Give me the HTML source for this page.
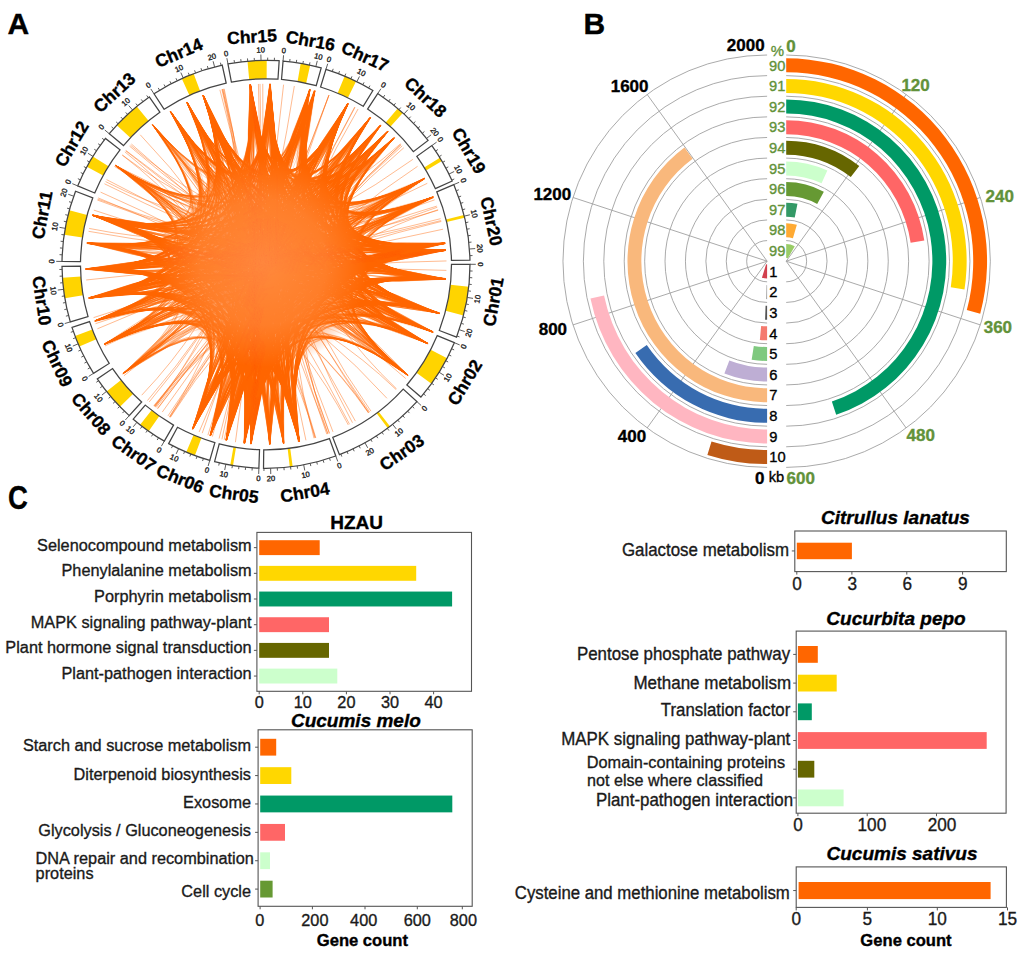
<!DOCTYPE html>
<html><head><meta charset="utf-8"><title>Figure</title>
<style>
html,body{margin:0;padding:0;background:#fff;}
body{width:1024px;height:966px;overflow:hidden;}
svg{display:block;font-family:"Liberation Sans", sans-serif;}
</style></head><body>
<svg width="1024" height="966" viewBox="0 0 1024 966">
<rect width="1024" height="966" fill="#fff"/>
<text x="7.6" y="33.9" font-size="30" font-weight="bold" stroke="#000" stroke-width="0.35">A</text>
<text x="583.6" y="33.9" font-size="30" font-weight="bold" stroke="#000" stroke-width="0.35">B</text>
<text transform="translate(7.9 508.6) scale(0.84 1)" x="0" y="0" font-size="32.8" font-weight="bold" stroke="#000" stroke-width="0.35">C</text>
<g id="circos">
<defs><radialGradient id="core"><stop offset="0" stop-color="#FF6E14" stop-opacity="1"/><stop offset="0.55" stop-color="#FF6E14" stop-opacity="0.95"/><stop offset="1" stop-color="#FF6E14" stop-opacity="0"/></radialGradient></defs>
<circle cx="269" cy="266.3" r="100" fill="url(#core)"/>
<path d="M221.92 89.26Q266 264.3 210.21 435.96M223.53 88.87Q266 264.3 244.36 443.5M224.16 88.72Q266 264.3 210.19 435.96M222.7 89.07Q266 264.3 210.56 436.07M283.59 84.66Q266 264.3 226.66 440.46M294.34 86.04Q266 264.3 210.07 435.91M328.98 95.14Q266 264.3 192.56 429.19M328.86 95.1Q266 264.3 226.45 440.41M329.03 95.16Q266 264.3 192.52 429.16M355.02 107.28Q266 264.3 250.67 444.15M354.69 107.09Q266 264.3 250.76 444.16M358.06 109.04Q266 264.3 250.92 444.17M400.42 143.83Q266 264.3 85.57 269.24M403.82 147.75Q266 264.3 192.67 429.23M401.15 144.66Q266 264.3 226.02 440.32M402.19 145.84Q266 264.3 193.07 429.41M400.95 144.43Q266 264.3 226.17 440.35M412.86 159.36Q266 264.3 88.67 297.98M438.2 210.2Q266 264.3 85.56 268.87M438.05 209.73Q266 264.3 192.57 429.19M436.85 206.08Q266 264.3 86.77 242.89M437.25 207.27Q266 264.3 104.18 344.26M441.33 221.43Q266 264.3 104.2 344.3M441.12 220.54Q266 264.3 88.72 298.24M440.64 218.68Q266 264.3 85.56 268.92M396.58 388.92Q266 264.3 250.63 84.46M396.01 389.51Q266 264.3 85.56 268.84M386.95 398.29Q266 264.3 92.34 215.09M368.58 412.82Q266 264.3 202.89 95.19M368.43 412.92Q266 264.3 86.8 242.68M370.96 411.15Q266 264.3 250.45 84.47M368.93 412.57Q266 264.3 86.75 243.11M348.31 424.94Q266 264.3 92.28 215.3M327.92 433.85Q266 264.3 347.99 103.5M329.33 433.33Q266 264.3 269.69 83.84M327.87 433.87Q266 264.3 187.16 101.93M329.46 433.28Q266 264.3 269.67 83.84M326.83 434.24Q266 264.3 250.19 84.49M314.02 438.29Q266 264.3 314.78 90.52M315.78 437.8Q266 264.3 203.04 95.14M315.02 438.02Q266 264.3 186.8 102.1M315.35 437.92Q266 264.3 115.15 165.18M168.01 415.88Q266 264.3 380.9 125.1M169.56 416.88Q266 264.3 250.3 84.48M170.35 417.38Q266 264.3 433.47 196.96M169.51 416.84Q266 264.3 387.9 131.18M155.08 406.7Q266 264.3 445.24 243.01M157.4 408.47Q266 264.3 388.17 131.43M149.22 401.93Q266 264.3 309.83 89.2M155.34 406.9Q266 264.3 250.2 84.49M156.12 407.5Q266 264.3 445.27 243.3M157.69 408.69Q266 264.3 380.78 125M153.78 405.68Q266 264.3 445.95 250.25M154.19 406Q266 264.3 424.77 178.43M141.72 395.2Q266 264.3 270.13 83.85M89.1 228.42Q266 264.3 424.84 178.56M88.54 231.31Q266 264.3 445.26 243.15M98.15 197.92Q266 264.3 408.12 375.58M104.46 183.77Q266 264.3 439.69 313.4M106.59 179.63Q266 264.3 433.32 332M105.57 181.58Q266 264.3 433.36 196.7M122.33 155.03Q266 264.3 445.21 242.73M125.9 150.49Q266 264.3 445.91 278.84M124.83 151.82Q266 264.3 299.43 441.68M122.26 155.12Q266 264.3 283.52 443.95M130.44 145.12Q266 264.3 445.29 243.46M129.56 146.13Q266 264.3 433.23 332.23M131.42 144.02Q266 264.3 408.19 375.49M140.26 134.8Q266 264.3 299.17 441.73M100.56 192.11Q266 264.3 408.29 375.36M224.16 439.88Q266 264.3 250.24 84.49M434.62 199.9Q266 264.3 92.23 215.46M93.82 210.12Q266 264.3 433.13 332.48M333 431.9Q266 264.3 250.03 84.51M446.4 270.38Q266 264.3 85.56 269.05M97.7 199.07Q266 264.3 445.96 250.37M355.39 421.11Q266 264.3 186.9 102.05M95.54 323.65Q266 264.3 445.97 250.53M170.1 417.22Q266 264.3 388.24 131.49M260 83.9Q266 264.3 225.88 440.28M258.42 83.96Q266 264.3 244.65 443.53M93.56 317.63Q266 264.3 424.67 178.26M86.18 279.99Q266 264.3 433.77 197.71M443.05 229.19Q266 264.3 94.7 321.2M125.69 150.75Q266 264.3 428.07 343.76M262.77 83.83Q266 264.3 226.17 440.35M199.14 431.96Q266 264.3 387.62 130.92M97.42 328.81Q266 264.3 380.81 125.02M235.42 442.19Q266 264.3 187.21 101.9M105 345.9Q266 264.3 445.96 250.36M405.77 378.52Q266 264.3 170.45 111.17M221.91 439.33Q266 264.3 203.12 95.11M154.7 406.4Q266 264.3 310.23 89.3M424.71 178.32Q266 264.3 88.61 297.67M417.59 166.31Q266 264.3 192.57 429.19M446.47 260.95Q266 264.3 88.62 297.71M97.33 200.02Q266 264.3 445.94 278.51M114.36 166.4Q266 264.3 445.94 250.14M147.51 400.47Q266 264.3 314.22 90.36M369.66 412.07Q266 264.3 186.42 102.29M219.9 89.79Q266 264.3 299.46 441.67M305.94 440.33Q266 264.3 270.16 83.85M349.57 424.29Q266 264.3 152.38 124.05M202.19 433.14Q266 264.3 269.96 83.84M86.7 243.54Q266 264.3 445.9 279.02M154.44 406.19Q266 264.3 388.32 131.57M162.3 412.04Q266 264.3 380.38 124.66M207.88 435.19Q266 264.3 250.04 84.51M123.99 375.72Q266 264.3 387.77 131.06M352.47 422.74Q266 264.3 249.86 84.52M222.4 89.14Q266 264.3 298.29 441.89M427.31 183.31Q266 264.3 88.75 298.39M219.08 438.6Q266 264.3 270.17 83.85M212.36 436.65Q266 264.3 203.17 95.09" fill="none" stroke="#FF6A0D" stroke-opacity="0.7" stroke-width="0.65"/>
<path d="M173.38 115.95Q266.47 259.16 386.96 132.38M171.8 114Q278.93 262.72 210.91 432.49M171.86 113.34Q285.11 257.81 283.2 440.62M171.38 113.21Q282.12 260.7 244.63 442.28M171.43 113.38Q255.24 257.48 89.2 243.2M171.52 113.49Q265.56 254.13 348.01 103.95M171.74 113.02Q257.14 259.53 88.12 268.82M171.62 112.9Q286.14 256.44 298.87 438.14M173.02 115.62Q261.17 246.75 269.82 85.61M173.04 115.39Q286.12 256.45 298.97 439.8M170.89 112.3Q266.47 259.19 384.07 135.69M172.1 113.69Q253.55 278.09 427.82 343.58M176.05 120.08Q257.13 259.53 87.04 268.85M172.33 114.55Q265.54 254.06 347.11 104.6M172.45 114.27Q256.72 276.67 438.91 312.92M170.95 112.1Q282.65 260.28 250.85 442.58M170.78 111.75Q261.91 272.41 445.78 250.07M188.76 105.89Q257.2 258.05 88.98 243.35M187.07 102.59Q286.05 259.44 269.88 443.68M187.95 103.6Q255.36 275.67 431.24 331.33M187.25 103.07Q255.37 275.7 430.41 330.81M186.82 102.36Q254.11 276.19 427.07 343.04M187.23 102.96Q280.94 263.24 210.66 435.31M188.86 106.04Q284.61 260.81 251.06 443.91M188.95 106.5Q282.47 262.37 227.22 437.15M187.63 103.81Q284.57 260.83 250.81 443.44M187.75 103.25Q259.09 260.1 87.1 269.04M203.96 97.9Q260.75 260.75 91 268.55M204.22 98.41Q257.24 256.22 95.84 216.05M204.5 97.81Q263.17 268.72 441.5 250.43M204.06 97.78Q263.2 262.72 90.96 297.64M203.77 96.67Q280.83 264.77 193.57 426.76M204.8 100.22Q263.62 268.19 438.92 243.77M203.33 96.26Q263.61 268.21 443.69 243.42M205.73 102.14Q266.81 250.44 346.5 106.93M203.89 97.06Q285.79 261.96 244.63 440.59M206.3 104.03Q267.72 255.5 384.27 135.13M203.8 96.4Q265.38 264 96.47 320.29M203.87 96.34Q286.36 261.53 251.15 441.03M203.29 96Q260.97 270.94 444.33 278.95M203.72 96.6Q258.93 258.73 87.83 243.03M203.2 95.61Q263.2 262.72 90.32 297.81M204.63 99.1Q266.2 263.86 430.24 198.53M203.71 97.06Q257.95 273.04 439.58 313.22M203.36 96.43Q257.93 273.06 433.96 311.81M204.15 98.34Q280.81 264.76 193.94 426.06M203.3 95.96Q260.79 260.79 87.08 269.14M203.24 95.94Q263.63 268.19 445.02 243.04M203.01 95.55Q263.18 262.71 88.89 297.94M203.69 97.02Q255.21 250.77 116.42 166.09M203.52 96.19Q266.94 261.8 422.39 179.73M250.84 91.45Q265.13 263.52 88.67 269M250.59 86.18Q290.15 264.7 244.53 443.26M250.28 86.29Q268.93 259.53 432.28 197.56M250.79 89.26Q263.26 261.47 87.28 242.88M250.68 87.58Q269.56 246.09 347.97 104.02M250.21 84.75Q265.14 263.53 87.15 269.17M250.39 87.68Q260.65 268.73 436.78 312.77M250.5 88.53Q269.67 257.47 419.12 181.44M250.56 87.55Q261.58 258.96 93.79 215.35M250.74 92.61Q269.53 246.11 347.11 105.34M250.35 85.08Q288.55 265.81 227.32 436.68M250.23 85.3Q240.5 267.79 298.62 439.53M250.44 85.33Q269.54 246.03 346.3 105.85M250.54 85.91Q266.37 263.85 444.98 243.31M251.23 93.02Q288.58 265.82 227.2 437.58M250.61 86.07Q253.7 270.98 407.61 374.74M250.33 84.87Q269.54 246.07 345.02 109M250.21 85.49Q260.64 268.73 437.68 313.11M250.68 84.83Q266.38 263.83 443.69 243.49M250.63 87.01Q292.13 262.9 269.62 440.08M250.57 86.93Q239.18 266.78 283.24 440.93M250.58 86.68Q257.56 270.09 423.37 341.27M270.15 85.29Q264.81 262.92 87.4 243.06M269.75 85.98Q271.63 247.29 369.38 118.84M270.34 84.07Q266.68 264.98 89.88 268.92M269.79 86.9Q240.61 265.28 283.29 439.48M270.13 85.39Q266.66 264.96 85.82 268.9M270.09 85.88Q267.31 262.92 444.12 250.62M269.97 83.95Q265.15 265.07 441.27 278.67M270.47 86.95Q266.69 264.99 88.36 268.84M270.26 86.66Q271.85 248.58 379.49 126.27M270.24 87.2Q291.68 266.15 244.51 442.79M269.94 84.73Q292.18 265.69 250.98 442.29M269.72 88.75Q255.08 269.48 402.39 370.96M270.22 87.54Q258.99 268.56 423.32 341.35M270.17 85.71Q267.81 262.31 440.45 243.73M270.01 91.01Q267.82 262.3 442.33 243.4M270.31 83.89Q258.96 268.57 425.35 342.73M270 85.89Q258.95 268.58 427.19 343.55M270.18 84.52Q270.99 244.54 347.97 103.58M269.55 84.52Q241.91 266.29 298.96 441.01M269.93 83.9Q267.31 262.92 445.65 250.31M270.08 84.47Q266.66 264.96 86.25 269.02M270.04 87.43Q271.9 249.62 386.32 132.98M269.7 86.58Q271.89 250.63 393.77 138.49M269.73 86.54Q277.28 270.03 125.07 372M269.62 87.95Q264.77 262.89 92.98 243.7M269.93 86.66Q288.53 268.12 211.08 433.41M269.95 85.52Q273.66 269.19 107.11 342.41M270.12 85.73Q271.91 249.62 386.58 132.76M270.14 84.83Q267.8 262.33 445.18 243.35M270.15 84.04Q288.55 268.13 210.93 434.23M270.11 84.74Q292.2 265.7 250.92 443.02M270.09 84.11Q258.99 268.56 426.94 342.92M270.22 86.57Q286.72 268.96 193.8 426.69M270.36 86.94Q265.21 265.01 445.87 278.75M269.87 84.76Q265.15 265.07 440.88 278.62M270.14 87.68Q260.22 268.09 431.49 331.67M269.85 85.44Q267.79 262.33 441.23 243.64M269.97 85.95Q260.79 249.07 152.98 124.83M269.78 87.89Q265.17 265.05 445.52 278.68M269.78 85.74Q264.78 262.9 90.53 243.44M270.09 86.88Q290.11 267.24 227.29 437.6M307.7 99.15Q289.32 272.35 194.57 425.26M309.59 90.9Q275.23 246.01 377.67 128.39M308.87 93.94Q241.57 260.25 251.18 443.82M309.12 91.65Q271.18 259.74 441.9 243.53M309.38 91.96Q268.55 262.48 439.46 278.67M310 89.52Q275.3 247.04 387.3 132.01M309.44 91.76Q289.34 272.34 194.78 425.28M309.31 92.09Q289.28 272.35 193.81 426.17M309.59 89.76Q269.23 268.33 86.62 268.92M310.08 89.81Q276.29 272.62 104.64 343.88M308.49 95.08Q241.54 260.22 250.89 443.26M309.75 89.62Q245.35 263.69 298.69 438.14M309.52 92.27Q240.01 258.08 226.23 440.25M313.33 95.96Q271.64 259.48 444.59 243.49M314.27 92.47Q245.82 263.4 298.84 439.59M314.24 92.79Q266 264.3 94.38 215.99M314.22 91.89Q274.95 253.11 423.72 179.27M314.47 92.62Q274.25 255.12 431.31 197.97M313.12 96.55Q241.55 259.41 244.22 443.19M314.38 92.06Q264.08 265.24 430.55 331.11M314.69 91.24Q263.96 258.84 120.88 169.23M314.28 91.11Q245.8 263.43 298.6 437.46M313.3 95.6Q264.03 250.65 171.33 113.47M314.49 91.94Q264.61 248.67 187.3 102.16M313.73 92.72Q240.41 257.87 227.09 437.72M314.69 90.66Q241.56 259.42 244.63 441.05M314.5 91.64Q269.54 268.84 89 269.24M313.98 93.36Q289.55 272.8 193.38 427.34M346.41 106.58Q277.7 253.6 431.77 197.62M346.04 107.08Q245.48 258.49 251.43 442.98M346.18 107.27Q267.52 263.74 431.54 331.85M346.37 106.56Q274.65 258.51 444.22 250.11M346.67 106.01Q272.47 260.69 443.96 278.93M345.24 108.77Q249.25 261.87 298.83 441.03M348.14 103.85Q266.3 264.2 427.86 343.81M346.04 106.99Q265.16 256.42 152.71 125.14M347.94 103.84Q274.66 258.52 444.39 250.25M345.94 106.66Q267.54 263.72 432.78 331.59M345.91 107.85Q278.45 251.56 424.03 178.95M345.92 107.98Q273.46 274.25 93.18 297.37M346.96 105.24Q274.62 258.54 443.93 250.43M347.48 104.5Q266.81 250.4 204.81 99.17M347.61 104.74Q245.5 258.45 251.2 442.31M347.17 105.61Q267.57 263.71 431.19 331.26M347.57 103.77Q272.44 260.71 442.22 278.87M346.4 107.15Q266.11 252.18 187.58 103.57M347.77 103.89Q269.55 246.08 250.48 86.54M347.84 103.91Q246.87 259.93 270.08 444.4M346 107.41Q277.69 253.62 428.8 199M347.22 104.3Q269.53 246.05 250.49 87.1M347.72 104Q278.44 251.54 419.87 180.84M370.21 117.24Q246.6 255.65 226.68 438.41M368.16 120.56Q268.15 270.42 93.16 215.03M368.71 120.15Q271.69 275.01 89.71 268.82M369.02 118.74Q278.74 279.21 109.25 341.81M369.68 117.64Q268.98 263.54 426.4 342.72M369.63 118.69Q268.18 270.49 93 215.67M370.22 117.93Q266.13 264.97 118.14 166.77M367.17 122.48Q278.73 279.27 105.08 343.69M369.74 118.39Q280.43 252.92 430.97 197.86M368.33 119.98Q249.54 259.25 269.81 440.61M370.51 117.52Q275.19 260.04 445.17 279.26M368.95 119.12Q281.13 250.91 421.09 180.59M368.45 120.41Q271.69 275.01 86.38 268.92M369.68 118.68Q269.84 272.97 89.43 243.3M370.12 117.67Q269.01 263.54 427.62 343.42M369.42 118.69Q274.12 276.94 90.08 297.9M369.95 117.93Q246.63 255.68 226.67 440.01M369.77 118.33Q278.74 279.25 106.48 343.19M379.7 126.5Q253.39 261.06 299.15 439.67M380.77 125.52Q271.67 262.86 433.28 331.93M379.08 127.21Q268.35 271.82 95.85 216.29M380.13 125.88Q271.82 248.64 269.89 84.54M377.87 128.99Q279.2 257.13 443 243.76M377.88 128.95Q246.31 252.09 193.1 427.77M380.43 125.53Q267.64 254.51 203.07 95.55M380.2 125.6Q279.18 257.11 443.42 243.42M379.27 126.41Q279.16 257.11 443.3 243.46M379.19 126.84Q281.77 252.75 430.81 197.94M380.55 125.01Q246.27 252.11 193.63 426.99M379.01 126.98Q269.99 274.26 91.77 243.23M378.05 128.43Q274.29 278.3 89.8 297.8M378.47 127.68Q271.87 276.33 90.9 268.82M378.55 127.59Q247.97 255.47 226.78 438.2M377.87 128.32Q276.5 259.87 444.38 279.32M383.84 136Q271.98 277.4 87.75 269.34M387.23 132.14Q249.01 255.42 227.09 438.01M387.01 132.54Q270.07 275.31 92.46 243.37M387.85 131.34Q250.54 257.53 251 442.2M387.64 131.96Q274.54 261.88 439.67 313.4M386.15 133.09Q274.37 279.3 91.89 297.58M386.67 132.38Q267.73 255.46 204.19 97.67M386.62 132.81Q254.37 260.98 299.03 440.28M387.04 131.81Q250.53 257.55 251.36 441.17M386.74 132.69Q248.12 253.87 210.85 434.06M386.31 132.66Q277.53 259.77 444.34 278.85M386.36 132.91Q268.42 272.81 92.34 215.24M387.78 131.31Q275.32 247.02 309.54 92.12M391.3 141.24Q282.62 283.45 123.13 373.65M394.3 137.74Q271.9 250.61 269.83 85.44M390.76 141.34Q281.17 257.01 444.19 243.2M393.34 139.05Q267.74 256.49 203.96 97.56M394.05 137.79Q270.49 252.1 250.94 90.31M391.79 140.34Q251.08 256.98 244.49 443.25M393.69 138.61Q273.62 262.78 428.5 330.04M392.09 139.75Q266.49 260.1 171.68 113.11M394.59 137.7Q271.92 250.61 270.02 88.23M393.55 138.39Q280.69 257.58 444.76 250.15M390.94 140.56Q271.99 278.3 88.65 269.23M390.31 141.58Q276.55 281.53 95.25 320.8M392.49 139.86Q278.54 259.75 445.54 278.99M393.69 138.37Q268.43 273.77 95.38 215.99M388.92 143.15Q270.48 252.13 250.29 84.62M393.98 138.18Q272.34 263.27 425.63 342.51M393.41 139.07Q271.95 278.34 88.58 268.72M390.25 141.92Q251.52 257.51 250.91 442.92M392.35 139.34Q271.95 278.28 87.35 268.83M421.41 180.87Q278.41 251.62 346.97 105.22M424.61 178.41Q256.83 258.3 250.87 442.94M423.67 178.97Q253.58 252.78 194.58 424M421.53 180.34Q255.29 256.18 226.45 439.42M424.17 179.18Q259.36 260.76 283.57 443.18M422.3 179.99Q269.68 257.47 250.57 86.86M424.73 178.52Q281.16 250.89 367.47 121.71M424.2 178.6Q283.81 260.57 440.13 278.95M418.66 181.78Q278.4 251.57 346.41 105.84M420.47 180.84Q265.7 265.44 174.51 117.41M422.04 180.15Q273.59 285.63 90.54 297.85M424.32 178.5Q260.67 261.77 299.35 440.5M422.77 179.5Q275.78 286.89 97.74 320.32M424.46 178.17Q260.62 261.74 299 440.31M421.84 180.55Q260.69 261.76 298.85 440.59M424.57 178.43Q253.58 252.8 193.48 426.91M424.04 178.67Q267.64 279.1 95.84 216.23M432.76 197.3Q266.2 263.84 203.91 97.25M430.05 198.24Q266.2 263.85 203.27 96.26M432.81 197.2Q270.45 285.71 87.15 269.26M432.19 197.61Q270.39 257.97 270.18 84.63M432.13 197.5Q270.4 257.95 270.29 84.42M431.52 197.43Q277.71 253.57 344.57 110.13M430.9 198.14Q266.89 281.16 93.33 215.34M431.49 198.06Q274.23 255.14 314.19 92.81M430.04 198.89Q256.51 255.41 210.52 435.44M431.73 197.78Q255.39 240.54 105.13 343.57M430.51 198.57Q268.92 259.55 250.24 85.24M433.22 197.21Q275.01 288.93 96.69 320.37M430.77 198.39Q266.88 281.17 93.26 215.25M432.57 197.49Q282.88 263.4 439.22 313.19M429.44 198.47Q279.68 264.8 426.71 343.23M441.71 243.81Q267.78 262.34 270.01 85.58M436.32 244.35Q264.31 285.52 94.57 215.92M439.95 243.95Q263.25 261.64 251.5 437.19M438.94 244Q271.2 259.73 309.58 91.22M441.36 243.49Q260.79 257.95 210.98 433.41M445.04 243.25Q262.8 261.09 244.81 439.78M443.51 243.68Q264.29 285.52 93.57 215.42M439.7 243.55Q262.95 269.88 187.35 102.6M442.29 243.66Q275.11 257.96 346.34 106.67M442.42 243.62Q263.25 261.64 251.18 440.88M445.11 243.51Q285.34 266.93 429.03 330.45M443.24 243.73Q267.82 290.07 90.16 268.85M442.97 243.63Q261.68 259.49 226.73 437.44M442.59 243.74Q262.03 238.55 92.59 297.68M444.57 243.49Q262.27 280.06 118.95 167.73M439.15 244.05Q262.79 261.07 244.65 438.18M443.58 243.18Q267.86 290.02 88.64 268.84M445.16 243.25Q285.32 266.91 432.75 331.96M442.14 243.35Q263.63 268.19 203.97 98.03M445.1 243.04Q263.23 261.62 250.97 443.84M444.01 243.43Q264.6 263.08 269.42 440.79M443.97 243.65Q260.01 256.14 193.26 427.46M443.69 243.21Q264.62 263.1 269.98 442.14M444.34 243.46Q262.36 271.89 171.55 113.6M442.48 243.68Q260.81 257.96 210.13 435.8M442.39 243.58Q275.13 257.95 347.82 104.2M441.66 250.8Q278.7 257.7 379.9 126.1M445.09 250.29Q284.62 267.87 424.62 342.25M440.5 250.42Q277.38 257.84 368.46 120.14M440.95 250.41Q262.59 238.97 95.79 296.79M442.43 250.46Q284.64 267.86 426.76 343.07M445.01 250.33Q263.85 262.14 251.51 441.75M442.55 250.6Q267.37 290.64 85.96 269.11M445.65 250.3Q263.13 268.79 203.33 96.24M445 250.11Q262.24 259.96 226.57 439.06M444.57 250.25Q265.53 288.6 86.84 243.21M439.96 250.38Q279.76 257.59 387.05 132.54M441.73 250.72Q277.37 257.87 367.4 121.99M443.01 250.35Q266.28 264.54 283.28 440.13M445.64 250.03Q285.86 267.37 431.12 331.49M444.62 250.35Q261.39 258.45 210.65 434.86M442.69 250.33Q261.52 274.74 154.9 127.3M440.25 250.98Q263.83 286.13 92.3 215.39M445.66 250.27Q260.31 243.61 107.85 342.49M441.58 250.53Q265.88 264.45 250.69 91.38M445.41 250.27Q262.46 270.48 187.63 103.08M444.22 250.27Q263.15 268.77 204.59 99.35M445.56 250.12Q267.35 290.59 86.81 268.59M441.82 250.52Q267.34 262.88 270.14 90.19M444.46 250.12Q260.55 256.59 193.23 427.59M443.76 250.47Q267.31 262.92 269.91 86.12M442.86 250.36Q267.33 262.89 270.04 86.32M443.98 279.31Q265.56 263.76 244.42 442.59M441.87 278.77Q259.72 274.62 174.23 117.93M445.11 279.19Q267.37 265.75 269.83 444.3M445.64 279.23Q265.98 264.28 250.88 442.89M442.15 279.05Q266.72 238.77 93.09 269M440.69 278.61Q269.01 262.21 314.71 90.51M440.76 278.78Q260.98 270.92 204.54 98.44M443.2 278.94Q282.93 270.93 405.69 373.57M444.83 278.82Q261 270.9 204.17 97.5M443.81 278.86Q269.03 262.19 314.24 93.23M439.79 278.92Q260.94 270.96 203.4 96.14M444.63 278.73Q265.18 265.04 270.05 85.03M444.59 279.27Q259.71 274.61 171.59 113.12M445.71 278.87Q272.48 260.68 347.84 103.56M444.62 279.15Q275.17 260.04 369.55 118.46M445.11 279.11Q269.77 267.71 298.58 439.68M441.15 278.77Q268.51 262.5 308.97 91.6M444.92 279.01Q263.71 266.6 250.69 89.65M441.04 278.59Q265.17 265.05 270.12 85.81M445.27 278.87Q278.54 259.75 394.24 138.03M440.91 278.47Q265.18 265.04 270.08 87.98M439.72 278.34Q264.77 241.11 89.66 297.6M441.26 278.72Q264.76 241.17 90.6 297.95M442.71 279.01Q268.56 262.47 309.32 92.88M444.76 278.84Q269.04 262.19 314.01 93.94M439.03 313.02Q266.52 265.18 226.97 437.83M439.23 313.05Q266.88 244.15 92.56 297.15M437.32 312.67Q260.69 268.69 250.37 84.51M434.91 312.05Q270.89 239.9 88.18 242.88M436.78 312.59Q269.41 262.81 347.18 104.7M435.99 312.3Q266.86 244.2 91.93 297.66M439.69 313.42Q280.82 262.66 424.56 178.62M438.24 312.79Q270.55 269.74 283.47 441.89M434.78 312.27Q266.89 244.22 89.59 297.98M435.74 312.37Q272.12 262.14 370.19 117.38M435.28 312.14Q266.54 265.21 227.7 435.53M439.61 313.43Q267.64 266.76 244.59 440.25M439.63 313.61Q262.08 267.2 269.8 84.6M435.54 312.41Q264.85 261.84 192.84 428.75M435.84 312.05Q264.81 261.76 193.32 426.83M437.37 312.3Q267.61 266.72 244.27 442.8M433.16 311.6Q275.44 261.87 391.61 139.96M438.62 312.93Q260.68 268.72 250.4 88.82M437.18 312.97Q265.62 246.38 99.87 319.29M437.52 312.73Q273.54 261.95 379.01 127.51M438.98 312.82Q264.81 261.77 192.64 428.79M433.54 311.8Q265.63 246.32 98.15 319.36M437.31 313.22Q273.38 238.3 92.84 215.51M438.85 313.08Q271.87 270.73 298.37 438.31M439.28 313.14Q269.45 262.79 345.85 107.87M438.8 312.76Q257.96 273.04 204.89 100.69M431.99 331.35Q285.36 266.91 442.58 243.69M425.94 329.44Q271.58 262.89 377.71 128.48M431.51 331.21Q258.82 269.61 250.66 88.14M432.7 332.06Q285.88 267.38 443.67 250.33M429.48 330.84Q285.31 266.93 444.79 243.44M431.08 331.69Q266.55 248.28 95.45 320.71M432.96 332.32Q264.08 265.24 314.45 92.87M431.17 331.36Q267.44 267.06 226.42 439.05M432.49 331.68Q268.57 268.66 244.63 442.31M431.85 331.99Q267.48 263.75 346.56 105.6M425.43 342.11Q266.23 264.93 192.73 428.85M427.7 343.41Q253.17 280.44 156.13 129.15M424.19 341.53Q257.56 270.1 250.29 84.96M424.09 341.83Q266.25 264.98 194.61 424.99M427.07 343.01Q265.13 255.56 125.7 371.73M428.08 343.52Q266.24 264.96 193.04 428.51M425.9 342.55Q254.8 274.45 203.49 96.61M426.73 343.06Q269.04 269.91 244.62 440.59M428.04 343.61Q269.05 269.91 245.07 437.58M425.67 342.53Q279.71 264.8 429.92 198.4M425.49 342.37Q269.01 263.54 368.18 120.42M427.78 343.34Q253.57 278.1 170.59 111.65M425.2 342.04Q253.48 286.28 115.72 165.45M405.55 373.49Q280.15 268.25 443.3 243.06M405.65 373.43Q269.92 273.76 244.19 442.65M404.5 372.36Q268.5 264.16 393.56 138.75M404.51 372.36Q270.37 274.3 250.96 442.15M405.95 373.29Q267.89 253.35 98.97 319.75M404.66 372.54Q275.86 265.7 431.61 197.86M405.87 373.8Q268.82 272.22 227.57 434.92M405.49 373.09Q266.52 264.24 380.21 125.86M407.29 374.49Q280.79 268.75 444.18 250.37M407.3 374.18Q273.84 264.95 423.98 178.8M403.62 371.95Q280.21 268.3 443.16 243.74M402.23 371.12Q262.39 265.1 347.76 103.89M406.02 374.13Q273.15 246.97 87.48 243.19M405.56 373.47Q258.96 266.6 314.93 90.61M298.53 437.03Q267.65 265.56 445.92 250.3M299.17 440.41Q240.54 267.8 250.37 84.69M298.72 439.15Q289.78 257.71 203.92 97.02M298.59 439.75Q249.26 261.87 347.17 105.36M299.13 441.59Q289.76 257.71 203.43 96.24M299.26 441.26Q265.97 264.34 93.13 297.28M298.13 434.5Q272.83 272.64 425.47 328.77M299.22 440.72Q241.99 266.25 270.23 87.36M298.81 441.76Q267.6 265.53 445.4 250.39M299.08 441.22Q264.69 266.52 98.13 319.87M298.35 439.18Q273.26 273.86 427.23 343.16M298.21 435.6Q273.31 273.91 425.73 342.56M298.91 440.44Q263.66 268.98 105.9 343.35M299 441.5Q249.25 261.88 347.09 104.98M298.76 440.77Q264.68 266.54 97.5 320.03M298.86 439.92Q271.88 270.74 439.08 313.05M298.66 438.75Q267.58 265.51 445.88 249.68M299.33 440.93Q240.55 267.8 250.47 85.65M298.84 438.7Q273.31 273.89 426.94 343M299.42 441.1Q272.45 258.39 94.27 216M298.69 438.37Q269.79 267.71 445.85 279.01M298.92 440.67Q260.62 261.74 423.26 178.96M298.85 440.77Q240.5 267.79 250.3 85.75M298.37 437.69Q240.5 267.8 250.5 88.69M298.98 440.35Q263.92 281.95 193.99 425.54M283.19 439.32Q247.94 260.89 347.3 104.79M283.5 441.05Q247.94 260.9 347.84 103.45M283.55 439.12Q261.37 261.5 431.28 197.61M283.52 441.36Q261.36 261.49 427.98 199.05M283.47 443.07Q239.18 266.78 250.69 89.34M283.72 443.19Q268.47 266.74 445.69 279.23M283.65 442Q264.98 265.67 90.08 297.85M283.18 442.81Q264.95 265.7 91.66 297.31M283.47 440.86Q262.68 270.28 106.31 343.04M282.59 435.57Q287.04 258.38 189.45 106.82M283.65 442.52Q247.98 260.89 346.64 106.66M283.42 440.61Q262.66 270.31 105.49 343.75M270.03 442.85Q239.55 264.29 270.12 84.7M269.63 443.58Q249.53 259.23 369.4 118.59M269.45 444.67Q287.76 260.17 203.19 95.6M269.87 442.08Q243.4 261.43 314.58 91.9M270.01 440.92Q275.94 258.78 119.77 168.43M269.55 442.68Q252.83 258.96 392.27 139.33M269.58 444.1Q265.91 264.4 86.84 269.13M269.86 443.44Q239.52 264.3 269.9 85.66M269.68 441.32Q263.99 266.78 90.7 297.64M269.81 441.49Q281.82 258.5 153.69 125.69M269.57 442.2Q249.56 259.23 369.56 118.91M269.99 443.35Q262.73 268.93 95.51 320.63M269.78 444.55Q286.09 259.46 188.88 105.3M269.93 443.15Q261.96 284.39 192.7 428.77M269.77 442.9Q239.52 264.29 269.98 84.47M269.63 443.84Q270.44 260.87 93.66 215.87M251.15 443.93Q250.54 257.55 387.25 131.74M250.84 443.92Q245.43 258.45 346.61 105.53M251.2 441.2Q245.47 258.45 347.83 103.86M250.69 442.93Q264.44 265.77 90.37 268.95M251.23 439.19Q263.24 261.63 442.3 243.58M250.9 441.93Q286.32 261.53 203.67 96.47M251.42 441.09Q290.64 264.2 249.75 84.82M251.26 441.15Q286.35 261.51 204.81 99.36M250.97 443.72Q265.99 264.28 445.31 279.13M251.18 443.47Q263.27 261.66 440.01 243.95M251.05 442.01Q268.1 267.34 433.52 311.93M250.63 444.01Q264.45 265.76 87.41 268.95M251.46 443.61Q268.12 267.34 438.49 312.94M251.63 435.45Q284.58 260.82 187.11 102.68M251.16 442.54Q264.47 265.74 86.44 269.09M251.63 437.36Q269.49 270.44 426.83 342.79M250.86 443.11Q266.49 263.9 89.59 243.49M251.17 440.47Q292.18 265.68 269.9 84.08M250.99 443.39Q263.25 261.64 441.64 243.74M250.9 440.71Q256.83 258.29 422.07 179.99M250.93 443.31Q284.57 260.82 187.22 103.2M250.88 444.03Q264.47 265.75 87.42 268.99M250.72 441.13Q292.17 265.74 270.09 89.19M244.32 442.33Q249.11 257.04 380.67 125.47M244.13 443.11Q268.54 268.61 430.38 330.73M244.76 439.77Q249.12 257.05 380.01 126.23M244.51 440.24Q263.91 266.2 86.77 268.94M244.91 439.24Q290.14 264.7 250.61 86.69M244 443.15Q273.9 260.64 117.25 166.64M244.69 440.75Q245.04 257.9 347.29 105.21M244.48 441.25Q262.77 261.06 443.41 243.22M244.73 443.14Q268.51 262.63 94.79 215.82M244.88 437.56Q245.02 257.89 347.87 103.81M244.63 439.99Q290.11 264.71 250.36 85.05M244.88 439.78Q251.08 256.98 393.48 138.68M244.79 440.35Q241.55 259.44 314.29 91.72M244.33 442.58Q290.12 264.71 250.43 84.96M244.47 443.36Q284.08 261.26 187.64 103.22M244.82 441.21Q262.82 261.11 441.22 243.78M244.6 439.99Q267.65 266.79 437.52 313.13M244.35 443.24Q241.56 259.42 313.75 94.33M244.92 440.61Q291.65 266.1 269.72 86.35M226.83 438.22Q264.38 265.44 89.23 243.32M226.65 438.65Q266.89 263.77 96.29 216.23M226.82 436.15Q243.87 256.28 345.08 108.91M226.94 438.77Q260.42 269.7 90.45 297.73M227.06 437.13Q284.23 263.09 203.77 96.2M226.94 437.48Q264.38 265.44 91.21 243.49M227.92 433.42Q262.34 267.31 88.8 269.05M228.74 429.99Q272.33 261.74 115.1 165.44M226.8 438.78Q290.07 267.24 269.92 85.82M226.78 439.52Q262.35 267.3 89.07 269.1M227.66 434.87Q259.14 271.87 98.17 319.75M226.66 438.59Q262.25 259.97 445.73 250.24M226.55 440.01Q243.87 256.35 347.36 103.76M226.78 438.28Q264.42 262.15 445.87 279.09M226.39 440.14Q264.4 262.13 445 278.79M226.62 439.56Q262.26 259.98 445.08 250.23M227.52 435.64Q267.46 267.09 428.99 330.43M227.05 437.84Q262.23 259.96 444.33 249.89M227.03 437.29Q243.9 256.32 345.5 108.26M226.29 440.03Q290.06 267.26 270.03 86.9M227.01 436.28Q266.53 265.19 439.27 313.52M226.83 438.38Q262.27 259.99 443.35 250.53M226.41 439.14Q260.38 269.73 90.47 297.71M226.64 439.19Q259.14 271.87 94.83 320.81M226.82 436.96Q266.87 263.79 95.08 215.92M227.89 434.22Q262.36 267.29 85.97 269.02M226.34 440Q249.91 255.38 393.5 138.13M226.84 436.17Q255.26 256.14 418.15 182M210.63 435.6Q265.37 264.63 94.15 215.71M210.59 435.45Q282.7 263.95 203.62 96.03M210.73 435.11Q243.03 254.8 347.77 103.78M210.36 435.39Q264.76 283.76 299.65 441.62M211.62 432.56Q265.68 263.7 437.77 313.1M210.61 434.88Q291.4 272.01 313.81 94.97M210.72 434.69Q254.39 254.64 424.5 178.31M211.1 433.83Q256.47 255.4 432.72 197.34M210.65 435.17Q260.83 268.16 87.4 268.83M210.55 434.55Q254.42 254.64 421.78 180.24M212.5 429.99Q291.42 271.97 313.42 95.57M210.51 434.14Q265.34 264.65 92.56 215.09M211.71 431.94Q247.08 253.95 379.38 126.22M210.12 435.9Q263.52 260.57 442.87 278.53M194.06 426.84Q259 269 88.17 269.16M193.36 427.38Q265.76 263.7 427.44 329.75M194.1 426.56Q266.25 264.98 424.36 341.71M192.43 428.91Q244.94 252.26 369.55 118.85M192.63 428.82Q264.81 261.77 436.89 312.25M192.78 428.86Q259.98 256.13 443.75 243.23M193.47 427.51Q257.05 271.39 92.73 297.11M193.11 428.77Q260.03 256.19 440.23 244.1M193.25 427.12Q262.71 258.74 440.58 278.51M192.37 429.08Q286.66 268.94 269.81 85.23M193.52 427.32Q264.85 261.84 435.24 312.26M193.83 426.13Q255.65 253.55 429.61 198.72M193.98 426.01Q255.64 253.55 432.39 197.43M193.07 428.59Q260.61 256.66 444.95 250.74M196.09 421.04Q285.14 267.5 250.22 85.62M193.48 427.1Q263.93 281.97 298.8 439.16M193.5 427.09Q261.96 284.4 269.94 443.76M193.08 427.79Q258.96 269 90.33 268.95M194.51 424.9Q260 256.15 444.37 243.49M123.93 372.68Q280.13 273.88 314.18 92.09M123.88 372.92Q255.71 278.83 211.01 433.23M124.04 372.89Q259.4 276.37 251.35 442.3M124.3 372.33Q277.3 270.06 270.22 85.65M123.42 372.98Q247.6 272.52 90.7 297.86M124.56 372.79Q275.82 268.63 250.47 84.52M108.61 342.13Q264.59 248.84 438.89 313.43M106.51 342.87Q262.68 270.28 283.58 442.27M104.19 344.1Q267.84 265.03 203.95 96.71M104.7 343.95Q258.1 274.34 226.58 439.12M105.77 343.66Q279.02 282.55 394.36 137.48M108.9 341.67Q262.66 270.3 283.4 442.99M105.03 343.85Q258.09 274.35 226.49 439.38M104.2 344.24Q259.67 273.23 244.57 440.37M104.81 344.03Q278.07 276.5 346.33 106.21M106.61 342.93Q265.98 251.94 426.5 342.87M107.07 342.65Q256.59 275.19 212.39 430.05M107.99 342.48Q278.08 276.54 345.98 107.73M109.15 341.65Q264.59 248.82 437.31 312.89M104.38 344.04Q262.46 245.76 444.76 278.88M104.31 344.49Q260.28 243.62 445.76 249.97M105.39 344.01Q278.09 276.5 344.08 110.46M106.47 343.17Q264.58 248.83 435.36 312.24M105.68 343.27Q267.76 265 202.99 96.15M96 320.51Q264.69 266.52 298.27 436.88M96.67 320.58Q262.71 268.96 269.91 444.68M95.37 320.93Q269.72 266.74 250.32 85.86M96.17 321.13Q276.58 280.6 387.39 131.79M102.55 318.31Q271.21 268.14 269.65 86.27M96.7 320.31Q260.69 270.78 244.74 438.06M95.91 320.65Q255.72 273.59 193.28 426.9M95.66 320.61Q262.75 268.91 270.13 440.31M96.6 320.3Q271.24 268.18 270.01 88.93M96.22 320.71Q264.7 266.5 299.48 441.13M94.8 320.97Q271.26 268.2 270.35 84.04M91.2 297.7Q262.52 268.17 251.24 440.25M89.34 297.76Q272.84 287.6 432.79 196.94M93.28 297.19Q266.89 244.21 436.75 312.84M94.11 297.01Q273.58 285.59 424.56 178.42M90.36 297.55Q274.36 280.23 392.93 138.84M92.27 297.24Q251.33 261.38 115.14 165.28M90.36 297.84Q265.96 264.36 298.75 439.53M90.88 297.72Q257.01 271.42 194.54 424.35M89.32 297.91Q269.06 266.89 269.85 85.01M88.86 297.98Q264.95 265.71 283.2 442.59M94.02 296.92Q271.66 270.3 309.43 91.9M89.5 297.99Q266.86 244.17 436.62 312.22M90.96 297.78Q267.56 265.48 250.53 86.17M89.64 297.88Q245.86 263.44 95.7 216.44M92.35 297.52Q267.54 265.47 250.51 88.75M89.67 297.88Q271.68 270.33 309.7 91.65M92.37 297.39Q266.88 244.2 433.43 311.66M91.1 297.7Q245.89 263.43 95.17 216.05M89.39 297.89Q262.03 238.5 442.57 243.5M89.49 297.76Q245.9 263.4 95.75 215.9M89.48 297.88Q263.2 262.72 204.31 98.36M90.81 297.78Q258.84 270.61 210.54 434.45M93.65 297.21Q245.89 263.43 93.75 215.7M95.51 296.82Q257.02 271.41 192.96 428.18M91.97 297.47Q257.04 271.4 193.54 427.46M89.92 297.91Q245.88 263.43 96.51 216.52M89.1 298.04Q271.94 270.78 314.76 91.25M85.68 269.01Q262.36 267.3 226.61 439.67M88.71 269.22Q258.95 269.02 193.22 427.8M86.87 268.64Q267.93 261.91 298.94 440.56M88.13 269.29Q270.2 244.95 427.52 343.51M93.71 268.58Q267.81 290.06 444.28 243.62M85.66 269.04Q257.14 259.54 170.69 111.57M85.95 269.2Q265.95 264.36 270.08 441.43M89.07 268.77Q262.36 267.29 226.82 438.44M91.79 268.85Q262.33 267.31 226.33 439.43M86.4 269.15Q267.39 290.63 442.35 250.43M86.79 268.98Q271.96 278.34 392.7 139.68M86.04 269.12Q271.11 248.79 403.23 371.46M86.9 269.14Q265.13 263.52 250.38 87.13M89.61 268.73Q262.35 267.29 226.82 437.77M86.02 268.89Q266.65 264.95 270.05 85.78M90.05 268.78Q266.65 264.95 270.09 84.9M86.01 269.13Q266.67 264.97 269.98 88.03M85.73 269.13Q259.1 260.11 188.57 104.81M88.02 268.87Q271.96 278.31 392.27 139.67M86.04 268.97Q262.35 267.3 227.15 436.98M87.65 269.08Q265.93 264.38 269.79 442.13M86.97 269.04Q260.77 260.77 203.04 95.8M88.08 268.64Q267.81 290.04 442.23 243.7M87.89 269.03Q266.68 238.71 442.91 278.43M89.79 269.23Q271.9 276.38 378.86 127.38M87.94 269.08Q271.04 272.28 345.14 108.94M86.65 268.94Q262.35 267.3 226.68 438.91M86.41 269.08Q270.45 285.68 431.15 197.69M86.45 268.98Q263.93 266.18 244.69 441.13M86.73 269.07Q267.91 261.93 299.06 440.28M89.8 269.01Q271.05 272.31 347.42 105.15M89.13 268.86Q266.91 263.27 283.3 440.52M86.04 268.86Q266.71 238.71 442.13 278.51M89.38 268.71Q267.36 290.61 442.22 250.47M86.83 269.01Q269.52 268.83 314.29 92.89M87.45 269Q271.95 277.37 386.43 133.12M88.74 242.97Q258.93 258.72 203.73 96.29M87.39 242.94Q264.8 262.92 270.21 84.02M91.32 243.38Q252.9 257.09 153 125.44M86.94 242.72Q261.03 267.12 192.83 428.49M87.26 242.7Q273.18 246.87 406.86 373.98M88.78 242.91Q269.82 272.95 370.57 117.5M90.04 243.37Q258.92 258.73 203.79 97.19M87.53 243.52Q272.23 243.1 427.79 343.66M88.04 243Q264.4 265.43 227.3 436.03M87.61 242.9Q264.79 262.9 270.09 85.74M87.6 243.18Q264.37 265.45 226.71 438.23M88.5 242.9Q255.28 257.47 170.84 111.41M93.78 215.74Q269.02 262.2 251.17 444.16M92.63 215.37Q268.45 262.67 244.38 441.73M93.52 215.34Q258.64 290.33 439.54 313.22M95.28 215.73Q269.05 262.19 251.19 441.45M95.13 215.95Q265.97 264.24 314.23 91.46M93.17 215.21Q268.42 273.75 393.98 138.02M96.21 216.13Q261.59 258.97 250.52 86.44M93.01 215.47Q268.35 271.82 377.11 129.5M96.23 216.38Q266.91 263.76 227.09 438.31M93.92 215.7Q268.17 270.44 369.2 118.77M94.38 215.82Q257.23 256.22 204.57 100.14M95.07 216Q266.91 281.13 427.09 199.22M96.95 216.51Q245.88 263.42 91.73 297.43M96.36 216.26Q274.78 241.38 427.24 343.29M94.42 215.74Q269.02 262.21 251.35 439.63M94.86 215.98Q274.28 240.13 432.01 331.59M95.4 216.04Q267.64 279.1 421.48 180.07M94.58 215.72Q251.24 254.59 152.77 125.11M98.99 217.15Q263.53 265.46 194.49 425.44M94.49 215.53Q250.55 265.71 104.51 344.22M92.35 215.17Q268.42 272.81 387.92 131.3M94.99 215.85Q267.5 267.73 347.45 104.61M93.4 215.34Q245.89 263.4 90.74 297.48M93.11 215.23Q263.84 286.06 443.97 250.25M95.35 215.99Q263.52 265.46 193.2 427.69M93.58 215.29Q272.48 258.39 299.16 441.07M93.82 215.78Q266.87 263.78 226.68 438.55M95.1 215.8Q265.98 264.26 314.53 91.81M94.75 215.88Q267.49 267.71 346.43 106.15M93.26 215.31Q245.92 263.43 89.33 298.17M96.66 216.41Q266.9 281.15 432.25 197.39M96.68 216.14Q270.51 260.81 269.93 444.63M93.38 215.49Q265.97 264.25 313.14 95.84M116.68 166.16Q255.97 263.68 104.95 343.69M118.14 167.27Q253.46 250.08 189.26 107.52M115.85 165.66Q255.26 250.79 204.12 96.74M121.09 168.83Q259.55 253.49 250.36 85.78M118.85 167.59Q259.63 282.78 441.63 278.8M116.19 165.81Q259.64 282.77 444.06 278.91M119.04 167.7Q266.31 266.35 377.69 128.99M116.2 165.81Q253.46 286.28 426.92 343.03M118.53 167.65Q256.58 284.92 437.01 312.91M155.19 127.46Q259.35 276.9 444.77 278.96M153.35 125.88Q254.8 259.17 88.86 269.27M153.56 125.84Q261.98 274.2 443.76 243.49M154.38 126.75Q283.78 256.07 298.24 436.34M153.28 125.39Q265.83 259.1 369.68 117.92M154.97 127.82Q280.31 259.88 250.86 443.57M153.65 126.22Q283.75 256.07 298.13 435.99" fill="none" stroke="#FF6600" stroke-opacity="0.42" stroke-width="0.55"/>
<path d="M172.53 114.84Q264.04 250.63 314.01 93.47M171.44 113.19Q264.05 250.66 314.32 93.22M171.14 112.35Q286.1 256.48 298.88 440.87M171.47 113.29Q264.04 250.64 314.18 92.95M171.69 114.2Q282.07 260.71 244.38 442.37M171.85 114.49Q259.64 245.38 250.41 85.91M171.2 112.17Q286.13 256.46 299.1 440.94M171.36 112.95Q257.13 259.54 86.61 269.12M170.88 112.53Q261.18 246.79 270.04 85.07M170.66 112.28Q261.89 272.46 445.13 250.29M170.97 112.26Q280.5 261.85 226.54 437.55M170.65 111.75Q266.4 258.18 379.6 126.73M187.04 103Q287 258.34 283.03 437.98M187.49 103.4Q259.07 260.1 86.88 269.18M187.29 102.87Q269.69 265.17 123.49 373.14M188.69 105.23Q262.46 270.48 441.29 250.54M188.59 105.71Q259.02 260.06 86.88 268.68M187.92 104.86Q262.44 270.54 442.76 250.49M186.85 102.3Q262.91 269.96 442.44 243.72M187.79 104.13Q288.02 257.02 298.3 437.28M187.52 103.09Q282.49 262.38 226.95 438.07M187.34 103.22Q261.47 262.04 89.64 298.05M187.54 103.78Q288.01 257.01 299.05 441.19M188.04 104.88Q259.01 260.06 88.57 268.65M187.62 103.24Q261.74 244.82 269.91 88.51M187.56 103.01Q288.04 257.03 298.51 438.61M188.8 106.49Q287.01 258.33 283.53 441.74M188.33 104.17Q266.78 254.8 367.71 120.64M187.98 104.11Q261.51 262.06 91.03 298.06M205.91 102.39Q287.8 260.15 269.73 442.2M203.02 96.43Q260.75 260.76 87.66 269.02M203.94 97.04Q282.67 263.96 211.51 431.75M204.51 99.53Q257.23 256.21 94.71 215.68M203.57 96.07Q257.26 256.22 94.17 215.48M204.17 98.41Q266.19 263.86 430.72 198.19M203.99 98.09Q265.29 247 313.77 95.12M203.41 95.29Q258.95 258.74 89.13 243.19M204.12 97.92Q286.34 261.5 251.26 442.14M205.98 103.63Q284.2 263.05 227.37 436.98M203.52 96.2Q280.82 264.77 193.75 426.26M204.79 100.8Q260.95 270.97 445.3 279.11M204.59 98.4Q256.07 273.93 432.69 331.76M203.47 96.38Q263.15 268.77 443.62 250.28M203.36 95.48Q256.07 273.94 432.97 331.85M205.84 103.02Q280.82 264.75 193.1 428.3M250.28 87.84Q268.92 259.53 432.34 197.47M250.69 88.58Q266.35 263.87 443.62 243.6M250.66 87.51Q270.4 250.16 378.1 128.52M250.91 90.06Q261.6 258.98 93.19 215.3M250.49 84.84Q261.6 258.97 96.86 216.2M250.6 88.43Q288.53 265.82 226.47 439.59M250.57 86.99Q275.81 268.62 124.6 372.76M250.69 84.95Q260.69 268.68 435.68 312.41M249.97 88.2Q257.51 270.15 420.94 340.03M251.26 90.45Q261.62 258.99 94.07 215.45M250.8 88.02Q285.19 267.52 193.6 426.93M250.73 88.6Q288.55 265.82 227.58 434.91M250.53 86.61Q270.4 250.15 379.3 126.89M250.46 86.04Q240.52 267.79 298.77 439.21M250.4 86.1Q265.87 264.45 445.83 250.43M250.62 89.49Q270.47 252.17 394.61 137.91M250.36 85.01Q265.13 263.53 85.88 269.05M251 89.7Q290.16 264.71 244.83 440.9M250.52 86.85Q290.12 264.71 244.94 437.73M250.23 88.52Q290.08 264.68 244.43 441.78M250.46 85.21Q269.56 246.1 348.1 103.86M250.75 85.22Q290.14 264.74 244.83 438.36M250.5 85.61Q269.55 246.05 347.64 103.69M250.18 86.05Q267.52 265.45 90.96 297.57M250.58 86.05Q290.7 264.25 251.27 442.38M250.28 85.08Q263.71 266.6 444.12 278.94M250.13 87.39Q239.16 266.83 283.51 442.05M250.63 86.38Q266.39 263.82 442.32 243.35M270.1 85.45Q291.7 266.11 245.21 439.92M270.1 85.05Q292.23 265.67 251.55 441.08M269.81 86.32Q271.88 249.64 387.36 131.83M270.37 86.16Q242 266.24 298.72 438.2M270.18 85.33Q260.21 268.1 432.28 332.09M269.65 89.87Q292.17 265.67 250.9 443.44M270.38 86.7Q291.71 266.14 244.77 442.71M270.07 86Q286.7 268.95 194.64 424.53M270.33 85.7Q271.02 244.57 347.6 105.27M269.7 86.49Q291.62 266.12 244.38 441.87M270.05 87.16Q263.12 260.4 96.24 216.14M269.98 86.12Q263.13 260.42 96.53 216.43M269.84 87.47Q263.11 260.39 92.61 215.12M270.27 89.04Q242.02 266.26 298.81 437.37M270.07 89.5Q267.34 262.88 442.81 250.32M270.11 85.3Q269.06 266.89 91.17 297.37M270.16 86.9Q269.09 266.92 90.78 297.77M269.96 85.38Q291.68 266.1 244.78 443.34M269.89 89.19Q266.67 264.97 88.43 269.15M270.11 85.8Q271.23 268.17 95.77 320.4M269.75 84.95Q241.93 266.28 299.15 441.45M269.79 86.37Q263.12 260.41 92.94 215.51M270.16 88.61Q265.17 265.05 444.86 278.98M270.17 84.17Q260.25 268.08 432.41 331.69M270.09 88.1Q266.66 264.96 87.5 268.84M269.98 86.38Q265.16 265.06 444.14 278.81M269.86 87.43Q260.25 268.09 431.09 330.95M269.91 84.51Q264.8 262.92 94.9 244.09M270.13 85.12Q261.74 244.86 187.03 102.69M269.49 89.38Q292.16 265.66 251.17 440.62M270.03 83.85Q270.97 244.54 347.15 104.89M269.96 85.34Q271.89 249.61 385.94 133.11M270.18 85.29Q267.8 262.32 442.85 243.63M309.58 90.17Q265.52 264.58 439.61 313.1M309.37 90.55Q241.54 260.26 251.15 443.95M310.2 89.36Q265.04 246.51 203.87 96.81M309.89 89.44Q274.51 253.35 423.47 179.21M308.45 94.01Q245.33 263.69 298.39 437.08M309.56 91.18Q265.71 263.79 92.62 214.98M309.77 89.79Q275.29 247.02 386.53 132.54M309.53 90.28Q275.21 246.04 378.27 128M309.3 92.52Q242.93 261.68 269.67 438.52M309.76 90.51Q258.52 266.87 406.73 374.17M309.88 90.12Q275.31 247 386.65 132.25M309.79 91.47Q265.5 264.59 436.84 313.05M309.05 93.09Q245.35 263.66 299.03 441.05M309.61 91.69Q291.14 271.55 210.92 433.97M307.38 98.23Q267.37 266.28 89.47 243.27M309.82 89.55Q273.76 255.41 433.35 197.22M309.15 93.8Q244.03 262.64 283.43 443.53M309.71 90.79Q271.65 270.3 89.08 297.75M308.5 94.82Q245.34 263.67 299.07 441.19M309.39 91.94Q270.73 260.31 442.07 250.55M314.87 91.62Q241.59 259.39 244.71 439.63M314.17 92.65Q269 262.21 444.8 279.03M314.2 91.96Q271.16 260.06 440.44 250.69M313.84 95.03Q265.3 246.99 205.5 101.7M313.24 95.37Q271.64 259.47 444.2 243.23M314.7 92.12Q269.52 268.84 87.16 268.87M314.28 90.49Q244.43 262.43 283.41 441.91M314.9 90.62Q262.84 265.71 422.15 340.82M314.18 93.32Q264.06 250.6 171.14 111.79M314.71 91.61Q275.79 247.73 393.73 138.36M313.95 94.52Q271.97 270.8 90.69 298.03M314.23 92.69Q269.5 268.81 88.31 268.8M313.24 97.06Q258.99 266.59 406.9 374.32M347.28 104.63Q269.52 246.09 250.13 86.04M347.54 103.74Q262.37 265.11 407.08 374.8M347.1 105.39Q245.48 258.45 251.17 442.22M347.82 103.9Q243.91 256.32 227.11 437.13M348.03 104.21Q272.51 260.68 442.93 278.87M346.77 105.57Q266.1 252.14 188.65 105.68M346.47 106.07Q274.61 258.55 444.64 250.49M346.09 107.06Q278.07 276.52 104.62 344.08M346.29 106.95Q271.01 272.26 89.98 268.61M346.65 105.76Q243.03 254.82 211.25 433.95M347.94 104.08Q243.06 254.78 211 433.85M346.7 105.23Q242.17 252.95 193.95 425.88M346.73 105.57Q265.55 254.08 171.65 113.52M345.38 107.94Q267.49 263.74 433.14 332.3M347.62 105.02Q271 244.58 270.15 84.76M347.43 104.4Q278.07 276.51 104.82 343.97M347.78 103.55Q272.44 260.71 443.56 279.04M346.81 106.28Q243.07 254.8 210.66 435.59M347.48 104.01Q269.4 262.81 437.7 312.94M346.34 106.64Q243.01 254.76 210.26 435.09M347.45 104.67Q266.83 250.38 204.02 96.21M346.87 105.75Q242.21 252.94 195.14 423.17M346.25 106.23Q269.14 270.18 87.22 242.78M347.41 104.53Q269.54 246.08 250.4 86.93M346.64 106.92Q266.13 252.16 187.2 102.03M347.23 105.18Q266.12 252.15 187.12 102.22M345.52 107.3Q272.42 260.71 436.72 278.32M348.09 103.71Q265.48 262.35 116.24 166.56M347.52 103.59Q275.08 257.97 439.26 243.92M346.58 106.83Q271.03 272.29 86.01 268.83M346.93 104.87Q271.03 272.26 87.2 269.13M347.28 105.12Q274.66 258.51 441.92 250.36M346.56 105.62Q269.53 246.06 250.59 89.09M345.4 108.05Q262.41 265.1 403.62 371.73M346.29 106.27Q270.98 244.52 270.12 84.97M346.15 107.37Q272.49 260.68 443.99 278.83M345.14 109.04Q277.7 253.58 433.18 196.89M347.53 104.16Q267.49 267.72 94.19 215.68M346.58 105.87Q266.1 252.14 188.66 105.77M367.24 121.77Q277.33 257.89 443.75 250.72M370.28 117.86Q271.65 247.29 269.96 86.25M370.51 117.16Q244.92 252.26 192.47 428.78M369.68 118.75Q252.02 261.22 299.18 441.23M366.57 122.58Q271.65 247.25 270.09 86.66M369.99 117.49Q266.12 264.96 119.2 167.82M370.39 117.15Q270.19 248.8 250.06 84.65M368.62 119.89Q250.66 260.22 283.18 439.05M370.22 118.27Q245.78 254.09 210.14 435.63M368.8 119.38Q245.73 254.11 210.73 434.13M379.03 127.46Q279.22 257.1 442.29 243.47M379.08 127.02Q273.47 261.97 438.43 313.38M380.63 125.11Q247.97 255.47 226.78 437.86M379.5 126.66Q270.37 263.36 426.83 343.09M377.15 129.3Q279.18 257.11 441.9 243.63M380.17 125.81Q250.91 259.05 269.66 443.26M377.29 129.5Q279.2 257.11 435.95 244.39M380.72 125.37Q278.9 280.61 106.84 342.75M378.69 128.07Q270.01 274.33 86.88 242.91M380.54 125.98Q270.01 274.33 89.14 243.07M379.83 126.27Q276.45 279.57 103.08 318.15M377.67 128.52Q247.96 255.48 226.97 437.49M378.38 127.76Q271.83 248.6 270.08 87.05M379.81 126.35Q253.36 261.04 299 440.68M380.65 125.24Q274.27 278.28 91.02 297.33M379.3 126.9Q273.51 261.96 433.5 311.72M377.53 129.43Q246.33 252.13 193.1 428.61M380.3 126.08Q252.06 260.05 283.69 442.2M380.29 125.9Q281.79 252.76 433.48 197.1M379.22 126.38Q270.38 250.13 250.49 88.47M385.58 133.86Q271.38 263.28 426.16 342.61M387.89 131.23Q277.52 259.8 445.51 279.37M386.13 133.53Q272.65 262.8 432.42 331.78M387.01 132.03Q254.34 260.97 299.11 440.95M386.95 131.96Q270.44 251.16 250.02 85.82M386.4 132.75Q267.02 257.23 187.74 104.09M387.4 131.85Q250.55 257.53 251.21 440.79M386.98 132.06Q248.09 253.86 211.96 430.43M385.62 133.41Q267.73 255.44 204.24 97.29M386.32 132.78Q247.29 252.06 193.33 428.25M385.92 133.44Q277.55 259.78 443.43 278.92M385.15 134.15Q250.55 257.55 251.11 444.01M385.48 133.58Q274.37 279.28 89.54 298.06M386.62 133.25Q254.42 260.99 298.72 437.34M383.71 136Q272.63 262.81 432.55 331.9M392.27 140.15Q249.99 255.41 227.57 435.98M393.49 138.97Q274.4 280.31 88.93 298.23M393.57 138.55Q249.96 255.39 226.52 439.62M391.74 140.17Q274.39 280.26 91.94 297.57M391.28 140.04Q251.01 256.97 244.54 441.38M390.12 141.48Q249.02 253.81 211.81 429.8M392.62 139.58Q251.51 257.5 250.98 441.07M388.73 143.1Q281.13 257.04 442.15 243.87M393.69 138.37Q266.49 260.12 170.49 111.35M392.43 139.49Q275.46 261.87 437.88 312.94M393.06 139.24Q275.78 247.76 314.79 90.76M392.6 139.52Q266.5 260.11 172.16 113.72M392.92 138.74Q278.51 259.74 445.24 278.76M393.62 138.13Q266.1 262.46 152.62 125.11M393.75 138.28Q266.4 268.31 116.45 166.08M392.41 140.18Q268.44 273.84 93.18 215.65M393.28 138.9Q252.9 258.98 269.77 440.89M393.09 139.2Q278.54 259.75 445.63 279.03M391.16 140.73Q248.24 251.99 193.38 426.69M420.48 180.67Q265.6 273.65 116.59 166.25M424.23 178.58Q269.65 257.49 250.18 88.71M423.45 179.21Q278.42 251.57 347.68 103.76M424.3 178.71Q277.68 264.06 426.98 343.11M422.48 179.46Q280.79 262.66 439.46 313.41M421.55 180.25Q278.45 251.56 347.38 105.03M423.19 179.61Q267.63 279.14 92.84 215.33M424.5 178.1Q274.98 253.03 313.77 93.95M422.81 179.19Q252.46 243.41 124.93 372.17M424.24 178.35Q280.79 262.64 438.79 312.97M422.8 179.28Q278.46 251.53 347.9 104.07M423.88 179.19Q281.15 250.92 370.52 117.23M419.99 180.86Q273.61 285.6 90.48 298.01M421.58 180.02Q278.43 251.55 347.16 104.99M423.26 179.21Q266.94 261.8 204.32 98.5M423.95 178.77Q278.91 263.59 430.81 331.22M424.75 178.6Q269.66 257.5 250.1 85.35M422.97 179.33Q255.27 256.17 226.23 440.13M431.08 197.84Q277.7 253.59 347.31 104.74M427.56 199.44Q277.69 253.61 346.93 105.54M430.74 198.32Q272.84 287.67 92.96 297.33M431.42 197.9Q264.95 267.53 171.74 113.81M430.35 197.91Q264.97 267.46 171.11 112.13M431.79 197.77Q258.89 259.04 251.23 438.14M431.2 197.75Q261.34 261.48 283.58 443.81M432.45 197.5Q268.93 259.53 250.72 91.6M432.84 197.25Q255.64 253.56 193.16 428.05M432.58 197.11Q260.24 260.5 269.72 443.88M428.36 198.61Q274.23 255.09 313.07 95.7M431 197.97Q282.83 263.42 438.06 313.25M432.76 197.68Q258.47 258.5 244.43 440.73M432.76 197.1Q270.39 257.95 270.02 88.96M431.79 197.65Q258.46 258.52 244.73 441.57M430.42 198.19Q285.88 261.3 445 279.14M443.66 243.85Q267.78 262.35 270.24 84.87M442.87 243.58Q263.61 268.2 203.5 96.23M441.43 244.06Q275.05 258 346.84 104.93M442.05 243.71Q267.79 262.33 270.03 86.09M440.34 244Q262.81 261.1 244.32 443.16M444.49 243.14Q285.3 266.9 432.68 332.02M444.5 243.23Q267.86 290.05 87.27 269.05M442.31 243.64Q267.01 265.05 298.54 440.73M443.07 243.68Q262.36 271.86 171.99 113.55M442.47 243.81Q259.75 243.15 105.93 343.36M441.51 243.33Q271.68 259.44 314.67 91.16M439.42 243.8Q265.99 287.99 89.72 243.28M440.45 244.01Q260.78 240.68 96.41 320.28M442.35 243.26Q261.65 259.48 226.35 440.11M443.37 243.14Q265.67 264.04 283.45 443.82M443.91 243.44Q260.8 257.94 210.75 433.32M443.14 243.46Q263.63 268.17 205.23 100.22M444.1 243.43Q266.36 263.86 250.48 85.74M442.74 243.76Q264.3 285.53 92.85 215.38M442.45 243.79Q264.64 263.11 269.85 444.55M445.13 243.14Q266.37 263.84 250.51 85.93M444.53 243.12Q267.82 262.3 270.16 85.09M443.24 243.56Q284.09 267.39 423.55 341.26M440.94 243.7Q267.79 262.33 269.88 84.72M439.78 244.13Q265.96 288.02 88.64 243.1M441.14 250.59Q266.3 264.55 283.37 439.58M444.45 250.3Q263.15 268.76 203.76 96.76M443.31 250.4Q263.35 261.53 244.24 441.48M442.22 250.31Q261.37 258.44 210.77 434.68M438.86 250.67Q263.36 261.55 244.59 440.42M439.5 250.58Q261.38 258.45 211.12 433.83M445.91 250.33Q263.15 268.76 204.05 97.01M443.95 250.04Q262.57 238.97 89.46 298.05M444.98 250.27Q267.61 265.53 298.68 439.76M444.33 250.59Q267.37 290.66 87.82 269.11M439.02 250.73Q260.56 256.6 193.33 427.35M443.69 250.26Q263.83 262.13 251.33 443.74M444.28 250.55Q261.34 241.18 99.56 319.59M444.06 250.37Q261.38 258.44 210.56 434.86M442.72 250.2Q267.43 290.64 87.88 269.47M442.93 250.13Q266.28 264.54 283.31 438.17M445.49 250Q262.24 259.97 226.6 439.59M442.85 250.32Q265.19 263.57 269.87 438.71M444.53 249.99Q261.36 258.43 210.75 434.97M442.98 250.35Q263.15 268.76 203.17 95.39M442.3 250.14Q263.19 268.7 204.32 97.4M443.22 250.25Q262.58 238.99 88.73 298.3M444.02 250.32Q277.36 257.86 369.31 118.92M443.14 250.11Q274.68 258.5 346.48 106.81M443.92 250.43Q274.65 258.53 347.44 104.75M444.71 250.12Q267.39 290.61 87.29 269.02M444.39 250.32Q267.64 265.56 299.21 440.4M443.93 250.06Q266.26 264.52 283.31 441.22M443.71 278.77Q282.92 270.91 403.66 371.94M444.18 279.33Q272.45 260.72 346.79 106.03M445.34 279.13Q265.13 265.08 269.83 85.96M444 278.83Q276.55 259.84 378.99 127.13M443.58 279.03Q261.65 288.23 95.74 215.9M443.2 279Q262.48 245.78 106.23 343.19M440.06 278.53Q265.17 265.05 270.17 86.33M443.13 279.1Q261.65 288.25 93.5 215.43M441.84 278.67Q268.47 266.73 283.76 442.21M444.83 278.86Q262.72 258.77 194.33 425.24M445.41 278.97Q266.71 238.73 86.85 268.94M444.53 279.44Q283.8 260.58 424.01 178.69M445.51 279.09Q275.16 260.03 368.63 119.52M444.72 278.93Q272.46 260.69 347.59 103.91M442.19 278.79Q268.53 262.48 309.74 89.39M443.42 278.77Q285.9 261.28 431.05 197.91M443.35 278.98Q263.5 243.32 100.91 318.91M443.74 278.82Q264.39 262.11 226.15 439.62M445.09 278.94Q261.69 288.25 94.99 216.08M442.91 278.89Q259.72 274.63 171.11 113.07M444.52 278.92Q263.49 243.31 97.18 320.14M442.67 278.84Q269.78 267.71 299.09 441.56M444.45 278.86Q278.52 259.75 391.87 140.1M442.78 278.85Q263.5 243.31 99.37 319.37M444.76 279.2Q262.48 245.79 104.82 343.95M445.36 278.96Q264.76 241.16 90.37 297.91M442.46 278.85Q283.87 260.56 422.35 180.03M441.12 278.51Q260.3 272.66 187.09 102.56M444.61 278.94Q260.96 270.97 203.07 96.36M437.83 312.67Q270.87 239.88 87.5 242.85M432.3 311.18Q267.63 266.75 244.31 442.6M439.06 312.69Q282.94 263.39 433.52 197.42M437.94 312.87Q282.85 263.39 426.15 199.84M437.23 313.06Q267.66 266.79 244.39 442.21M438.28 313.11Q271.91 270.77 298.85 439.3M438.65 313.1Q273.5 261.95 377.14 129.37M439.02 312.81Q258.67 290.33 92.34 215.14M437.06 312.88Q264.59 248.84 104.45 344.18M439.34 313.47Q260.65 268.72 250.47 88.16M437.45 313.15Q271.92 270.79 299.03 440.35M438.6 313.12Q257.92 273.07 203.26 96.45M438.15 313.14Q267.67 266.81 244.73 442.24M437.37 313Q268.13 267.37 251.3 444.01M439.25 313.34Q270.88 239.91 88.94 243.12M437.58 312.79Q258.63 290.34 98.21 216.75M437.43 312.36Q269.5 262.77 347.95 104.32M436.37 312.62Q268.09 267.32 251.17 439.55M439.26 313.46Q269.46 268.78 269.56 440.58M439.72 313.18Q267.63 266.75 244.52 442.05M438.87 313.21Q270.57 269.76 283.46 441.45M438.8 313.01Q265.59 246.36 94.75 321.17M434.73 312.2Q262.1 267.18 270.02 85.17M436.55 312.47Q266.5 265.14 226.12 439.34M437.63 313.2Q282.8 263.41 430.64 197.87M437.24 312.29Q260.72 268.68 250.48 86.69M437.27 312.44Q265.53 264.57 309.33 91.4M437.85 312.83Q271.88 270.74 298.84 440.38M436.08 312.16Q280.84 262.65 423.71 179.08M435.97 312.58Q266.88 244.23 91.46 297.71M437.2 312.68Q264.58 248.8 105.28 343.57M432.28 310.91Q257.96 273.05 203.21 96.25M438.36 312.98Q266.86 244.2 90.06 298M435.23 312.04Q271.88 270.74 298.94 441.01M429.57 330.66Q258.77 269.65 250.11 85.75M430.56 330.77Q256.06 273.98 203.55 97.14M432.21 331.72Q267.79 246.09 89.92 297.96M433.01 332.14Q260.21 268.11 269.88 84.49M431.45 331.67Q254.68 285.81 116.3 165.79M429.99 331.13Q263.6 265.51 309.52 91.41M430.53 331.13Q263.59 265.52 308.87 92.5M432.66 331.94Q264.04 265.26 314.17 91.14M430.21 330.58Q267.59 263.71 347.4 105.02M430.82 331.36Q280.93 264.32 430.36 198.05M430.76 331.22Q267.53 263.73 345.47 108.3M425.93 329.06Q258.8 269.62 250.3 84.84M429.1 330.79Q285.29 266.92 440.67 243.75M430.79 331.22Q271.63 262.88 380.31 125.86M432.37 332.05Q273.55 262.8 393.06 138.84M432.03 331.89Q274.31 240.15 96.23 216.19M432.4 331.92Q267.44 267.06 226.41 438.82M431.78 331.84Q258.77 269.63 250.68 87.59M432.19 331.37Q255.38 275.69 188.28 105.04M427.34 343.09Q270.22 244.9 85.79 269.04M427.96 343.72Q269.03 269.9 244.57 439.57M427.71 343.38Q267 249.5 97.43 320.23M425.19 342.03Q267.02 249.44 95.73 320.26M426.31 342.8Q267.01 249.49 97.1 320.13M427.75 343.24Q259.01 268.55 270.23 84.73M426.99 343.05Q267.04 266.76 210.73 433.78M423.53 341.66Q269.52 270.51 251.56 440.84M421.97 340.75Q258.97 268.57 270 89.36M427.74 343.5Q274.78 241.38 100.7 217.42M428.16 343.51Q270.2 244.92 88.38 269.16M425.54 341.99Q259 268.57 269.74 91.63M427.31 343.46Q272.33 263.27 393.8 138.37M427.96 343.59Q262.85 265.71 314.1 93.86M426.29 343.25Q254.76 274.45 205.52 101.47M426.31 342.44Q265.97 251.92 104.19 344.18M425.31 342.52Q266.29 264.2 347.06 105.6M423.98 341.78Q284.62 267.85 444.6 250.21M427.23 343.64Q272.29 263.28 391.43 140.39M401.86 370.71Q267.96 270.7 210.99 434.33M403.68 372.56Q273.74 264.96 421.33 180.23M406.36 373.97Q267.94 270.66 210.96 433.56M408.06 375.09Q282.92 270.88 445.01 278.54M406.99 374.36Q268.82 272.19 226.88 438.07M406.87 374.55Q274.18 277.77 298.72 439.59M407.1 374.48Q267.89 253.37 96.72 320.37M407.23 375.11Q269.95 273.83 244.66 441.43M406.75 374.34Q272.85 276.77 283.35 441.3M406.2 374.07Q249.66 278.98 171 111.92M405.87 373.61Q273.19 246.9 87.71 242.72M401.53 370.22Q255.1 269.47 269.94 88.35M406.06 373.79Q267.13 268.83 192.78 428.7M406.47 373.73Q268.51 264.15 393.92 138.34M298.9 440.22Q269.78 267.71 444.39 278.94M299.13 440.61Q240.52 267.81 250.43 87.96M298.73 439.22Q265.97 264.35 92.51 297.34M298.67 438.66Q249.23 261.9 347.58 103.4M298.7 438.85Q272.83 272.66 433.14 332.34M298.58 440.08Q263.9 282 193.59 426.92M299.2 441.32Q260.67 261.76 423.89 179.01M298.87 440.12Q263.67 268.95 104.49 343.81M298.57 438.93Q267.02 265.05 439.38 243.73M298.25 437.31Q269.76 267.69 445.63 278.9M298.67 439.79Q245.34 263.66 309.75 90.27M298.77 438.78Q255.32 260.96 391.98 139.96M298.26 436.69Q263.93 281.99 193.65 427.1M298.37 438.59Q289.77 257.74 203.9 96.83M298.68 438.04Q263.68 268.95 109.37 341.53M298.57 438.94Q269.79 267.72 444.27 279.12M298.82 438.68Q251.98 261.24 368.16 120.04M298.61 437.54Q260.67 261.76 420.18 180.89M298.33 435.98Q255.32 260.96 394.38 137.46M299.05 440.4Q272.82 272.65 429.97 330.81M299.31 441.57Q265.95 264.38 92.56 297.75M298.53 437.7Q272.5 258.38 97.93 216.34M299.18 440.41Q269.96 260.06 90.69 243.55M298.76 439.94Q267.59 265.52 445.45 250M298.82 440.44Q263.91 281.97 193.05 427.77M282.98 440.27Q282.72 257.43 152.88 125.5M283.81 442.96Q271.44 259.73 95.21 216.32M283.06 440.81Q252 260.02 378.75 127.6M283.13 439.73Q270.53 269.71 438.7 312.75M283.02 441.37Q271.42 259.78 97.78 216.83M283.18 440.16Q266.9 263.28 87.76 269.04M283.88 443.89Q247.96 260.9 347 105.55M283.58 442.95Q268.95 261.41 88.8 243.33M283.21 442.13Q270.54 269.73 439.31 313.29M283.95 443.26Q266.92 263.26 87.24 269.19M283.65 442.88Q288.77 259.03 203.72 96.91M283.66 442.61Q271.5 271.66 429.61 330.75M282.92 437.03Q244.03 262.66 309.4 92M283.31 442.44Q239.15 266.8 250.67 91.76M269.91 442.38Q268 262.48 87.54 242.89M269.61 443.93Q239.53 264.24 270.39 84.78M269.6 444.53Q267.96 262.53 87.31 243.12M269.81 442.86Q267.36 265.75 440.37 278.77M269.84 444.69Q250.92 259.07 377.47 129.03M269.74 443.74Q267.99 262.5 90.9 243.29M269.88 443.87Q292.12 262.87 250.43 87.85M269.5 441.62Q265.17 263.55 443.03 250.46M269.88 441.03Q267.36 265.75 441.66 278.71M269.82 443.68Q249.53 259.25 368.33 119.87M269.92 440.77Q263.99 266.78 89.68 298.04M269.62 443.56Q270.48 260.84 95.04 215.77M269.88 443.43Q242.92 261.71 308.93 92.88M251.35 440.05Q242.01 259.97 314.13 93.01M251.2 441.05Q264.48 265.73 87.5 268.82M251.39 442.77Q268.11 267.34 436.37 312.42M251.24 442.82Q266.56 263.84 90.63 243.07M250.8 442.51Q249.49 257.58 377.22 128.92M250.86 439.86Q262.49 268.2 92.31 297.5M251.44 440.62Q266.54 263.86 88.45 243.11M250.86 439.79Q270.35 274.28 407.88 375.03M251.14 444.01Q245.47 258.47 347.71 103.84M251.25 441.19Q261.24 270.35 97.6 320.42M250.92 443.59Q274.47 260.18 121.26 169.3M251.71 436.35Q249.55 257.61 378.95 127.28M251.2 438.91Q269.04 262.2 92.59 214.89M251.1 443.02Q269.04 262.2 93.54 215.36M251.18 442.09Q263.79 262.09 441.35 250.22M251.59 437.29Q262.51 268.19 90.4 298.2M251.16 439.66Q270.37 274.3 406.71 374.11M250.89 443.63Q263.81 262.1 440.4 250.57M251.27 443.09Q262.54 268.14 89.48 297.99M251.23 440.33Q266.5 263.89 87.5 243.24M251.01 440.69Q282.64 260.28 170.95 112.38M250.98 443.87Q245.46 258.45 346.2 106.88M250.65 443.13Q261.23 270.33 96.92 320.1M251.43 441.45Q256.87 258.34 422.48 179.71M250.85 442.39Q248.16 257.77 369.32 118.8M250.9 442.29Q264.45 265.77 87.76 269.12M250.99 441.51Q290.64 264.26 250.4 87.14M250.93 443.7Q245.41 258.47 347.42 103.33M250.76 442.59Q261.23 270.35 94.99 320.93M251.31 437.67Q292.2 265.72 270.22 87.45M251.15 441.29Q249.55 257.6 380.66 125.32M251.04 442.99Q256.85 258.31 419.58 181.24M244.86 440.36Q285.8 261.95 203.61 96.51M244.51 441.71Q265.55 263.75 442.22 278.99M244.43 443.23Q245.04 257.91 347.94 103.83M245.17 437.96Q291.67 266.12 269.97 88.04M244.7 441.75Q282.15 260.7 173.28 115.71M244.86 442.74Q259.72 273.19 104.89 343.84M244.65 439.44Q291.63 266.14 270.01 84.12M244.32 442.88Q263.94 266.17 86.48 268.74M244.43 442.6Q267.65 266.77 434.19 311.9M244.44 442.55Q250.07 256.99 385.83 133.07M244.75 441.18Q282.1 260.69 171.19 113.19M244.58 441.46Q263.91 266.2 85.69 269.19M244.56 442.37Q282.11 260.7 170.77 112.29M244.26 442.21Q285.76 261.97 203.9 97.49M244.05 443.12Q285.77 261.98 203.82 96.78M244.5 442.9Q265.54 263.74 445.59 279.06M244.76 441.64Q247.76 257.25 368.28 120.47M245.01 438.46Q241.1 259.7 309.8 89.71M244.29 442.66Q245 257.9 345.39 108.28M227.36 436.47Q257.32 256.93 430.03 198.2M226.46 439.52Q257.33 256.92 433.02 197.21M226.52 438.22Q261.68 259.49 443.05 243.68M226.45 439.58Q261.69 259.51 440.06 244M226.5 439.81Q266.89 263.77 93.37 215.53M227.15 436.91Q261.67 259.5 441.9 243.44M226.47 438.37Q280.51 261.85 171.63 113.29M226.11 440.09Q262.31 267.33 87.78 269.07M226.75 439.02Q266.91 263.76 94.91 215.76M226.26 439.74Q264.42 262.15 442.86 279.03M226.73 437.84Q266.87 263.79 95.33 216.12M226.6 439.37Q260.42 269.69 89.19 297.75M226.19 440.12Q280.54 261.84 170.65 111.36M226.52 439.71Q288.55 265.82 250.54 86.51M227.61 433.94Q284.2 263.09 203.61 96.16M226.48 439.33Q261.66 259.48 443.3 243.19M227.84 435.34Q257.34 256.95 429.74 198.4M227.51 435.14Q261.67 259.5 444.51 243.19M227.66 435.66Q290.08 267.22 269.77 86.79M226.94 437.73Q246.61 255.66 370.27 117.24M226.81 438.44Q266.54 265.21 438.33 313.24M227 438.19Q258.11 274.34 108.05 342.43M226.45 440.33Q267.46 267.1 431.89 331.78M226.83 437.29Q259.11 271.89 100.13 319.19M211.67 431.85Q260.82 268.17 90.9 268.79M210.13 434.62Q254.36 254.59 423.05 179.13M210.89 433.82Q255.71 278.81 123.17 373.31M211.57 432.4Q255.73 278.83 124.19 372.84M211.02 433.84Q288.54 268.13 270.08 84.74M210.42 435.64Q264.75 283.81 298.27 436.17M211.67 431.34Q288.51 268.11 269.77 84.93M210.95 433.26Q291.37 271.99 314.29 92.36M210.16 435.46Q265.31 264.67 96.81 216.63M212.21 430.52Q278.99 262.69 170.46 111.94M210.6 435.07Q288.54 268.12 269.95 88.51M210.77 434.23Q261.41 258.46 444.19 250.74M210.62 434.45Q264.74 283.8 299.17 441.44M193.84 426.51Q247.31 252.04 385.49 134.12M192.8 428.47Q247.31 252.02 388.07 131.46M192.59 428.43Q279.06 264.08 187.7 103.74M193.22 428.11Q285.17 267.5 250.37 86.45M193.94 425.95Q254.72 276.02 104.71 343.85M193.55 426.39Q255.73 273.58 98.25 319.77M195.24 423.53Q263.54 265.45 92.99 215.31M193.94 426.2Q259.99 256.13 444.71 243.21M192.58 428.48Q244.94 252.25 369.23 119.32M192.46 427.91Q289.48 272.8 313.41 94.52M192.94 427.96Q279.06 264.07 187.35 103.43M192.45 428.74Q289.54 272.83 314.43 92.61M192.91 429.21Q264.87 261.89 436.72 313.05M194.46 425.53Q280.85 264.76 203.74 96.86M192.91 428.42Q277.15 263.52 170.92 112.49M194.61 424.87Q247.3 252.04 387.95 131.25M192.64 428.37Q244.93 252.26 369.47 118.74M194.63 424.71Q246.29 252.11 378.94 127.26M194.46 425.12Q268.95 263.43 116.63 166.58M124.81 372.05Q282.58 282.45 386.16 133.28M123.8 373.09Q259.6 264.53 118.65 167.47M123.07 373.37Q266.03 259.44 406.56 374.36M126.03 371.34Q259.44 247.2 442.04 250.3M123.4 373.29Q258.83 276.83 244.31 443.01M123.61 373.01Q254.53 244.14 430.96 197.95M109 341.84Q263.64 269 298.18 438.04M104.36 344.36Q250.55 265.72 95.99 216.09M106.49 343.28Q259.64 273.27 244.26 440.72M108.88 341.88Q278.73 279.23 370.31 117.43M106.27 343.37Q267.85 265.03 205.34 101.12M106.68 343.51Q259.65 273.28 244.53 440.23M107.59 342.5Q261.67 271.42 269.53 440.56M105.81 343.57Q273.7 269.19 269.86 84.83M107.37 342.6Q258.09 274.34 226.39 439.73M104.45 344.02Q265.51 250.71 432.92 332.21M95 321.49Q275.81 286.89 420.67 180.52M96.26 320.54Q261.29 241.12 445.17 249.75M97.28 320.09Q265.62 246.37 439.43 313.54M96.09 320.61Q265.37 264 205.14 100.99M96.89 320.02Q264.7 266.49 299.04 440.75M97.83 319.8Q269.72 266.75 250.94 89.06M98.64 319.8Q255.74 273.59 194.85 423.84M98.91 319.03Q266.57 248.23 430.5 331.41M95.63 320.58Q264.69 266.52 298.91 440.91M96.73 320.25Q275.61 275.49 347.64 104.25M97.12 320.48Q259.11 271.91 228.95 428.51M94.7 320.84Q261.33 241.12 443.38 250.23M99.72 319.21Q262.74 268.92 269.84 437.13M94.28 297.15Q267.55 265.47 250.53 87.56M92.11 297.41Q262.03 238.5 443.91 243.32M91.3 297.88Q267.58 265.49 250.88 90.24M89.25 298.27Q274.39 279.31 387.12 132.11M88.8 298.02Q265.97 264.35 299.08 441.11M90.13 297.72Q257.04 271.4 193.73 426.75M89.71 297.88Q272.85 287.64 426.28 199.83M89.55 298.02Q251.34 261.39 116.84 166.54M89.01 297.72Q247.65 272.49 122.79 373.79M90.09 298.37Q262.49 268.21 250.97 442.22M92.81 297.64Q263.99 266.79 270.11 442.27M91.9 297.38Q264 266.77 269.71 436.78M91.32 297.65Q259.52 261.48 170.65 112.14M93.28 297.36Q262.52 268.17 251.03 443.27M88.78 298.1Q261.97 268.61 244.73 439.45M88.85 297.89Q262.54 268.14 251.3 439.91M94.08 296.78Q266.89 244.16 438.81 313.08M89.05 297.81Q262.03 238.48 444.55 243.12M90.69 297.8Q265.97 264.35 298.43 436.64M90.15 297.73Q262.01 268.58 245.04 439.75M89.81 297.74Q262.53 268.15 251.02 441.98M89.85 297.65Q261.44 262.01 187.8 104.22M92.17 297.11Q274.34 279.28 385.83 133.52M90.38 297.86Q262.59 238.98 444.71 250.17M95.43 296.83Q267.57 265.49 250.62 85.44M92.58 297.28Q263.99 266.78 269.77 442.25M93.48 297.25Q260.41 269.71 226.78 439.3M89.36 298.04Q271.65 270.27 308.64 92.88M88.82 297.99Q257.05 271.4 194.1 426.14M90.93 297.71Q264.76 241.15 445.83 279M90.53 297.81Q267.56 265.48 250.42 84.81M91.14 297.82Q262.56 238.97 444.27 249.87M92.45 297.32Q257.04 271.4 193.45 427.54M88.93 297.72Q262.06 238.49 443.21 243.54M90.23 297.71Q274.37 280.25 393.45 138.41M90.1 297.99Q267.81 246.13 433.01 332.49M89.24 297.99Q267.55 265.47 250.42 85.71M96.82 296.69Q267.79 246.1 427.35 329.82M88.17 269.05Q260.81 268.18 211.14 433.66M86.01 269.33Q265.16 263.55 250.79 89.21M91.2 268.66Q262.35 267.29 226.64 438.63M86.93 268.94Q271.94 277.36 386.11 133.41M85.97 269Q266.92 263.26 283.39 440.37M90.06 268.85Q264.5 265.72 251.42 442.06M88.11 268.98Q258.97 269 192.59 429.16M87.99 268.9Q267.92 261.93 298.42 437.39M90.86 269Q265.15 263.54 250.55 85.57M92.32 268.89Q262.31 267.32 226.15 439.81M86.47 269.08Q265.93 264.37 269.88 444.35M86.73 268.94Q267.9 261.96 298.92 441.6M86.91 269.04Q271.17 283.65 420.35 180.78M86.18 269.18Q264.48 265.74 251.24 443.82M86.59 269.3Q270.21 244.96 427.71 343.76M87.57 268.89Q271.94 277.33 387.57 131.36M86.2 269.14Q266.67 264.97 270.02 86.5M88.95 268.97Q269.53 268.83 314.44 92.39M90.07 268.81Q271.02 272.25 347.46 104.08M89.13 268.89Q266.66 264.96 270.09 86.2M89.97 268.79Q266.72 238.72 444.5 278.9M90.48 269.12Q271.19 283.65 423.26 179.01M87.01 269.19Q270.22 244.95 426.47 343.1M89.51 268.71Q264.47 265.74 251.06 439.67M86.38 269.18Q270.2 244.91 424.13 341.49M85.83 269.05Q262.31 267.33 227.36 434.26M88.95 269.15Q267.91 261.93 299.2 440.14M87.64 269.33Q270.2 244.95 427.72 343.57M87.29 269.2Q270.47 285.67 427.95 198.73M86.28 268.96Q265.12 263.52 250.47 86.74M89.42 269.38Q268.78 241.8 436.78 312.44M89.28 243.16Q255.25 257.48 172.48 114.74M88.13 242.97Q269.15 270.19 344.63 109.61M87.51 242.81Q247.05 257.38 115.42 165.55M89.03 243.48Q266 288.02 444.42 243.26M88.01 243.16Q261.03 267.13 193.08 428.47M92.3 243.41Q268.57 283.59 430.99 197.53M87.82 243.03Q267.64 266.74 314.44 90.98M87.74 242.76Q261.02 267.12 192.49 428.75M94.09 243.48Q245.58 266.34 98.74 319.59M93.81 243.5Q269.14 270.17 346.49 105.73M90.36 243.53Q273.15 246.97 403.62 372.24M87.97 243.02Q272.28 243.06 427.41 343.44M88.71 243.24Q263.34 290.75 444.32 279M88.79 242.82Q264.43 265.41 226.91 438.02M88.45 242.96Q267.38 266.31 309.47 92.07M87.32 242.95Q267.99 262.49 269.92 443.66M90.02 243.37Q247.07 257.4 116.01 165.82M98.37 216.73Q274.79 241.39 425.2 342.36M94.83 216.05Q263.55 265.45 195.21 424.38M95.4 216.41Q268.43 262.68 244.4 442.39M92.4 215.55Q265.72 263.82 308.8 92.98M93.53 215.26Q258.62 290.33 437.16 312.71M92.89 215.13Q263.82 286.07 445.04 250.43M96.72 216.56Q261.67 288.26 445.72 279.2M95.07 215.95Q268.43 273.75 393.36 138.41M95.44 215.88Q257.24 256.21 203.47 96.4M94.67 215.74Q257.26 256.23 203.99 97.29M93.26 215.56Q261.68 288.25 440.54 278.64M96.96 216.5Q268.42 272.82 387.15 132.2M94.19 215.67Q250.55 265.73 105.26 344.02M93.01 215.45Q265.74 263.84 310.06 90.04M96.42 216.37Q265.34 264.65 210.98 433.28M92.68 215.31Q272.46 258.39 299.25 441M94.44 214.94Q268.39 273.72 392.94 139.44M92.73 215.41Q263.85 286.09 445.5 250.26M92.48 215.24Q269 262.22 251.02 440.67M92.92 215.17Q258.64 290.33 439.25 313.14M96.07 216.19Q263.85 286.07 445.18 250.16M98.16 216.89Q268.44 273.8 393.9 138.38M96.41 216.7Q263.48 265.48 192.95 428.12M96.29 216.49Q265.72 263.82 309.18 92.13M94.39 215.72Q261.57 258.95 250.19 87.29M96.3 216.28Q261.68 288.24 442.45 278.73M92.99 215.31Q272.47 258.38 297.83 433.15M92.55 215.34Q261.69 288.24 445.57 278.91M94.89 215.64Q248.07 264.67 99.07 319.39M93.03 215.57Q266.91 281.17 432.92 197.24M94.87 215.82Q245.9 263.41 88.7 298.03M94.07 215.88Q267.66 279.1 424.18 178.44M93.69 215.74Q267.51 267.76 347.97 103.72M117.85 166.98Q266.38 267.38 386.55 133.15M117.27 166.53Q253.49 250.08 189.28 106.86M117.99 167.28Q268.93 263.44 193.17 427.22M117.93 166.85Q248.93 259.41 87.32 268.59M116.46 165.76Q251.38 261.38 89.2 298M115.29 165.32Q261.1 254.96 270.16 84.9M116.69 166.41Q266.31 266.33 379.27 126.45M153.21 125.21Q259.27 247.65 250.7 88.75M152.36 124.6Q251.25 254.6 94.65 215.85M153.76 126.6Q278.16 261.44 226.51 439.18M153.55 125.76Q249.29 281.32 404.99 372.94" fill="none" stroke="#FF6600" stroke-opacity="0.42" stroke-width="0.55"/>
<path d="M172.32 114.47Q265.55 254.07 347.48 104.04M173.49 116.01Q282.14 260.71 244.72 440.41M172.75 115.23Q257.12 259.53 88.28 268.98M172.03 113.85Q261.19 246.76 270 87.58M170.82 111.58Q282.72 260.25 251.41 442.78M171.5 113.89Q266.46 259.22 384.6 135.01M170.35 111.8Q253.53 278.14 421.71 340.72M172.38 114.96Q254.8 277.65 432.36 331.76M173.09 115.6Q259.67 245.34 250.56 85.69M170.64 112.02Q259.49 261.45 88.65 297.75M170.59 111.52Q282.11 260.72 244.46 441.28M187.54 103.58Q254.11 276.18 426.03 342.54M187.04 102Q262.44 270.5 445 250.48M187.44 103.58Q266.11 252.18 348.06 103.59M187.23 103.12Q260.29 272.67 445.32 278.84M186.77 102.32Q284.03 261.25 244.44 443.14M187.47 103.41Q261.73 244.83 269.9 86.07M187.93 103.83Q269.73 265.18 123.11 373.68M188.31 105.17Q264.31 248.23 309.57 90.06M187.13 102.16Q267.03 257.22 387.78 131.49M187.7 103.71Q279.1 264.07 192.81 428.81M188.03 104.34Q257.2 274.8 439.13 313.77M187.36 102.91Q267.05 258.16 393.27 138.39M187.29 102.99Q264.59 248.69 313.8 94.01M188.63 105.36Q282.48 262.38 226.91 437.78M187.88 103.96Q266.77 254.84 367.4 121.18M187.78 103.22Q250.27 277.04 406.46 373.75M187.71 103.49Q265.51 265.57 428.91 198.91M187.03 102.4Q284.06 261.25 244.92 439.6M204.19 97.66Q260.8 260.78 86.33 268.93M203.22 95.85Q267.73 256.46 389.44 142.36M203.21 95.45Q257.26 256.24 95.09 216.07M204.12 98.19Q267.84 265.03 107.35 342.85M203.46 95.96Q285.79 261.96 244.63 441.52M203.25 95.72Q284.17 263.09 226.08 440.25M203.89 96.6Q267.47 253.07 368.7 119.06M204.06 97.23Q260.81 260.79 90.09 268.94M204.18 98.02Q263.6 268.22 445.07 243.61M204.83 99.32Q265.39 264.01 95.34 320.84M204.53 98.39Q280.87 264.77 194.84 424.58M203.23 95.31Q287.79 260.15 269.63 442.86M203.79 96.85Q289.78 257.71 299.17 441.19M204.51 99.24Q265.03 246.54 309.73 91.59M203.78 96.67Q289.78 257.71 298.99 440.03M203.67 96.61Q263.6 268.21 444.67 243.53M203.92 96.9Q280.84 264.78 194.53 424.65M204.29 98.42Q266.94 261.8 423.82 178.92M203.69 96.42Q266.8 250.4 347.04 105.12M203.68 96.82Q263.15 268.76 443.25 250.32M203.12 95.34Q257.9 273.06 438.37 313.39M204.37 97.59Q284.22 263.1 226.24 440.05M203.13 95.37Q257.24 256.21 92.77 215.07M204.77 98.88Q280.87 264.78 195.41 423.02M204.65 99.17Q267.66 254.52 380.04 126.46M203.62 96.72Q266.8 250.43 345.95 107.71M203.7 95.76Q256.09 273.92 427.32 329.49M204.56 98.21Q265.31 246.95 314.73 91.8M203.59 96.88Q266.8 250.45 347.04 105.8M204.65 98.19Q280.86 264.79 193.82 426.12M250.58 86.41Q270.4 250.16 376.53 130.46M250.35 86.66Q263.72 266.6 442.85 278.72M250.29 85.26Q263.25 261.47 86.86 242.87M250.69 86.05Q265.14 263.53 86.2 268.89M250.42 86.28Q285.15 267.52 194.08 425.32M249.87 85.58Q266.31 263.92 444.81 243.59M250.71 88.25Q269.56 246.09 345.47 108.73M250.23 84.77Q261.58 258.96 96.35 216.2M250.2 85.33Q292.1 262.89 269.59 443.32M250.92 90.62Q260.71 268.68 438.87 312.89M250.14 84.97Q263.26 261.48 87.62 243.26M250.93 89.48Q240.53 267.77 298.94 440.54M250.59 86.45Q267.55 265.47 88.76 298.01M250.47 87.23Q292.1 262.9 269.43 438.25M250.57 85.44Q290.11 264.74 244.11 442.33M250.28 86.04Q267.53 265.45 91.88 297.42M250.42 84.63Q259.66 245.34 170.63 111.64M250.31 88.25Q240.52 267.83 298.85 438.43M250.18 86.56Q292.09 262.88 269.54 438.4M250.04 85.89Q259.53 253.48 117.95 166.91M250.46 86.61Q259.65 245.33 171.74 113.45M250.17 85.75Q290.1 264.69 244.6 440.76M250.53 87.83Q290.13 264.69 244.56 442.86M250.33 85.46Q270.46 251.14 384.19 135M250.7 86.51Q260.71 268.68 438.46 312.92M270.01 88.08Q292.19 265.7 251.18 439.54M270.18 86.61Q288.52 268.16 211.63 430.77M269.98 84.67Q271.64 247.25 369.57 118.16M269.77 86.66Q271.24 268.17 97.46 320.25M270.19 86.9Q270.99 244.53 347.37 104.49M269.94 86.63Q265.13 265.08 445.39 279.26M270 90.69Q271.92 250.58 393.22 138.8M270.09 84.9Q271.92 250.59 392.47 139.52M270.26 85.55Q292.2 265.72 251.19 438.86M269.85 84.62Q265.16 265.06 441.11 278.44M270.16 87.06Q265.18 265.04 444.52 278.82M269.79 91.95Q291.67 266.11 244.94 440.39M269.96 86.88Q270.97 244.54 347.42 104.22M270.07 89.97Q271.91 249.61 386.13 133.07M270.2 83.97Q261.74 244.87 189.29 107.46M270 84.09Q266.66 264.96 86.8 269.05M270.25 85.29Q277.32 270.06 123.02 373.53M270.12 85.65Q265.15 265.06 445.62 279.17M270.37 88.18Q241.99 266.23 299.12 441.21M269.94 88.59Q265.12 265.09 442.89 279.18M270.1 84.42Q260.25 268.08 432.94 331.84M270.28 86.74Q265.18 265.04 444.56 278.9M269.93 84.13Q271.64 247.26 370.34 117.26M269.9 85.84Q260.79 249.08 152.55 124.44M270.06 85.14Q258.99 268.57 426.52 342.78M309.83 89.45Q268.57 262.45 441.76 278.38M308.95 91.42Q241.07 259.72 244.52 442.86M309.15 92.88Q289.33 272.34 194.25 426.38M309.5 90.52Q265 246.51 203.81 97.67M309.16 92.44Q242.94 261.71 270.01 444.01M309.27 92.08Q263.68 258.35 115.24 165.26M309.44 90Q275.28 248.04 392.18 140.07M309.59 91.53Q271.19 259.75 442.59 243.8M308.6 94.18Q245.34 263.68 298.48 437.68M309.87 89.65Q244.02 262.67 283.51 441.9M309.53 91.12Q240 258.12 227.61 435.4M314.33 92.97Q269.03 262.2 443.19 278.86M314.81 90.68Q274.24 255.11 433.11 197.1M314.74 91.15Q274.25 255.1 428.58 198.85M314.55 92.3Q262.87 265.7 427.72 343.29M313.14 96.35Q268.99 262.22 445.67 279.23M314.24 92.26Q265.99 264.27 95.49 216.2M313.95 93.54Q269.52 268.82 90.73 268.96M314.46 91.56Q243.37 261.43 269.75 441.01M313.63 94.81Q262.84 265.72 426.6 342.93M314.38 92.33Q262.84 265.71 426.75 342.95M314.21 92.93Q241.57 259.42 244.7 440.64M314.18 94Q266 264.3 94.82 215.82M314.56 92.27Q266 264.3 439.34 313.2M312.94 97.37Q271.67 259.46 442.31 243.46M314.69 91.57Q271.21 260.01 444.16 250.07M314.54 90.94Q265.96 264.23 93.83 215.37M313.95 93.18Q275.74 246.79 382.62 137.18M347.39 104.99Q275.14 257.93 444.31 243.15M347.87 103.72Q275.6 275.49 99.43 319.34M347.48 104.19Q242.19 252.93 194.96 423.34M346.68 105.97Q243.9 256.32 226.58 439.29M347.56 104.49Q249.31 261.9 298.76 437.6M346.77 105.4Q265.55 254.07 172.64 115.04M347.48 103.72Q243.87 256.33 227.08 436.92M347.64 103.95Q245.01 257.91 244.34 443.45M347.99 104.02Q243.07 254.8 210.65 435.55M346.71 105.81Q271.03 272.27 88.97 269.01M347.78 104.6Q245.05 257.88 244.79 438.43M346.3 106.5Q266.28 264.21 423.9 341.65M346.03 107.69Q272.46 260.71 442.12 279.07M347.35 105.14Q242.22 252.92 193.53 426.46M347.61 104.07Q271.01 272.25 87.8 268.78M347.07 105.23Q273.45 274.22 92.04 297.51M345.25 108.25Q266.79 250.38 203.77 96.81M346.25 107.02Q243.91 256.32 227.18 436.74M347.43 104.32Q269.42 262.81 439.63 313.43M347.9 103.49Q273.44 274.21 89.82 297.8M346.69 105.55Q266.79 250.42 203.32 96.32M346.2 106.98Q271.03 272.27 88.65 268.89M347.27 105.5Q275.6 275.51 98.71 319.48M346.89 105.1Q267.5 267.72 96.9 216.62M347.4 104.73Q275.13 257.94 442.37 243.43M346.54 105.91Q278.41 251.57 423.41 179.26M346.9 105.88Q265.55 254.12 170.34 111.73M347.82 104.49Q243.94 256.32 227.08 437.25M346.67 106.48Q273.44 274.23 88.82 297.9M347.93 103.52Q270.98 244.54 270.1 85.06M347.48 105.05Q271 244.57 270.16 84.83M346.75 106.74Q269.47 262.79 439.4 313.34M347.02 105.55Q269.4 262.82 436.52 312.97M347.4 103.69Q277.66 253.61 432.71 197.19M347.77 105.23Q269.48 262.79 437.77 313.03M369.16 119.19Q275.19 260.03 444.44 279.02M369.26 119.09Q270.25 263.06 429.36 330.76M370.11 118.12Q266.78 254.9 187.31 103.04M369.74 118.89Q266.22 256.89 171.27 113.62M369.14 119.05Q271.69 274.98 88.79 268.89M368.19 120.13Q265.12 264.43 407.13 374.47M368.94 118.6Q251.95 261.24 298.28 436.1M370.1 117.96Q275.19 260.03 442.72 278.94M368.91 119.5Q276.31 278.23 97.74 320.31M370.12 118.11Q246.66 255.68 227.27 437.56M369.4 118.89Q266.13 265 117.92 167.14M369.36 118.21Q274.09 276.89 90.26 297.58M379.07 127.4Q268.34 271.82 96.09 216.17M377.59 128.92Q266.51 264.24 407.25 374.55M381.07 125.43Q271.91 276.43 88.65 269.29M377.69 128.47Q270.35 263.36 423.94 341.59M378.58 128.07Q250.91 259.04 269.43 442.47M378.84 127.07Q271.82 248.61 269.89 89.48M377.56 128.95Q273.49 261.96 436.88 312.83M380.2 125.59Q271.89 276.36 90.85 269.08M380.54 125.21Q268.34 271.79 96.46 216.23M378.7 127.56Q271.87 276.35 90.07 268.86M379.97 126.17Q252.01 260.03 283.39 442.65M379.77 126.65Q276.57 259.85 439.93 278.67M377.77 128.74Q271.83 248.62 270.11 83.92M379.98 126.6Q253.39 261.04 299.15 441.47M379.79 126.45Q249.11 257.05 244.83 438.74M378.63 127.22Q251.95 260.01 282.84 440.29M377.37 129.37Q275.22 246.05 309.82 89.42M378.86 128.06Q279.24 257.1 441.68 243.58M387.32 131.29Q266.38 267.31 117.76 166.95M385.66 133.87Q254.37 260.98 299 439.94M387.61 131.19Q271.33 263.29 427.16 343.3M386.85 132.18Q266.47 259.16 170.76 112.18M385.05 134.17Q272.62 262.8 433.08 331.95M387.02 132.05Q277.53 259.78 443.69 278.99M386.98 131.96Q277.53 259.78 444.54 278.98M388.11 131.44Q253.03 259.95 283.33 442.8M387.11 132.29Q277.56 259.77 444.29 278.92M386.69 132.2Q267.46 264.18 404.19 372.41M385.73 133.61Q271.91 249.61 270.19 84.95M386.6 132.87Q254.34 260.95 298.31 438.51M386.03 133.6Q267.53 264.17 404.48 372.35M391.77 140.4Q274.39 280.28 88.89 298.19M393.58 138.58Q275.48 261.87 438.73 313.18M390.52 141.85Q255.34 260.95 298.28 437.05M394.22 137.37Q249.05 253.87 212.41 429.89M392.74 139.34Q251.5 257.49 250.87 441.58M393.37 138.67Q255.31 260.95 298.7 439.34M393.76 138.26Q281.17 257 444.76 243.05M392.5 139.34Q280.68 257.58 443.97 250.22M393.85 138.85Q281.2 257.03 442.66 243.65M393.87 138.35Q274.39 280.28 96.75 296.63M392.74 139.34Q267.73 256.48 203.05 95.42M391.49 139.76Q276.53 281.47 94.61 320.89M393.86 138.42Q251.11 257 244.81 442.88M390.63 141.41Q268.42 273.75 94.9 215.64M423.85 179.03Q269.67 257.48 250.66 89.91M422.7 179.49Q269.69 257.45 250.49 86.25M424.02 178.99Q278.46 251.56 346.98 106.09M423.89 178.74Q255.28 256.19 226.74 439.02M423.49 178.89Q271.18 283.64 86.26 269.08M424.61 178.5Q278.93 263.58 432.11 331.57M424.42 178.9Q278.94 263.6 432.45 331.96M423.52 179.04Q274.52 253.33 309.95 89.52M423.45 179.35Q260.66 261.75 298.97 441.21M422.84 179.56Q271.13 255.92 270.25 84.42M423.21 179.28Q260.66 261.75 299.18 441.1M424.21 178.79Q278.43 251.56 346.68 105.97M422.67 179.39Q283.85 260.53 444.87 278.78M415.8 183.32Q269.31 281.62 88.09 243.25M423.51 179.31Q271.11 255.95 269.97 85.02M420.93 180.8Q271.16 283.68 88.12 268.9M431.53 197.7Q258.89 259.06 251.53 438.12M432.78 197.19Q270.43 285.69 88.56 268.92M432.95 197.08Q270.38 257.97 269.88 86.39M427.89 199.45Q285.91 261.3 438.44 278.52M428.89 198.97Q257.34 256.92 226.32 439.9M431.06 197.86Q280.45 252.92 370.18 118.17M432.9 197.3Q258.47 258.53 244.86 441.25M429.83 198.19Q272.87 287.63 90.65 297.89M431.29 198.05Q285.91 261.3 443.12 278.91M432.65 197.34Q258.43 258.49 244.12 443.33M431 198.11Q257.36 256.95 227.21 437.87M428.96 199.04Q281.73 252.78 379.26 126.44M432.02 197.86Q272.83 287.67 90.03 297.83M433.07 197.02Q282.78 252.67 386.6 132.77M430.92 198.1Q280.43 252.94 370.04 118.13M431.58 198.13Q262.7 262.48 298.75 441.14M427.69 199.21Q266.91 281.16 93.01 215.53M433.15 197.21Q266.2 263.86 205.31 101.29M432.85 196.87Q281.8 252.72 380.89 125.16M432.45 197.61Q268.94 259.52 250.41 85.37M432.6 197.28Q282.85 263.4 436.29 312.5M429.64 198.83Q268.94 259.52 250.73 88.05M442.24 243.78Q264.29 285.5 95.11 215.71M442.32 243.55Q264.3 285.48 102.77 217.84M443.62 243.68Q271.2 259.74 309.85 90.89M442.08 243.62Q280.18 268.28 407 374.68M442.74 243.33Q265.98 287.98 89.83 243.16M444.05 243.4Q267.83 290.04 86.03 268.86M445.13 243.37Q264.31 285.53 92.8 215.46M443.92 243.37Q262.01 238.54 92.58 297.66M444.97 243.37Q267.78 262.35 269.89 84.78M440.32 243.83Q262.92 269.95 187.44 103.66M443.16 243.4Q271.67 259.46 314.85 90.77M441.32 243.62Q261.69 259.53 227.23 437.72M443.59 243.56Q285.3 266.93 432.9 332.38M443.63 243.46Q267.02 265.06 298.5 439.61M445.1 243.29Q263.63 268.17 203.78 96.23M445.28 243.49Q267.81 262.32 270.39 84.48M444.21 243.05Q267.82 262.3 270.07 84.81M442.91 243.26Q261.67 259.5 226.93 438.3M443.37 243.35Q267.03 265.06 298.8 439.96M443.27 243.12Q263.64 268.18 203.6 96.83M443.76 243.21Q260.8 257.97 211.5 432.47M445.07 243.45Q267.05 265.07 298.64 439.82M441.66 244.09Q267.77 262.36 270.03 86.93M440.32 244.27Q261.72 259.54 227.48 435.26M441.18 243.92Q281.13 257.04 394.15 137.69M444.69 243.64Q261.69 259.5 226.54 437.96M444.58 243.32Q279.18 257.11 378.48 127.78M442.16 243.43Q279.22 257.09 378.21 128.45M445.92 250.33Q261.89 272.43 171.19 112.44M441.82 250.82Q261.41 258.47 210.35 435.98M444.54 249.99Q263.18 268.73 203.41 95.5M439.06 250.41Q262.56 238.98 92.56 297.61M445.46 250.16Q260.3 243.61 104.62 344.11M444.12 250.25Q278.72 257.67 379.05 127.05M440.77 250.59Q267.62 265.54 298.89 440.29M445.7 250.1Q265.5 288.54 89.26 242.91M442.21 250.63Q274.61 258.55 345.9 107.14M441.31 250.35Q263.15 268.78 203.5 97.08M444.09 250.3Q271.22 260.02 314.89 91.7M445.72 250.31Q274.61 258.55 345.56 107.6M443.35 250.29Q260.57 256.62 194.02 426.59M445.6 249.83Q277.39 257.83 369.01 119.4M445.56 250Q261.36 258.42 212.19 430M445.41 250.16Q261.32 241.16 96.78 320.45M443.29 250.09Q270.74 260.29 309.15 92.16M444.57 250.48Q263.83 262.11 250.99 442.48M443.46 250.29Q274.65 258.52 347.67 104.11M442.14 251.08Q267.31 290.65 87.12 268.7M442.86 250.4Q284.64 267.85 427.44 343.3M444.34 250.17Q267.64 265.55 298.16 434.58M441.02 250.68Q265.19 263.57 269.67 443.3M441.82 250.64Q274.66 258.53 347.79 104.48M445.55 249.79Q270.75 260.28 309.52 91.03M445.15 249.92Q263.16 268.75 203.15 95.69M437.72 250.81Q280.78 268.75 406.19 373.73M443.99 249.88Q274.7 258.48 347.87 104.2M444.39 250.61Q263.84 286.14 95.89 216.6M442.54 250.29Q274.67 258.51 345.24 109.21M444.62 279.16Q264.41 262.13 226.53 437.8M445.64 279.27Q265.16 265.06 270.23 88.38M439.92 278.47Q269.79 267.71 299.03 440.22M437.14 278.08Q263.52 260.57 211.38 432.07M441.04 279.08Q269.84 267.76 298.59 436.92M445 278.92Q263.53 260.59 211.91 430.31M437.64 278.69Q262.5 245.77 104.82 343.65M444.64 278.68Q275.2 260.01 369.96 117.84M445.05 279.06Q267.36 265.74 269.81 441.99M443.46 278.81Q262.72 258.77 193.82 426.26M445.03 279.35Q266 264.3 250.96 443.68M440.33 278.55Q263.52 260.57 210.47 434.24M445.28 278.86Q282.93 270.9 408.17 375.34M444.63 278.61Q275.27 259.99 370.75 117.69M444.39 279.1Q263.72 266.59 250.86 89.69M445.44 278.93Q263.72 266.59 250.61 88.81M443.79 279.18Q264.44 262.18 227.59 435.34M445.68 279.07Q261 270.89 205.25 99.65M441.23 278.62Q264.41 262.14 227.05 437.06M442.27 278.76Q259.34 276.93 153.61 126.01M443.27 278.92Q278.53 259.76 394.44 137.91M442.85 278.81Q262.73 258.78 193.7 426.68M444.27 278.81Q261.68 288.23 93.06 215.3M445.51 279.03Q283.88 260.56 424.61 178.79M442.69 278.98Q259.71 274.63 170.81 112.44M443.89 278.73Q275.21 260.01 369.63 118.57M430.32 310.81Q256.59 284.89 118.93 167.62M436.68 312.45Q268.1 267.32 251.61 438.64M439.58 313.41Q268.83 241.77 88.63 268.84M436.81 312.52Q264.83 261.8 193.51 426.75M433.75 311.72Q282.84 263.4 431.57 197.63M437.39 312.69Q265.97 264.32 314.44 91.59M436.29 312.76Q273.38 238.28 94.76 215.93M436.69 312.8Q274.51 261.89 387.74 131.71M433.29 311.29Q268.08 267.29 251.3 440.39M432.98 311.5Q266.88 244.18 93.45 297.07M436.74 312.68Q280.83 262.68 421.78 180.35M437.3 312.91Q265.67 263.68 210.87 434.68M438.57 313.18Q268.82 241.79 89.34 268.99M436.16 312.72Q257.92 273.03 204.36 97.74M436.41 312.43Q271.89 270.74 298.86 440.21M437.91 313.11Q275.44 261.88 394.29 137.58M437.71 312.61Q265.98 264.31 314.15 92.51M436.02 312.67Q256.57 284.92 116.72 166.41M434.86 312.18Q267.65 266.78 244.73 439.67M437.2 312.79Q260.65 268.73 250.54 90.51M439.68 312.97Q271.87 270.71 298.54 438.5M433.82 312.17Q267.67 266.82 244.57 442.27M437.71 312.93Q268.1 267.33 251.37 439.97M429.48 330.93Q255.32 275.72 187.55 103.73M431.93 331.72Q265.51 250.7 109.05 341.73M433.08 331.99Q273.55 262.79 393.04 138.45M432.93 331.8Q263.64 265.5 308.83 93.41M426.82 329.48Q267.81 246.06 94.14 296.87M430.37 330.95Q265.76 263.71 193.48 427.38M430.38 330.99Q267.79 246.1 89.58 298.11M431.17 331.19Q258.81 269.61 250.6 85.95M428.32 330.18Q270.39 270.67 269.85 443.68M430.59 331.47Q269.03 269.25 251.2 441.49M428.14 330.34Q258.78 269.62 250.59 86.24M430.17 330.94Q285.88 267.37 444.76 250.18M433.22 331.75Q267.57 263.71 346.95 105.33M431.19 331.17Q265.49 250.71 104.63 344.25M428.08 330.07Q268.55 268.64 244.36 441M431.98 331.99Q285.29 266.92 443.27 243.49M426.68 329.78Q269.77 243.68 89.73 268.73M432.08 331.57Q285.33 266.9 444.96 243.25M430.37 331.31Q285.3 266.93 443.9 243.56M427.25 343.34Q253.54 278.13 171.42 113.34M423.15 341.41Q284.64 267.87 445.3 250.42M426.92 343.02Q272.26 243.05 91.52 243.65M428.05 343.69Q272.29 243.04 94.14 243.59M425.04 342.3Q273.32 273.91 298.38 436.32M426.15 343.09Q262.79 265.73 314.65 90.85M427.37 343.33Q269.04 269.91 244.3 443.13M427.35 343.25Q266.25 264.97 194.07 426.39M427 343.22Q269.03 269.9 244.48 440.13M426.06 342.77Q257.51 270.13 250.69 92.47M428.17 343.23Q259.02 268.56 269.98 88.99M426.36 342.82Q284.08 267.39 439.22 244.05M427 343Q253.47 286.29 116.41 166.07M425.44 342.47Q258.96 268.58 269.95 87.38M404.59 372.46Q259 266.59 315.11 90.76M406.46 374.14Q249.28 281.35 153.72 126.35M407.94 375.63Q270.37 274.35 251.07 440.51M408.09 375.6Q280.73 268.74 442.44 250.3M405.66 373.9Q280.18 268.3 440.77 243.98M403.73 372Q266.49 264.25 380.72 125.11M406.35 373.94Q275.7 245.23 95.66 215.68M407.33 374.93Q270.36 274.32 250.71 443.09M407.74 374.91Q255.11 269.46 270.04 84.52M406.23 373.72Q273.84 264.96 423.32 179.53M404.45 372.39Q265.16 264.42 368.38 120.49M407.72 375.07Q262.42 265.09 346.6 106.29M407.01 374.46Q274.17 277.75 298.96 441.45M406.71 374.64Q270.38 274.36 251.07 441.99M406 373.63Q280.2 268.27 443.09 243.43M407.56 375.02Q250.22 277.08 187.1 102.72M407.16 374.4Q249.69 279.02 172.35 114.84M407.4 374.38Q255.15 269.45 270.24 84.03M407.78 375.1Q269.92 273.76 244.35 440.84M298.62 437.48Q240.54 267.8 250.3 84.84M298.86 440.48Q269.94 260.09 88.81 243.26M298.51 437.4Q263.93 281.97 193.54 427.04M299.16 441.25Q264.69 266.52 99.15 319.55M299 440.61Q269.96 260.07 87.86 242.97M299.2 441.21Q254.34 260.98 385.98 133.13M298.69 437.57Q289.75 257.67 203.32 96.64M299.06 441.69Q274.17 277.73 407.32 374.43M299.16 440.68Q264.71 266.49 96.47 320.19M298.67 439.2Q260.67 261.75 424.42 178.86M298.92 440.88Q263.92 282 193.27 428.05M298.2 437.86Q289.79 257.75 204.67 98.23M298.61 438.48Q265.95 264.37 94.97 297.08M299.41 441.28Q253.35 261.06 380.59 124.96M299.22 441.24Q260.67 261.76 420.04 181.11M299.04 440.13Q253.37 261.05 379.84 126.35M298.52 436.82Q245.84 263.41 314.69 91.38M299.33 441.46Q264.76 283.82 210.94 434.51M298.42 438.21Q272.8 272.61 431.69 331.24M299.17 439.34Q252.04 261.24 370.56 117.34M299.07 439.32Q252 261.24 368.82 119.38M298.84 440.34Q271.87 270.72 437.9 312.65M298.63 437.03Q269.81 267.73 444.47 278.96M299.04 441.7Q264.68 266.53 95.38 320.72M297.87 436.76Q249.24 261.86 346.65 106.29M298.89 440.25Q267.63 265.55 443.77 250.54M299.18 441.44Q245.82 263.4 314.78 90.85M298.71 439.36Q260.64 261.74 420.88 180.48M298.76 441.1Q251.92 261.21 370.1 117.15M298.32 436.98Q245.34 263.68 309.06 92.37M283.7 443.73Q261.38 261.5 432.66 197.42M282.58 437.09Q244.44 262.38 314.41 91.83M283.3 438.31Q253.96 259.97 393.84 137.71M283.75 443.17Q264.95 265.7 89.03 298.38M283.24 441.94Q240.6 265.25 269.9 89.53M283.29 441.07Q271.48 271.64 432.3 331.81M283.48 441.28Q264.96 265.69 89.02 298.13M283.27 438.03Q240.64 265.27 270.09 84.68M283.32 440.28Q266.28 264.54 438.36 250.68M283.41 442.78Q253 259.96 387.13 131.99M283.31 442.8Q272.84 276.77 404.94 373.08M282.69 436.29Q270.55 269.76 437.54 313M270.03 442.51Q261.71 271.38 108.61 341.94M269.64 442.92Q264.59 263.08 442.39 243.42M269.29 439.42Q265.17 263.54 444.23 250.46M269.81 442.44Q292.13 262.88 250.74 90.56M269.77 443.35Q261.67 271.44 104.77 344.34M269.71 440.79Q284.13 258.9 171.43 112.9M269.69 442.37Q292.12 262.89 250.31 85.16M269.57 441.16Q264 266.76 88.64 297.62M269.96 442.25Q249.58 259.26 369.97 118.04M269.67 440.69Q239.5 264.3 269.72 87.29M250.8 441.22Q290.63 264.28 250.75 90.17M251.13 444.13Q269.02 262.2 96.55 216.52M250.99 441.45Q268.06 267.27 436.13 312.1M250.54 443.5Q261.2 270.39 96.33 320.89M251.35 437.92Q290.66 264.26 250.52 86.95M251.06 443.73Q261.26 270.32 97.22 320.21M251.55 436.3Q290.65 264.24 250.3 87.07M251.07 442.18Q261.26 270.31 98.04 319.7M250.9 441.62Q290.65 264.27 250.76 89.87M251.22 438.7Q292.17 265.69 269.78 86.15M250.89 443.56Q249.58 257.59 379.28 127.41M250.84 441.36Q258.87 259.03 433.07 197.2M250.63 443.37Q262.52 268.14 92.43 296.95M250.79 441.88Q284.58 260.85 188.56 105.14M251.07 440.8Q286.33 261.53 203.47 95.89M250.94 441.75Q256.83 258.3 419.72 181.11M251.11 444.1Q264.49 265.73 87.26 268.96M251.32 442.52Q250.58 257.55 386.96 132.52M250.85 443.94Q270.37 274.29 405.96 373.26M251.11 443.45Q269.03 262.2 98.06 216.83M251.2 440.89Q269.03 262.2 92.95 215.22M251.45 440.81Q290.68 264.24 250.38 86.04M245.16 441.78Q241.15 259.73 308.98 93.53M244.35 443.43Q241.11 259.69 309.8 90.1M244.66 439.63Q291.63 266.14 269.93 85.43M244.57 441.39Q259.68 273.22 106.48 343.06M244.56 442.22Q260.72 270.75 95.58 320.57M244.54 442.96Q249.11 257.07 379.33 126.89M244.33 440.82Q256.37 257.74 423.27 179.12M244.24 443.03Q265.51 263.71 443.59 278.73M244.95 439.85Q256.41 257.78 422.95 179.38M244.51 441.05Q262.8 261.09 444.53 243.46M244.42 442.92Q251.09 256.97 394.12 138.17M244.87 439.06Q291.65 266.13 269.95 84.96M244.58 441.58Q258.84 276.85 125.67 371.76M244.64 441.89Q265.54 263.74 443.71 278.84M244.71 441.77Q263.95 266.17 90.9 268.77M244.99 441.73Q269.08 269.95 426.73 343.01M244.3 442.95Q262.78 261.07 442.97 243.37M244.33 442.63Q262.8 261.08 442.63 243.56M244.54 441.69Q285.79 261.96 205.34 101.12M244.28 443.41Q263.37 261.56 445 250.29M244.35 442.15Q245.02 257.89 347.64 104.25M244.47 443.25Q268.49 262.64 94.09 215.58M244.61 443.1Q265.56 263.76 443.46 279.06M245.19 435.91Q262.81 261.1 441.19 243.9M244.68 440.2Q261.98 268.6 91.82 297.42M244.55 441.5Q269.94 273.78 407.25 374.69M244.83 439.56Q251.07 256.97 392.08 139.91M244.56 440.94Q265.55 263.75 444.86 279.25M226.51 440.17Q262.27 259.99 443.63 250.46M227.26 436.92Q260.42 269.69 89.13 297.8M226.56 438.85Q267.93 268.32 427.49 343.45M226.28 439.59Q240.38 257.85 313.78 92.2M226.75 438.22Q248.99 255.4 387.23 132.15M226.76 437.77Q246.63 255.64 369.59 118.79M226.27 439.63Q290.08 267.3 270.39 88.71M227.56 435.06Q267.45 267.08 431.94 331.6M226.66 439.71Q262.27 259.99 442.11 250.5M227.23 437.38Q258.12 274.33 105.89 343.38M226.34 439Q262.25 259.96 444.5 250.46M226.08 440.19Q262.32 267.32 87.24 268.96M226.63 439.04Q262.32 267.33 85.94 269.35M226.85 437.93Q243.87 256.33 347.5 103.74M226.34 439.72Q257.3 256.9 429.54 198.28M226.84 439Q262.29 260.02 445.92 250.51M226.75 439.49Q266.55 265.22 436.44 312.69M227.22 437.75Q284.24 263.06 203.75 96.47M226.35 439.58Q249.93 255.37 392.16 139.76M227.34 436.75Q290.09 267.25 270.1 85.74M227.1 437.32Q260.42 269.7 88.96 297.88M226.81 438.07Q284.24 263.1 203.62 95.35M210.88 434.77Q247.12 253.96 380.42 125.44M211.91 430.11Q256.53 275.25 107.13 343.02M210.39 435.29Q265.34 264.65 94.74 215.95M211.39 432.89Q264.77 283.79 299.02 438.85M211.98 430.91Q282.65 263.94 203.69 97.35M210.04 435.44Q260.77 268.19 86.7 268.97M210.53 435.14Q264.75 283.8 298.99 440.11M210.79 434.42Q260.83 268.15 86.29 268.7M211.23 433.42Q260.85 268.14 92.34 268.49M210.95 434.53Q288.56 268.12 270.14 84.77M211.07 434.06Q291.13 271.5 309.55 90.31M212.05 431.12Q257.6 272.76 99.38 319.6M211.54 431.64Q257.59 272.74 97 320M211.69 431.32Q288.55 268.16 270.42 84.33M210.24 435.94Q282.71 263.97 205.48 100.28M210.27 434.85Q243.02 254.75 347.35 104.87M211.08 433.14Q258.86 270.59 89.1 297.93M210.76 435.12Q260.82 268.17 87.53 269.05M192.89 428.12Q254.71 276.03 106.38 343.09M194.19 425.99Q260.6 256.65 438.13 251.17M193.41 428.58Q247.32 252.08 386.32 133.06M192.93 428.35Q260.01 256.15 445.04 243.5M195.34 423.76Q255.8 273.54 95.01 320.64M193.55 426.21Q285.13 267.51 250.64 89.62M193.38 426.46Q263.48 265.48 93.32 215.45M193.18 428.44Q266.24 264.96 427.72 343.3M193.17 427.4Q286.7 268.97 270.27 86.32M192.84 428.22Q259.98 256.11 441.67 243.59M193.86 426.21Q253.88 279.63 124.48 372.37M194.57 424.53Q248.25 252.01 391.24 140.66M194.81 423.74Q285.16 267.52 250.64 87.1M192.57 428.64Q248.26 251.99 393.35 138.78M192.72 428.72Q280.83 264.77 203.58 96.39M192.96 428.45Q247.26 252.04 386.85 131.98M193.66 426.7Q242.23 252.94 347.67 104.4M195.95 421.85Q262.92 283.33 283.37 442.07M193.32 428.07Q289.3 272.32 309.51 90.64M194.05 426.55Q286.72 268.93 269.91 89.52M192.87 428.09Q261.92 284.41 269.59 444.09M192.5 429.07Q263.51 265.46 95.74 216.07M193.72 425.83Q262.91 283.27 283.49 441.83M193.73 425.66Q286.67 268.97 270.19 85.07M192.78 429.15Q265.76 263.71 431.4 331.26M194.05 425.8Q242.23 252.94 347.62 104.52M193.4 428.37Q257.08 271.38 91.41 297.45M193.5 428.11Q285.2 267.49 250.34 86.5M193.9 426.77Q266.26 265.01 427.36 343.68M193.05 428.17Q258.97 269 90.58 268.95M192.62 428.91Q259.98 256.12 442.59 243.46M195.3 423.67Q242.26 252.96 345.88 108.38M193.23 427.96Q261.93 284.44 269.51 444.62M196.1 421.48Q258.96 269.01 87.76 269.2M193.95 425.6Q264.83 261.8 438.34 313.09M193.34 427.75Q260.59 256.64 442.65 250.75M193.53 426.96Q264.84 261.82 439.35 313.37M193.86 426.4Q260 256.14 445.15 243.34M123.32 372.9Q253.86 279.61 194.15 425M122.44 373.7Q258.82 276.82 244.34 440.94M124.01 372.69Q261.64 249.38 444.99 279.19M123.15 373.17Q275.73 268.59 250.23 86.59M124.37 372.61Q259.34 276.43 250.82 439.08M124.36 372.68Q279.9 273.45 309.31 91.97M107.37 342.87Q254.69 276.06 193.63 426.13M106.03 343.62Q264.57 248.85 436.94 312.76M107.86 342.32Q278.91 280.62 380.57 125.71M106.98 342.9Q279.01 282.53 391.12 140.43M105.3 343.35Q259.69 273.19 244.85 439.05M104.21 344.14Q250.52 265.72 93.99 215.56M106.53 343.03Q262.45 245.75 443.42 278.61M105.95 343.24Q266.08 264.33 187.02 102.38M105.39 343.82Q262.46 245.79 445.13 278.96M105.38 343.87Q262.48 245.81 438.88 278.71M105.37 343.59Q261.69 271.4 269.76 442.56M104.37 344.09Q273.66 269.17 269.65 85.06M105.38 343.39Q273.68 269.2 270.09 83.96M108.66 342.19Q261.85 263.4 153.5 125.66M106.08 343.31Q259.74 243.14 442.58 243.64M107.75 342.4Q254.73 276.02 193.43 427.36M106.47 343.12Q267.83 265.03 203.99 97.43M104.96 343.93Q263.65 269 298.18 437.24M105.28 344.01Q259.64 273.28 244.1 442.44M107.64 342.74Q276.59 273.1 314.47 92.92M94.88 320.99Q265.38 264 203.41 95.81M100.01 319.05Q253.53 262.64 115.55 165.2M100.16 319Q271.23 268.17 270.05 86.87M95.28 320.58Q261.34 241.12 437.08 250.82M97.85 319.85Q259.15 271.86 226.95 438.63M94.91 320.83Q266.52 248.22 431.17 331.08M96.6 320.43Q263.51 243.34 445.78 279.31M96.57 320.28Q265.36 263.99 203.12 95.28M95.23 321.16Q259.11 271.91 227.11 436.97M94.88 320.68Q275.59 275.49 347.31 104.93M98.28 320.1Q259.1 271.92 226.5 438.86M99.69 319.4Q265.62 246.4 436.72 312.95M95.93 320.75Q274.11 272.04 314.76 90.79M95.3 320.59Q263.63 263.3 188.66 105.4M97.31 320.23Q261.33 241.16 444.87 250.29M96.83 320.3Q274.1 272.05 314.22 93.22M91.55 297.85Q267.77 246.08 431.79 331.26M89.65 298.2Q260.38 269.75 226.63 438.79M92.17 297.43Q271.65 270.29 309.76 89.4M90.29 298.03Q261.98 268.61 244.48 443.49M90.99 297.98Q273.61 285.63 423.22 179.37M94.01 296.86Q261.97 268.6 244.31 441.51M90.56 297.89Q272.85 287.67 433.45 197.2M91.11 297.59Q267.51 265.44 250.32 89.21M89.65 298.05Q261.97 268.62 244.28 443.14M90.94 297.33Q268.31 247.32 426.82 343.25M93.3 297.34Q263.23 262.74 203.38 95.48M89.67 297.69Q269.06 266.89 270.06 84.36M90.14 297.97Q266.89 244.25 439.12 313.72M89.56 297.87Q263.17 262.71 205.18 101.61M90.9 298.03Q268.25 247.35 426.19 342.65M89.98 297.77Q273.45 274.24 346.61 106.63M92.08 297.22Q262.62 238.97 445.07 250.33M93.78 297.15Q263.23 262.74 204.11 97.19M89.88 298.06Q267.79 246.09 430.87 331.14M90.37 297.83Q262.53 268.16 251.02 444.12M93.94 297.4Q266.87 244.23 437.65 312.98M89.69 297.54Q263.19 262.71 203.42 95.5M88.86 298.17Q267.56 265.48 250.72 88.03M90.69 298.03Q273.47 274.23 347.28 104.72M95.23 296.65Q274.36 280.25 393.77 138.31M89.82 297.92Q262.06 238.54 443.2 243.89M89.92 297.85Q262.01 268.58 245.07 439.86M88.95 297.98Q267.57 265.49 251.07 88.91M88.75 298.33Q272.86 287.68 433.38 197.3M89.9 297.8Q262.05 238.52 443.06 243.67M91.19 297.71Q271.68 270.31 309.35 91.99M94.97 296.84Q262.55 268.13 251.29 443.2M87.57 268.98Q270.44 285.68 427.26 199.32M87.51 268.76Q260.75 260.75 203.4 96.64M87.73 269.01Q271.97 278.33 392.23 139.95M87.64 268.9Q259.06 260.08 187.16 102.41M88.35 268.81Q265.11 263.51 250.41 86.94M90.22 268.77Q271.01 272.24 347.49 103.79M90.31 269Q267.85 290.06 442.41 243.58M86.07 269.24Q270.2 244.92 424.63 341.8M87.12 268.84Q264.5 265.72 251.48 440.36M87.89 268.68Q271.94 278.32 392.57 139.76M88 268.91Q267.84 290.05 441.43 243.67M93.13 268.8Q265.13 263.52 250.56 87.63M86.35 269.13Q259.05 260.09 187.07 102.74M88.19 268.89Q260.79 260.78 203.57 96.26M88.55 269.07Q265.17 263.55 250.64 84.77M86.34 269.02Q260.83 260.8 203.72 95.64M86.3 269.15Q271.71 275 369.09 119.08M86.41 269.15Q258.93 269.02 192.85 427.68M88.11 269.08Q266.69 238.73 442.36 278.59M90.71 268.91Q271.88 276.35 379.23 126.85M85.61 269.17Q267.84 290.08 445.19 243.49M86.07 268.92Q270.24 244.93 425.12 342.46M89.18 269.12Q267.89 261.97 298.51 438.89M89.01 268.98Q269.75 243.68 430.34 331.03M87.59 242.77Q264.79 262.91 270.29 83.96M87.4 243.1Q261.03 267.13 194.4 425.48M87.65 242.67Q265.96 287.97 443.39 243.41M88.29 243.37Q271.77 241.81 431.13 331.19M91.14 243.49Q271.79 241.81 432.82 332.07M87.6 243.09Q270.1 276.29 393.99 138.28M90.79 243.32Q265.53 288.54 444.74 249.88M87.25 243.13Q266.51 263.88 251.39 439.69M91.08 243.35Q270.09 276.3 392.43 140.07M94.56 243.97Q271.78 241.8 432.51 331.83M87.62 242.95Q269.16 270.22 347.89 103.64M91.2 243.3Q263.33 290.72 442.19 278.72M91.26 243.45Q269.84 272.97 370.36 117.86M89.12 243.34Q255.3 257.5 171.86 113.13M92.4 243.51Q271.81 241.81 429.41 330.74M88.39 242.94Q270.07 275.3 387.36 132M88.48 243.12Q264.77 262.88 269.67 85.3M93.84 215.72Q265.71 263.81 309.12 91.96M93.94 215.2Q245.94 263.41 89.55 298.07M94.15 215.63Q248.05 264.68 94.74 320.83M93.23 215.32Q271.47 259.73 283.72 443.87M99.41 217.19Q261.66 288.25 441.39 278.83M93.47 215.67Q255.53 255.55 187.29 102.98M93.74 216.01Q266.87 263.78 226.52 440.41M99.2 216.67Q268.53 262.62 245.06 438.49M95.54 216.19Q261.61 258.99 250.67 87.53M93.23 215.19Q266.9 263.76 226.77 438.01M95.72 216.29Q268.18 270.48 368.4 120.5M92.85 215.32Q268.35 271.81 380.48 125.45M92.56 215.32Q245.92 263.45 91.31 298.02M96.12 216.34Q268.49 262.64 244.63 443.14M93.45 215.62Q269 262.22 250.89 443.19M93.43 215.52Q271.44 259.75 283.03 439.51M93.19 215.53Q269.01 262.21 251.05 443.07M92.76 215.4Q250.52 265.73 104.82 344.09M93.69 215.57Q270.47 260.85 269.68 444.1M96.49 216.65Q261.69 288.27 444.25 278.95M94.99 215.9Q274.29 240.12 431.34 331.2M99.2 216.63Q261.67 288.18 442.62 278.54M93.13 215.34Q245.9 263.42 90.39 297.82M93.38 215.5Q248.07 264.7 98.32 319.94M97.65 216.73Q273.38 238.28 437.14 313.09M97.02 216.54Q261.67 288.25 445.57 279.08M92.85 215.67Q272.42 258.43 298.97 441.04M92.85 215.22Q275.67 245.23 408.37 375.23M94.26 216.02Q248.01 264.7 98.51 319.5M96.41 216.45Q245.91 263.45 92.7 297.67M118.45 167.25Q272.38 261.72 226.76 439.27M118.87 167.46Q270.8 262.62 210.01 435.85M120.71 168.86Q261.07 254.93 269.7 88.08M117.87 167.03Q262.27 280.06 440.34 243.95M115.4 165.53Q253.51 250.1 187.16 102.09M115.98 165.55Q259.63 282.77 435.8 278.34M115.56 165.7Q251.35 261.4 90.15 298.01M153.93 126.39Q259.31 276.96 439.75 278.92M154.22 127.12Q254.42 279.99 432.2 331.63M154.39 126.91Q251.28 254.63 92.29 215.49M153 125.16Q278.19 261.45 226.65 438.31M154.34 127.36Q257.17 261.08 89.97 297.82" fill="none" stroke="#FF6600" stroke-opacity="0.42" stroke-width="0.55"/>
<path d="M173.14 116.12Q255.23 257.47 88.52 243.07M172.23 113.99Q257.14 259.54 88.88 268.94M171.37 112.61Q266.22 256.77 368.83 119.35M170.78 112Q266.49 260.14 391.21 140.89M171.14 112.57Q255.26 257.49 88.81 243.19M170.22 111.79Q277.11 263.51 193.86 426.07M171.22 112.36Q264.17 263.78 104.32 344.05M171.15 112.32Q280.55 261.83 227.32 435.98M171.42 113.52Q265.68 265.5 423.71 179.11M170.77 111.31Q282.17 260.7 244.91 440.5M173.02 115.52Q264.96 267.5 430 198.3M170.55 111.83Q261.89 272.45 443.64 250.44M172.03 113.89Q266.47 259.14 385.28 133.94M187.63 102.87Q261.53 262.06 91.64 297.81M187.65 103.35Q257.23 274.77 437.58 313M188.02 104.82Q282.44 262.38 226.68 438.47M188.13 105.01Q261.76 244.88 270.38 87.27M187.39 103.29Q266.95 256.24 380.52 125.34M190.33 108.67Q257.21 258.05 87.96 243.07M188.37 104.91Q261.74 244.82 269.94 87.3M186.99 102.38Q264.59 248.69 314.14 92.68M188.27 104.68Q282.47 262.39 226.88 437.71M188.17 105.01Q262.47 270.5 445.89 249.94M187.53 102.97Q262.48 270.46 444.93 249.9M187.97 103.95Q254.11 276.16 426.78 343M188.66 105.34Q288.04 257.03 297.98 435.92M203.89 97.21Q254.8 274.44 428.13 343.62M203.81 96.53Q258.93 258.72 87.72 242.82M203.39 96.09Q255.22 250.78 115.59 165.57M204.31 98.81Q257.92 273.06 439.53 313.45M204.22 97.75Q265.36 263.99 95.65 320.38M203.32 95.91Q263.19 262.72 89.08 297.93M204.29 98.29Q289.77 257.71 298.36 437.28M204.79 98.63Q286.37 261.53 251.12 442.52M203.29 95.59Q289.76 257.72 298.21 437.25M203.39 95.83Q256.06 273.96 432.51 331.74M204.62 99.51Q266.79 250.42 346.82 105.55M203.76 97.59Q267.64 254.54 379.47 127.01M204.48 98.92Q271.48 265.87 124.69 372.85M203.28 95.92Q263.15 268.77 445.54 250.13M203.94 98Q280.83 264.75 193.09 428.51M203.44 96.67Q257.24 256.22 92.7 215.21M203.3 95.77Q287.79 260.14 269.81 444.03M203.11 95.2Q280.81 264.77 194.12 425.22M204.15 97.64Q263.22 262.73 89.25 298.02M205.26 101.17Q263.16 262.7 91.65 297.12M203.53 96.29Q289.78 257.7 298.97 439.67M204.16 98.14Q284.2 263.07 226.89 437.86M204.15 97.44Q250.89 275.32 406.78 374.88M203.37 95.87Q260.97 270.93 441.67 278.77M203.57 95.82Q280.84 264.78 192.82 428.41M204.02 97.88Q287.77 260.14 269.66 441.83M203.19 95.64Q285.74 261.98 244.37 440.1M203.86 96.91Q256.04 273.96 429.89 330.9M206.1 103.47Q267.47 253.18 369.71 118.9M203.34 95.84Q263.63 268.18 442.41 243.43M203.08 95.49Q267.73 256.47 392.38 139.52M204.96 100.08Q267.47 253.13 369.51 118.57M204.62 99.39Q265.37 264 97.25 320.18M203.83 95.88Q289.8 257.74 298.95 441.01M203.86 96.95Q257.26 256.23 95.35 215.92M205.25 100.85Q263.63 268.18 440.33 243.63M203.83 97.82Q289.74 257.71 298.77 439.99M250.12 84.68Q290.65 264.25 251.18 440.9M250.36 85.72Q270.46 251.19 387.66 131.88M250.41 85.19Q270.47 251.17 386.83 132.62M250.29 85.83Q265.9 264.42 440 250.43M249.93 85.26Q290.65 264.22 251.47 439.53M250.37 84.76Q263.72 266.59 443.98 279.01M250.3 85.73Q257.52 270.12 427.55 343.59M250.1 85.23Q288.51 265.8 226.81 438.02M250.61 87.14Q269.55 246.08 347.89 103.91M250.37 87.4Q292.11 262.88 269.67 441.76M250.76 85.34Q285.23 267.52 193.18 428.61M250.26 86.26Q259.64 245.29 171.95 113.32M250.04 85.05Q290.09 264.68 245.36 434.49M250.8 89.7Q290.14 264.7 244.5 443.04M250.19 84.81Q240.53 267.81 299.26 440.76M250.76 87.17Q261.62 259 93.11 215.49M250.16 84.89Q269.68 257.45 422.82 179.22M250.66 88.11Q270.39 250.14 380.26 125.43M250.14 84.54Q288.53 265.8 226.67 439.13M250.7 87.71Q265.92 264.39 444.44 249.96M250.31 87.05Q270.38 250.16 380.09 125.67M250.5 86Q263.25 261.46 86.89 242.69M270.08 84.96Q269.08 266.91 90.06 297.83M269.99 86.07Q260.22 268.1 429.24 330.6M269.6 92.17Q265.13 265.09 445.58 279.11M270.25 86.06Q270.99 244.5 347.43 103.82M270.08 87.24Q261.19 246.8 170.51 111.96M270.32 85.01Q271.94 250.62 393.8 138.84M269.94 84.1Q267.33 262.89 444.92 250.09M270.03 84.3Q261.19 246.73 171.91 113.07M269.9 85.56Q292.21 265.67 251.32 442.3M269.97 91.22Q286.71 268.95 192.7 428.96M270.2 84.43Q267.81 262.31 440.43 243.77M269.89 90.23Q267.78 262.35 440.67 243.97M270.42 83.99Q267.34 262.88 441.11 250.69M269.96 87.34Q241.95 266.26 298.76 439.46M270 86.16Q269.07 266.9 90.93 297.62M270.33 85.67Q270.41 257.93 431.8 197.46M270.54 85.79Q290.12 267.29 226.86 438.45M270.06 87.08Q291.65 266.14 244.83 438.99M270.06 85.82Q290.09 267.25 226.6 439.96M270.07 83.96Q262.12 267.17 439.22 313.24M270.07 86.97Q292.21 265.69 251.4 439.3M269.94 91.38Q271.13 255.89 424.22 178.35M269.77 86.58Q290.04 267.24 226.24 440.1M269.91 86.79Q271.91 250.61 391.69 140.45M270.14 86.04Q264.8 262.92 88.78 243.14M269.73 86.96Q290.03 267.24 226.34 439.51M270.36 85.87Q241.97 266.23 298.35 437.75M270.13 84.15Q277.31 270.05 122.95 373.66M269.9 86.99Q261.09 254.96 118.11 167.26M270.02 87.41Q267.8 262.33 441.21 243.76M270.25 88.75Q241.99 266.24 299.04 440.1M269.86 87.88Q271.89 249.64 387.92 131.34M270.3 86.06Q239.54 264.26 269.74 442.41M270.02 84.41Q267.8 262.32 442.22 243.48M270.05 87.29Q271.65 247.26 369.96 117.96M269.82 84.25Q239.54 264.34 270.29 442.79M270.09 90.88Q241.98 266.25 298.51 437.5M269.94 84.27Q291.64 266.13 244.35 443.23M270.06 84.19Q267.33 262.89 444.21 250.28M269.89 85.86Q262.12 267.17 436.75 312.43M269.96 86.3Q267.79 262.33 441.03 243.74M269.94 84.51Q262.12 267.17 436.05 312.21M270.07 85.2Q255.1 269.46 406.75 374.33M270.17 87.61Q286.73 268.95 193.48 427.61M269.87 87.28Q267.79 262.34 443.19 243.49M309.12 92.56Q291.14 271.51 211.47 432.87M309.69 89.4Q242.92 261.73 270.13 443.83M309.9 90.08Q269.26 268.37 85.65 269.12M308.24 96.42Q241.55 260.23 251.03 442.67M309.83 89.84Q273.82 271.57 96.45 320.29M309.81 89.27Q268.54 262.48 441.88 278.74M309.44 91.68Q271.67 270.31 94.15 297.06M309.13 92.68Q265.73 263.83 95.83 216.39M309.89 89.45Q265.71 263.81 93.95 215.63M309.57 92.26Q265.56 264.56 435.88 312.19M308.51 94.5Q264.32 248.22 186.97 102.11M309.29 91.9Q242.93 261.71 269.92 440.8M309.51 92.52Q270.77 260.28 442.82 250.27M309.72 89.56Q263.66 265.49 433.11 331.54M309.28 92.17Q273.8 255.35 431.58 197.41M309.38 92.41Q265.04 246.51 203.36 95.57M313.18 95.73Q269.01 262.2 439.96 278.38M313.92 93.95Q269.55 268.85 87.31 269.35M314.3 91.13Q271.9 270.72 89.37 297.82M313.86 93.29Q271.93 270.75 92.65 297.39M314.81 90.61Q265.98 264.31 437.67 312.72M313.88 93.71Q269.53 268.83 89.81 269.14M314.4 91.87Q241.57 259.44 244.56 442.9M314.83 90.71Q265.99 264.28 92.85 215.37M314.77 91.46Q271.95 270.79 91.39 297.67M313.89 93.57Q271.19 260.03 444.36 250.06M314.82 91.23Q240.45 257.8 226.68 437.64M314.38 91.53Q289.57 272.78 193.99 426.63M313.49 96.31Q291.4 272.02 211.15 432.94M347.82 103.57Q243.89 256.32 226.33 439.91M346.98 104.91Q267.48 267.69 93.86 215.47M347.86 104.35Q269.45 262.8 438.41 313.14M346.59 105.69Q270.98 244.52 270.12 84M345.83 107.42Q269.42 262.81 433.32 311.61M348.06 103.63Q267.57 263.72 428.55 330.14M347.61 104.17Q266.1 252.17 186.92 102.51M346.7 105.62Q267.51 263.73 431.69 331.64M346.95 105.04Q273.45 274.21 89.72 298.09M347.01 105.23Q272.47 260.69 442.89 278.77M347.17 104.47Q243.88 256.34 228.17 432.75M346.96 105.31Q275.1 257.96 443.05 243.54M346.76 105.95Q271.05 272.29 86.72 269.22M347.65 103.9Q269.53 246.08 250.13 84.81M347.15 105.16Q245.02 257.9 244.25 443.26M346.75 106.19Q267.49 267.72 93.19 215.14M348.07 104Q269.16 270.24 87.28 242.82M347.2 104.38Q249.21 261.88 298.77 441.22M348.27 103.67Q262.43 265.09 402.8 371.49M347 105.87Q271 244.56 270.11 87.32M347.73 104.03Q274.63 258.54 440.22 250.79M347.89 103.88Q265.56 254.1 170.27 111.35M346.78 105.48Q266.79 250.41 203.76 97.04M345.84 106.78Q249.22 261.9 298.97 440.9M347.5 104.39Q271.06 272.3 86.89 269.36M346.77 105.85Q275.1 257.97 443.6 243.63M347.03 105.05Q269.52 246.09 250.36 88.54M347.82 104.55Q269.17 270.26 87.14 242.94M347.13 105.27Q277.71 253.59 433.16 196.95M369.22 119.37Q266.78 254.9 186.86 102.08M369.3 119.27Q270.21 248.82 250.28 84.81M370.15 117.34Q277.35 257.86 445.51 250.1M369.67 119.19Q271.65 247.32 269.96 87.73M368.61 119.73Q265.83 259.1 152.64 124.33M368.56 119.92Q250.66 260.22 283.59 442.73M369.61 118.65Q272.16 262.13 436.86 312.62M370.56 117.73Q271.66 247.3 270.11 86.1M367.91 120.88Q277.39 257.83 439.81 250.29M367.39 121.08Q248.14 257.77 250.94 441.33M367.61 121.71Q268.18 270.48 92.32 215.29M369.8 118.56Q247.76 257.23 244.42 442.12M368.1 120.84Q248.19 257.76 251.01 440.8M369.36 119.25Q267.5 253.11 204.58 97.64M366.59 123.15Q265.16 264.42 399.81 368.92M368.48 119.87Q270.21 248.79 250.39 85.65M367.64 121.07Q277.35 257.86 438.26 250.75M370.09 117.68Q277.8 257.32 444.16 243.67M380.11 125.81Q253.34 261.04 299.06 441.25M378.08 128.19Q266.01 260.47 154.25 126.61M380.59 125.02Q267.64 254.49 203.73 97.22M377.78 129.03Q278.74 257.68 443.84 250.38M377.88 128.21Q273.49 261.95 434.42 311.81M380.55 124.96Q276.53 259.84 444.27 278.92M380.49 125.49Q268.33 271.79 97.75 216.48M380.52 125.29Q274.29 278.29 90 297.78M378.27 127.95Q270.4 250.14 250.66 87.7M379.93 125.94Q266.48 264.25 405.43 373.32M379.94 126Q271.86 248.59 270.44 85.44M380.82 125.16Q249.53 257.58 250.73 442.62M386.58 132.48Q251.9 258.99 269.66 438.08M387.77 131.86Q271.9 249.66 269.99 85.47M386.53 132.34Q251.88 258.99 269.7 443.14M387.76 131.52Q280.18 257.06 443.75 243.68M386.86 132.17Q271.9 249.61 270.09 83.89M384.74 135.05Q275.77 246.79 314.79 91.1M387.55 131.65Q251.91 258.99 269.67 443.2M386.85 132.31Q271.88 249.64 269.74 88.09M386.45 132.22Q280.17 257.01 443.98 243.05M386.49 132.58Q266.39 267.39 115.86 166.3M387.59 131.4Q282.76 252.69 430.69 198.16M386.74 132.44Q280.19 257.03 445.1 243.18M387.35 131.95Q271.88 249.65 269.72 90.19M387.59 131.77Q267.72 255.51 203.92 97.45M386.98 132.5Q282.78 252.71 433.08 197.38M385.45 134.15Q275.76 246.78 314.63 91.39M384.43 135.04Q251.93 259.01 269.92 439.05M386.81 132.61Q276.5 280.57 96.36 320.12M393.83 138.2Q282.63 283.41 124.93 372.4M394.43 137.91Q271.89 250.64 269.7 86.76M394.05 137.7Q266.49 260.12 172.09 114.35M390.56 141.8Q268.44 273.81 94.44 215.89M391.98 140.5Q280.74 257.57 444.04 250.07M391.13 140.75Q275.3 248 309.85 89.3M394.05 137.97Q251.51 257.52 251.09 442.59M394 137.97Q275.76 247.74 314.46 91.42M394.5 137.78Q268.41 273.75 95.12 215.52M393.98 137.93Q249.95 255.4 226.77 439.23M394.5 137.89Q251.11 256.99 244.88 440.66M392.25 139.71Q282.63 283.41 125.81 371.64M393.6 138.71Q267.74 256.47 203.54 96.03M390.59 141.68Q251.54 257.52 251.07 443.37M393.12 138.86Q280.68 257.6 445.58 250.26M420.25 180.72Q267.65 279.1 92.65 215.36M422.11 180.03Q266.94 261.81 203.26 95.53M422.4 179.66Q266.94 261.79 203.58 96.25M422.38 179.93Q280.82 262.67 439.08 313.32M421.82 180.32Q273.83 264.96 402.7 371.04M422.29 179.55Q255.26 256.17 227.96 432.71M421.26 180.42Q269.31 281.63 87.92 243.29M422.73 179.33Q280.79 262.66 437.03 312.63M423.82 179.02Q256.85 258.31 251.03 441.69M422.09 179.73Q260.61 261.73 298.6 440.23M422.75 179.8Q271.15 283.67 86.06 268.92M421 180.54Q266.95 261.78 203.35 95.16M421.84 180.13Q253.6 252.82 194.3 425.3M421.81 180.01Q256.39 257.75 244.43 441.05M422.95 179.45Q265.6 273.66 115.39 165.47M422.15 179.81Q278.18 287.89 105.39 343.33M423.48 179.31Q280.83 262.67 439.49 313.32M429.62 198.51Q255.37 240.56 104.28 344.31M430.05 198.56Q266.87 281.14 95.05 215.58M433.09 197.07Q264.86 275.67 121.14 168.94M432.47 197.43Q270.38 257.98 270.04 85.06M432.92 197.3Q256.47 255.4 210.63 435.15M433.47 197.12Q258.9 259.05 251.1 442.08M429.88 198.47Q282.84 263.41 438.75 313.34M433.27 197.03Q258.43 258.49 244.4 441.66M432.48 197.6Q285.94 261.28 442.85 278.57M432.36 197.75Q258.46 258.5 244.34 441.82M432.91 196.87Q262.63 262.45 298.49 440.11M431.07 198.28Q268.95 259.52 250.94 89.71M428.66 199.01Q285.9 261.3 441.73 278.8M433.31 197.14Q275.81 265.7 407.36 375.25M443.12 243.84Q265.72 264.08 283 439.87M444.8 243.36Q261.68 259.5 227.25 435.59M445.03 243.38Q264.29 285.49 94.32 215.5M441.3 243.61Q262.38 271.83 173.1 115.32M440.95 243.75Q262.91 269.98 186.71 102.72M444.36 243.41Q277.83 257.29 370.15 117.75M443.37 243.7Q260.84 258.01 210.59 435.76M444.73 243.31Q262.92 269.93 189.79 108.01M440.7 243.6Q271.19 259.73 309.34 91.07M442.29 243.72Q267.78 262.35 269.88 86.9M444.26 243.22Q264.58 263.06 269.45 443.34M440.59 243.76Q280.22 268.27 406.53 373.82M444.53 243.21Q262.92 269.95 187.55 103.97M444.98 243Q266.38 263.84 250.35 85.64M445.11 242.83Q280.24 257 387.14 132.35M442.07 243.64Q267.8 262.32 270.1 87.98M444.31 243.56Q285.37 266.91 432.97 331.67M443.92 243.22Q263.24 261.64 251.12 443.75M443.08 243.23Q262.39 271.83 171.88 113.52M443.18 243.41Q280.18 257.03 386.29 132.86M442.32 243.54Q279.2 257.1 380.28 125.76M445.15 243.19Q267.08 265.1 299.19 439.22M444.37 243.33Q266.37 263.85 250.53 85.84M443.45 243.42Q262.04 238.5 90.34 297.63M441.87 243.36Q260.74 240.66 97.15 320.18M439.31 243.9Q264.32 285.51 93.29 215.56M441.79 243.6Q271.15 259.76 309.24 90.11M444.8 243.13Q266.36 263.85 250.31 85.81M445.04 250.25Q260.29 243.63 105.38 343.97M445.83 250.09Q261.91 272.42 172.5 114.63M444.9 250.38Q260.58 256.62 194.97 424.08M444.92 250.28Q267.61 265.53 298.83 440.53M445.28 250.31Q280.65 257.6 390.27 141.33M443.43 250.36Q265.88 264.44 250.41 88.19M444.7 250.17Q280.71 257.58 393.14 139.14M442.44 250.58Q263.84 286.1 94.79 216.01M443.95 250.38Q270.7 260.32 309.71 89.54M441.55 250.23Q267.61 265.53 299.07 440.37M442.86 250.55Q263.15 268.76 203.66 96.17M442.66 250.3Q261.32 241.13 97.2 320.1M441.63 250.1Q263.18 268.74 203.84 97.25M442.6 250.76Q260.58 256.61 193.64 426.42M445.8 250.21Q267.37 290.62 88 268.94M441.33 250.66Q262.6 239.01 91.44 297.76M443.56 250.23Q263.81 262.1 251.54 437.02M444.07 250.18Q265.52 288.57 89.64 243.32M445.5 250.46Q265.86 264.46 250.44 88.22M444.14 250.31Q271.18 260.04 314.05 93.06M444.9 250.16Q285.86 267.38 431.17 331.6M443.04 250.19Q265.15 263.53 269.53 443.39M444.09 250.32Q267.61 265.54 298.51 438.34M444.03 250.41Q263.83 262.12 251.51 438.24M441.07 278.88Q261.65 288.25 93.65 215.44M441.62 278.79Q263.72 266.59 250.9 89.84M442.23 279.09Q262.75 258.8 193.76 426.38M441.64 278.71Q272.46 260.69 345.6 107.88M444.15 278.84Q263.48 243.33 97.88 320.14M443.43 278.91Q269.76 267.7 297.9 436.24M445.4 278.96Q260.99 270.92 203.22 95.22M444.17 279.01Q269.81 267.73 298.93 438.87M444.49 278.93Q266.73 238.72 85.73 268.81M443.05 278.86Q261.68 288.26 92.26 215.38M445.27 279.25Q263.31 290.74 91.15 243.22M442.48 279Q261.64 288.23 97.19 216.29M444.32 278.88Q269.75 267.69 298.43 439.43M444.87 279.23Q272.46 260.7 345.39 108.72M445.89 278.98Q264.76 241.14 90.12 297.8M445.62 278.9Q260.29 272.66 189.35 107.1M443.24 279.06Q264.42 262.15 226.38 439.24M445.45 278.99Q277.53 259.77 386.48 132.55M442.72 279.23Q266.02 264.32 251.26 441.35M442.54 278.89Q275.21 260.03 368.27 120.79M439.96 278.33Q266.7 238.71 88.09 268.91M441.56 278.99Q260.94 270.99 203.52 97.48M444.61 279.07Q261.63 249.39 123.58 373.12M439.37 278.3Q261.69 288.21 93.17 215.27M442.48 278.92Q262.46 245.82 106.48 343.5M444.67 278.91Q260.97 270.95 203.88 97.86M445.34 278.46Q269.06 262.17 313.48 95.36M442.23 278.98Q263.52 243.32 96.16 320.37M443.65 278.7Q266.71 238.71 86.09 268.8M442.46 278.95Q261.65 288.24 96.47 216.24M437.75 313.04Q268.85 241.78 85.86 268.8M439.43 313.42Q272.17 262.13 369.04 119.79M437.41 312.89Q280.77 262.66 424.4 178.29M434.25 311.75Q268.05 267.27 250.62 442.06M436.58 312.5Q262.14 267.15 270.31 83.87M439.45 313.43Q269.45 262.8 346.76 106.38M438.36 313Q272.14 262.13 368.99 119.14M439.54 313.19Q266.52 265.17 226.42 439.86M439.54 313.49Q265.6 246.39 95.46 320.96M437.95 312.86Q257.25 274.75 187.73 103.32M438.26 312.91Q262.12 267.17 270 84.66M437.33 312.97Q271.91 270.78 299.28 441.63M439.13 313.21Q266.88 244.19 89.46 297.94M438.94 313.33Q266.89 244.2 89.97 297.81M434.02 311.87Q265.66 263.66 211.13 433.23M436.89 312.45Q265.64 263.64 210.72 434.52M438.64 313.29Q262.09 267.19 269.84 87.92M439.15 312.75Q271.91 270.74 298.82 437.23M435.86 312.17Q257.96 273.01 204.12 97.31M430.24 330.8Q269.01 269.19 251.48 437.25M428.67 330Q260.29 268.05 270.52 84.08M429.01 330.38Q267.8 246.07 92.93 297.23M427.69 329.95Q267.78 246.12 89.15 298.35M429.61 330.61Q270.41 270.68 270.04 439.6M432.57 331.8Q269.74 243.66 86.29 269.04M431.97 331.61Q272.57 262.81 385.68 133.04M430.45 330.95Q269.01 269.19 251.44 437.28M429.83 330.82Q273.59 262.79 391.35 140.8M425.92 329.5Q256 274.01 203.19 96.29M432.3 331.66Q285.9 267.37 443.14 250.39M432.12 332.19Q255.99 274.01 203.19 96.24M423.61 341.42Q272.35 263.27 393.82 138.4M426.75 343.19Q268.28 247.35 91.12 297.68M427.1 343.38Q254.79 274.44 203.45 95.73M427 342.89Q284.66 267.85 443.71 250.33M427.28 343.22Q284.64 267.85 445.1 250.14M427.27 343.27Q274.76 241.39 94.87 216.05M428.05 343.7Q267.93 268.33 226.84 437.96M427.12 342.91Q269.45 270.4 250.66 442.42M427.36 343.59Q273.28 273.9 298.8 441.1M423.43 341.93Q266.23 264.22 347.76 103.56M425.41 342.35Q257.55 270.1 250.76 88.91M427.34 343.27Q265.13 255.58 125.26 372.1M427.03 343.21Q271.37 263.29 387.55 131.7M427.49 343.51Q267.92 268.32 226.12 440.2M427.05 343.42Q269 263.54 370.31 117.72M425.78 342.24Q254.13 276.18 186.87 102.23M427.1 343.06Q270.21 244.91 87.75 269.09M427.33 343.57Q258.96 268.57 270.09 86.58M426.72 343Q271.37 263.28 387.49 131.72M425.38 342.78Q258.92 268.6 269.8 85.63M407.73 375.26Q269.14 251.26 90.55 298.21M407.5 374.8Q270.38 274.32 251.09 441.29M406.91 374.4Q267.5 264.18 386.64 132.63M405.74 373.57Q275.66 245.27 92.54 215.3M405.25 372.85Q270.37 274.3 251.03 442.08M406.72 374.17Q269.17 251.19 92 297.41M406.87 374.81Q266.46 264.25 379.68 126.45M407.28 374.75Q280.76 268.74 443.72 250.27M404.72 373.14Q274.22 277.82 299.16 439.91M404.64 372.7Q267.12 268.82 194.5 424.41M405.94 373.53Q268.83 272.2 226.51 440.1M405.99 373.45Q267.13 268.83 193.77 426.99M405.1 373Q265.11 264.43 370.27 117.03M299.3 440.41Q267.07 265.09 441.9 243.56M298.98 439.87Q240.51 267.82 250.11 85.71M298.42 438.8Q267.89 261.96 90.76 268.93M298.68 437.92Q267.93 261.91 89.37 268.81M298.81 439.57Q264.72 283.77 210.18 434.8M298.69 439.75Q249.25 261.88 346.29 106.71M298.53 437.15Q269.98 260.05 87.68 242.92M298.73 439.05Q254.37 260.97 387.45 131.99M298.74 439.94Q263.92 281.99 192.93 428.53M299.45 441.59Q241.98 266.27 269.98 88.81M298.47 439.12Q269.75 267.68 441.07 278.5M298.29 438.08Q267.59 265.52 441.3 250.42M299.28 440.72Q265.97 264.35 93.02 297.5M298.61 438.04Q265.97 264.34 89.97 297.84M298.97 440.34Q241.95 266.26 269.95 85.4M298.12 436.51Q267.01 265.04 443.79 243.03M299.06 440.51Q264.7 266.5 95.59 320.59M299.1 441.4Q253.37 261.04 380.21 126.13M298.69 439.75Q286.08 256.47 171.5 113.41M298.96 441.25Q267.62 265.54 445.18 250.42M297.84 435.75Q269.77 267.7 444.31 279.03M299.07 441.6Q251.96 261.22 370.11 117.47M298.37 436.4Q265.97 264.35 89.35 298.07M298.82 441.03Q263.65 268.99 107.1 342.75M283.2 441.92Q261.8 273.94 122.68 373.88M283.76 443.04Q266.3 264.55 445.39 250.22M283.46 443.74Q266.29 264.54 445.34 250.37M282.99 436.18Q266.32 264.57 445.44 250.47M283.64 443.48Q285.1 257.79 170.77 112.06M283.26 441.7Q288.75 259.05 203.85 97.44M283.56 442.78Q271.51 259.71 94.55 215.21M283.32 442.3Q240.6 265.26 269.91 84.7M283.28 440.25Q271.45 259.74 98.22 216.87M283.7 441.07Q285.11 257.76 171.37 113.22M283.54 442.09Q261.39 261.5 427.52 199.55M269.94 443.2Q270.5 260.82 94.07 215.53M269.78 444.17Q284.1 258.89 170.21 111.42M269.65 444.44Q269.45 268.77 439.18 313.28M269.82 443.34Q286.06 259.45 187.33 102.89M269.72 443.96Q252.89 258.97 392.59 139.66M269.74 444.14Q267.99 262.5 89 243.06M269.93 442.69Q265.95 264.35 86.69 268.95M269.68 443.67Q267.99 262.5 89.08 243M269.8 444.14Q242.94 261.68 310.07 89.59M270.02 444.33Q268.01 262.48 89.27 243.12M269.72 442.91Q251.92 258.99 386.95 132.4M269.75 444.44Q251.88 258.99 386.5 132.32M269.87 443.46Q265.19 263.57 442.2 250.42M269.89 439.18Q239.52 264.32 269.74 86.84M269.38 441.86Q264.59 263.07 444.37 243.38M269.9 443.15Q267.37 265.76 440.47 278.75M269.66 444.73Q292.1 262.88 250.12 85.49M250.89 442.24Q270.37 274.32 406.02 373.86M251.53 439.25Q286.32 261.49 202.93 95.37M250.95 442.19Q274.44 260.19 115.39 165.66M251.09 443.49Q269.02 269.21 433.03 332.04M251.25 442.35Q269.5 270.46 425.1 342.16M251.39 440.55Q269.02 269.2 432.62 331.76M251.45 441.92Q284.63 260.8 190.25 108.87M251.7 438.25Q250.54 257.56 387.03 131.89M251.29 442.17Q249.59 257.62 379.22 127.38M251.14 442.94Q268.1 267.33 439.24 313.39M251.32 441.45Q249.59 257.61 379.05 127.67M250.95 441.51Q251.49 257.5 392.83 139.17M251.39 441.96Q258.91 259.07 431.75 197.7M251.05 439.88Q270.37 274.31 407.04 374.53M251.08 443.05Q264.49 265.73 89.28 268.78M251.05 443.63Q261.26 270.32 96.48 320.42M250.87 443.28Q286.32 261.52 204.73 99.45M250.72 443.8Q256.84 258.3 422.97 179.52M251.45 441.93Q260.25 272.77 105.33 343.81M251.09 441.15Q265.97 264.27 441.32 278.67M251.3 438.87Q241.54 260.23 309.82 89.7M251.53 439.65Q263.83 262.12 443.18 250.32M250.9 440.24Q264.44 265.77 90.27 268.92M250.83 443.59Q264.48 265.73 90.47 268.64M251.05 441.8Q270.38 274.34 406.79 374.55M251.35 438.29Q268.99 262.23 96.21 216.54M251.55 439.16Q263.83 262.12 441.69 250.45M251.58 439.12Q256.86 258.33 420.26 180.8M251.18 443.32Q260.25 272.73 104.34 343.77M251.19 443.07Q245.48 258.46 345.32 108.75M251.17 442.22Q292.2 265.68 269.98 85.21M251.23 443.25Q248.21 257.8 370.03 118.04M244 441.68Q249.11 257.01 379.35 127.42M244.37 442.88Q247.7 257.24 368.88 118.87M244.95 440.62Q251.09 256.99 392.25 139.81M244.36 442.91Q290.11 264.69 250.19 84.9M245.19 439.88Q267.67 266.8 438.52 313.01M244.54 441.26Q261.96 268.63 90.09 298.09M244.7 441Q247.74 257.24 369.45 118.68M244.63 441.06Q291.67 266.15 270.24 85.73M244.7 441.43Q290.12 264.68 250.15 84.61M244.62 441.72Q291.64 266.11 269.76 87.9M244.62 439.96Q265.52 263.72 444.59 278.95M244.53 442.1Q250.1 256.99 385.95 133.32M244.48 440.98Q269.93 273.75 406.58 373.94M244.85 438.91Q267.65 266.79 438.17 313.22M244.91 440.12Q249.12 257.07 376.72 130.1M244.7 442.22Q273.92 260.61 116.72 166.54M245.32 440.48Q263.98 266.15 86.9 269.02M244.59 440.53Q290.12 264.71 250.62 87.33M244.67 441.19Q262.81 261.1 444.49 243.41M244.84 440.13Q291.67 266.14 270.05 88.8M244.61 440.59Q241.59 259.4 314.58 92.45M244.63 442.28Q262 268.59 88.8 298.04M244.59 440.89Q263.91 266.2 89.83 269.07M244.37 441.92Q267.63 266.76 438.15 312.96M244.65 441.36Q273.94 260.61 117.77 166.85M244.56 442.56Q263.37 261.56 442.94 250.35M244.47 439.73Q284.05 261.29 187.36 102.41M244.78 442.65Q267.67 266.81 437.52 312.93M227.14 436.29Q267.92 268.31 427.39 343.25M227.04 436.11Q243.89 256.3 346.53 106.36M227.31 436.85Q282.5 262.38 187.14 102.17M226.78 438.9Q266.9 263.76 94.73 215.87M227.64 435.91Q266.93 263.75 96.48 216.24M226.94 436.61Q280.53 261.85 170.76 111.56M226.65 438.06Q255.27 256.16 424.56 178.47M226.6 437.42Q247.98 255.44 379.3 127.09M226.57 439.15Q262.25 259.97 443.21 250.37M227.37 435.73Q284.2 263.08 203.56 96.31M226.51 438.45Q264.4 262.12 444.12 278.89M227.27 435.57Q266.88 263.78 92.69 215.22M226.49 439.48Q262.25 259.97 440.9 250.49M226.86 437.98Q257.25 277.97 126.16 371.48M226.81 436.94Q288.5 265.82 250.26 86.01M226.93 437.64Q267.45 267.08 432.47 331.92M226.85 440.05Q250 255.43 393.99 138.33M226.87 438.66Q264.43 262.16 444.43 278.95M226.58 439.66Q288.55 265.82 250.47 85.41M210.62 435.07Q262.88 266.3 88.24 242.94M211.35 431.68Q280.9 263.27 187.37 103.07M211.32 432.02Q288.55 268.17 270.43 87.49M211.73 430.56Q260.79 257.94 441.91 243.55M210.16 435.7Q248.07 253.85 383.54 135.63M210.89 433.47Q249.06 253.83 392.7 139.24M210.84 433.73Q288.53 268.14 270.05 87.87M210.4 435.36Q248.09 253.86 385.76 133.44M193.18 427.76Q286.7 268.94 269.96 88.12M193.67 426.11Q280.81 264.78 203.81 96.77M193.19 427.59Q289.55 272.81 314.51 91.78M193.36 428.14Q259.01 268.98 86.23 268.91M192.72 428.82Q264.82 261.78 438.59 312.71M193.22 427.47Q277.15 263.52 173.77 116.75M194.44 425.28Q246.3 252.11 380.49 125.45M193.63 426.6Q244.9 252.28 369.4 118.38M193.97 425.91Q244.93 252.28 369.82 118.14M192.93 427.78Q279.03 264.07 188.5 106.13M194.27 425.38Q263.93 281.97 298.6 437.89M192.45 428.81Q258.95 269 85.65 269M192.9 428.51Q248.27 252.02 392.84 139.31M193.54 427.16Q280.82 264.76 204.9 100.33M193.42 427.78Q279.06 264.05 186.46 102.32M192.86 429.08Q254.75 276 106.45 342.89M195.25 423.35Q255.77 273.56 96.74 320.21M193.06 428.48Q259 268.98 86.53 268.86M193.1 427.55Q280.84 264.79 203.49 95.45M193.5 427.22Q263.51 265.47 93.71 215.77M193.15 427.39Q286.68 268.96 269.98 89.48M192.52 429.05Q289.54 272.79 314.27 91.93M123.63 373.04Q261.62 249.37 441.95 278.66M123.25 373.58Q282.36 280.1 367.08 122.26M123.07 373.69Q265.14 255.58 422.9 341.24M124.75 372.55Q259.46 247.23 443.49 250.37M124.89 371.91Q252.5 243.4 421.7 180.12M123.21 373.25Q277.29 270.05 270.05 84.87M104.94 343.56Q260.21 272.77 250.91 440.53M105.79 343.34Q263.66 268.98 298.87 440.74M104.8 344.04Q265.97 251.96 422.6 340.94M104.97 343.71Q265.5 250.68 430.12 330.73M104.41 343.93Q278.72 279.23 368.72 119.71M107.34 342.85Q248.03 267.4 87.76 243.14M105.8 343.56Q272.2 267.79 250.82 87.91M105.25 343.66Q265.98 251.94 422.98 341.03M105.55 343.66Q259.72 243.13 444.3 243.21M106.35 343.25Q263.67 268.98 299.02 440.38M106.64 342.94Q266.87 255.78 400.81 369.19M98.85 319.66Q260.7 270.77 245.22 435.62M100.46 319.04Q271.24 268.18 270.08 86.91M95.24 320.55Q263.7 267.83 283.49 442.38M96.34 320.75Q263.5 243.36 442.7 279.05M97.25 320.25Q262.72 268.95 269.82 441.58M95.61 320.79Q259.38 262.37 154.4 126.89M101.8 318.58Q276.54 281.54 392.76 139.38M98.64 319.41Q265.33 263.98 203.7 97.24M95.05 321.19Q262.68 269 269.56 444.75M95.92 320.5Q261.72 262.75 172.7 114.64M94.92 320.81Q276.54 281.54 394.35 137.82M97.81 320.16Q261.32 241.16 443.02 250.36M94.7 320.77Q253.5 262.65 120.41 168.6M97.65 320.04Q269.72 266.75 250.4 84.76M97.15 320.25Q261.75 262.76 171.59 112.57M97.82 319.68Q265.33 263.98 203.98 97.84M97.73 320Q265.61 246.36 438.67 313.18M90.86 297.56Q274.35 279.3 387.66 131.71M89.47 297.76Q259.52 261.47 172.25 114.45M90 298.18Q260.37 269.75 227.33 435.6M91.57 297.86Q263.96 266.83 269.6 443.67M89.08 298.09Q273.44 274.2 347.47 103.88M90.07 297.9Q266.86 244.18 435.54 312.05M91.4 297.46Q260.41 269.71 226.98 437.69M88.85 298.07Q273.59 285.59 424.54 178.45M89.56 297.97Q262.51 268.17 250.82 443.31M94.64 296.74Q267.8 246.03 429.52 330.32M90.59 297.82Q273.46 274.25 345.88 108.14M93.19 297.07Q257.17 261.08 154.34 127.14M90.02 298.05Q257.24 261.1 154.28 126.59M90.28 297.94Q260.37 269.74 226.97 436.55M95.88 296.81Q259.53 261.48 171.36 113.15M90.03 297.76Q245.89 263.42 97.62 216.65M89.28 297.97Q264.97 265.67 283.63 442.46M88.94 298.04Q245.89 263.42 97.9 216.74M93.64 297.01Q274.37 280.26 390.24 141.83M93.12 297.52Q259.53 261.49 170.78 112.66M88.82 298.26Q261.98 268.61 244.84 440.13M91.33 297.38Q266.89 244.18 438 313M88.8 297.93Q267.54 265.47 250.42 84.77M89.03 298.13Q251.39 261.39 115.84 165.4M91.6 297.61Q274.3 278.27 380.45 125M88.03 269Q269.74 243.66 432.95 331.93M88.09 268.98Q268.82 241.78 438.92 313.22M87.13 269.02Q267.85 290.06 443.16 243.48M86.96 269.11Q271.1 248.75 406.05 373.21M86.82 268.94Q267.39 290.6 445.55 249.91M87.2 269.24Q248.98 259.46 117.41 166.48M90.81 268.91Q265.15 263.54 250.78 88.15M88.73 268.72Q260.81 268.17 212.83 427.58M85.93 268.6Q271 272.24 346.28 106.71M85.6 269.16Q267.92 261.92 299 438.89M89.04 269.07Q269.51 268.79 313.92 92.23M86.58 269.06Q266.67 264.97 270.13 83.93M86.68 268.88Q266.65 264.94 269.91 87.9M87.23 269.17Q267.87 290.05 444.68 243.1M86.36 268.93Q258.96 269 192.7 428.47M85.67 269.21Q266.68 264.98 270.14 85.02M86.03 269Q265.13 263.53 250.51 86.23M86.48 268.96Q271.11 248.76 404.73 372.35M87.01 269.06Q259.07 260.09 187.57 103.35M89.22 268.8Q267.91 261.94 298.43 438.6M87.6 268.81Q266.64 264.94 269.96 84.5M85.79 269.37Q267.39 290.66 445.35 250.41M86.32 268.91Q268.84 241.79 436.82 312.84M89.27 268.78Q271.94 277.34 387.01 132.19M86.7 268.82Q262.35 267.29 226.7 438.62M87.74 268.82Q262.34 267.3 226.33 439.73M90.53 268.53Q257.11 259.51 171.84 113.42M88.59 268.8Q267.83 290.04 444.61 243.34M89.98 269.15Q262.32 267.33 226.68 438.36M89.07 243.13Q269.98 260.05 299.33 441.26M92.07 243.77Q263.35 290.76 443.98 278.96M87.75 243.06Q265.96 288.03 440.53 244.08M87.56 243.32Q270.03 274.31 380.7 124.94M89.31 243.22Q264.39 265.44 226.71 438.71M88.48 243.5Q270.85 239.96 438.43 313.29M88.98 243.18Q269.96 260.07 299.08 441.3M88.74 243.51Q267.68 266.81 313.75 94.81M88.66 242.83Q258.9 258.7 203.57 96.5M88.62 243.33Q271.79 241.83 432.75 332.12M92.22 243.64Q263.36 290.73 444.81 278.8M88.51 243.04Q273.17 246.91 404.6 372.55M88.98 243.34Q264.38 265.45 227.12 436.82M92.38 243.67Q258.91 258.73 203.07 95.55M93.63 215.17Q261.65 288.21 442.81 278.88M93.67 215.49Q245.94 263.44 93.2 297.67M92.94 215.5Q266.85 263.79 226.59 437.92M94.46 215.69Q261.6 258.98 250.57 85.96M94.93 216.28Q274.73 241.39 427.66 343.3M95.39 216.27Q261.7 288.25 443.21 278.71M96.75 216.28Q272.46 258.42 298.33 438.16M94.01 215.71Q269.02 262.21 251.11 442.79M94.39 215.99Q275.64 245.26 406.21 373.81M96.63 216.51Q245.9 263.44 90.11 298.05M97.12 216.54Q267.51 267.75 347.79 104.35M93.97 215.56Q274.29 240.1 433.24 331.87M97.19 216.77Q266.89 263.77 227.45 436.66M93.71 215.49Q273.39 238.27 434.79 312.37M97.19 216.31Q268.46 262.67 244.21 441.47M94.79 215.69Q272.48 258.39 299.15 440.98M95.12 215.62Q263.1 260.37 269.89 87.32M97.38 216.42Q251.22 254.58 153.03 125.74M93.75 215.68Q268.17 270.45 368.02 120.55M97.86 216.73Q274.31 240.16 432.08 332.01M93.88 215.59Q268.43 273.79 393.27 139.04M115.98 165.78Q262.3 280.03 444.32 243.06M117.34 166.67Q248.93 259.44 87.41 268.93M116.1 165.67Q248.94 259.43 85.63 268.88M116.6 166.24Q277.93 256.34 299.39 440.75M120.53 169.1Q261.81 280.66 445.45 250.29M115.38 165.25Q265.46 262.27 346.79 105.97M115.9 165.71Q256.59 284.89 436.97 312.67M117.97 167.13Q266.31 266.32 380.06 125.5M117.91 167.02Q247.08 257.4 90.11 243.45M153.1 125.46Q261.5 274.79 443.36 250.52M156.21 129.32Q254.78 259.14 87.73 268.97M152.76 125.32Q257.18 261.08 90.85 297.62M152.4 124.38Q279.81 260.3 244.62 443.46" fill="none" stroke="#FF6600" stroke-opacity="0.42" stroke-width="0.55"/>
<path d="M170.64 111.46Q256.66 276.71 438.36 313.4M173.3 116.15Q266.47 259.15 387.71 131.22M171.46 112.99Q259.55 261.48 94.47 297.02M170.97 112.52Q280.52 261.83 226.45 439.56M171.61 113.59Q284.12 258.88 269.94 443.58M171.54 112.86Q257.13 259.53 87.37 268.84M170.15 111.76Q259.71 274.64 441.35 278.76M171.58 112.97Q263.76 250.13 308.99 92.29M171.1 112.55Q261.68 262.74 99.94 319.04M171.97 114.23Q286.08 256.46 298.59 438.43M172 114.55Q284.08 258.9 269.64 443.56M171.14 112.01Q282.72 260.25 251.37 442.81M170.74 111.33Q257.15 259.53 87.38 268.89M174.04 116.98Q282.12 260.72 244.53 440.7M173.39 115.68Q264.04 250.59 314.6 91.08M188 104.19Q262.92 269.93 444.98 243.4M188.62 105.84Q266.78 254.91 369.64 118.97M188.32 105.31Q266.95 256.23 380.17 125.65M187.9 103.87Q262.46 270.49 445.45 250.23M188.26 104.39Q260.31 272.63 441.56 278.49M189.71 107.58Q260.29 272.65 442.43 278.71M188.32 104.8Q255.54 255.55 92.67 215.36M187.67 103.66Q262.91 269.95 442.98 243.69M187.48 103.57Q259.02 260.06 87.87 268.72M187.51 103.33Q259.04 260.08 85.74 268.87M188.1 105.2Q261.74 244.88 270.17 87.47M187.79 104Q262.92 269.93 441.39 243.66M188.8 105.54Q261.48 262.03 91.06 297.5M188.91 106.28Q279.11 264.06 193.29 428.08M188.44 105.4Q257.22 274.79 435.11 312.34M203.11 95.14Q289.77 257.71 298.22 436.4M204.75 99.44Q260.82 260.8 90.74 269.18M203.2 95.48Q266.94 261.81 420.22 180.97M203.48 96.13Q286.35 261.5 251.28 442.16M203.02 95.17Q284.2 263.07 226.56 439.57M204.08 96.6Q260.83 260.8 86.17 268.99M205 100.42Q266.21 263.83 431.88 197.48M203.85 96.69Q263.62 268.19 445.1 243.41M205.01 99.64Q263.23 262.74 91.31 297.62M203.46 95.88Q285.78 261.97 244.53 440.51M202.96 95.32Q285.77 261.95 244.68 441.15M204.39 97.75Q265.4 264.01 95.96 320.58M203.68 97.37Q266.79 250.43 346.28 106.55M203.72 95.81Q257.29 256.24 93.12 215.27M205.03 100.92Q267.73 256.51 393.74 138.67M203.85 97.73Q266.93 261.82 421 180.49M204.39 98.4Q260.78 260.77 87.25 268.74M204.05 98.04Q260.97 270.94 444.54 278.94M203.97 97.26Q266.8 250.39 346.31 106.26M203.78 96.82Q258.93 258.73 88.56 243.07M203.69 96.82Q263.62 268.2 443.88 243.38M204.16 98.43Q267.81 265.02 106.55 343.02M203.63 97.11Q258.92 258.75 86.87 243.22M204.22 98.56Q257.94 273.05 435.33 312.08M203.4 97.12Q263.62 268.21 439.88 243.61M203.66 96.33Q263.64 268.16 442.25 243.35M250.59 86.98Q272.16 267.77 107.04 342.7M250.59 89.96Q269.53 246.08 345.82 107.5M250.2 86.6Q290.1 264.68 244.49 441.94M250.45 84.94Q258.82 269.61 429.21 330.31M250.57 85.97Q288.55 265.83 226.91 437.5M250.19 85.87Q240.52 267.82 299.12 440.38M250.28 84.56Q290.11 264.71 244.49 441.4M250.41 85.54Q270.46 251.14 387.55 131.39M250.46 87.11Q269.68 257.46 422.48 179.59M250.04 84.61Q286.98 266.67 210.69 434.73M250.5 88.43Q270.47 252.16 393.94 138.43M250.1 84.59Q261.58 258.96 93.1 215.33M250.27 87.11Q263.71 266.61 445.24 278.91M250.14 84.58Q265.13 263.53 86.65 269.19M250.42 86.33Q275.78 268.61 124.89 372.25M250.42 87.44Q259.56 253.54 118.33 167.65M250.25 84.49Q287 266.69 210.9 434.08M250.39 87.12Q267.5 265.44 90.17 297.48M250.2 86.37Q275.74 268.59 123.57 373.03M250.77 87.25Q292.13 262.92 269.6 443.95M250.5 86.96Q239.17 266.78 283.12 440.27M250.74 86.58Q270.48 251.12 387.7 131.24M250.67 87.85Q240.52 267.78 299.08 441.17M250.69 87.36Q259.57 253.52 115.68 165.5M250.41 85.55Q265.15 263.54 87.71 269.16M250.43 86.66Q263.72 266.59 440.28 278.59M250.69 87.89Q261.6 258.98 93.97 215.56M250.67 86.56Q265.19 263.57 85.81 269.55M250.73 91Q287.01 266.67 212.95 428.3M250.5 85.13Q265.91 264.41 444.74 250.2M250.38 86.38Q270.21 248.82 369.59 118.76M250.04 84.52Q260.69 268.71 437.56 312.52M250.13 86.38Q275.7 268.58 123.6 372.59M250.79 86.57Q288.55 265.85 226.59 438.65M250.25 86.89Q261.57 258.95 96.58 216.24M250.65 88.53Q263.71 266.6 440.41 278.77M250.57 87.23Q263.71 266.6 444.58 279.11M270.36 84.8Q290.07 267.29 226.48 438.52M269.71 84.25Q263.09 260.36 97.93 216.52M270.07 85.22Q267.8 262.32 444.03 243.31M269.98 86.23Q291.67 266.12 244.69 442.12M270.12 89.71Q263.13 260.41 93.41 215.26M270.09 88.64Q266.69 264.99 87.81 269.26M270.08 85.04Q262.14 267.16 436.02 312.16M270.08 85.22Q291.66 266.14 244.53 442.24M269.83 86.64Q267.31 262.92 445.27 250.32M269.74 86.1Q258.99 268.58 425.67 342.12M270.08 89.74Q261.75 244.85 186.98 102.36M270.33 85.24Q263.16 260.45 94.45 215.94M270.3 87.11Q262.12 267.16 439.47 313.51M269.99 86.92Q269.1 266.92 89.3 298.25M270 88.42Q240.64 265.27 283.78 443.2M270.19 89.19Q263.14 260.42 94 215.57M269.55 87.08Q286.65 268.91 193.72 426.31M270.37 86.25Q277.33 270.07 127.77 369.93M269.71 87.35Q271.8 248.63 379.9 125.88M270.15 84.92Q261.1 254.97 117.52 166.9M270.21 83.92Q290.08 267.26 226.39 440.13M270.12 85.38Q277.31 270.05 124.73 372.24M270.01 86.45Q241.97 266.27 298.81 438.68M270.16 86.21Q269.11 266.93 93.7 297.4M270.31 84.49Q263.15 260.44 92.95 215.47M270.31 84.4Q267.34 262.88 444 250.36M270 85.77Q290.06 267.25 227.2 436.26M269.69 88.09Q261.08 254.97 115.34 165.75M270.09 85.2Q264.83 262.95 88.56 243.61M270.09 86.44Q261.18 246.8 170.48 111.91M270.09 86.84Q290.08 267.26 226.57 439.28M269.98 86.52Q271.9 249.61 383.47 135.93M270.06 84.73Q241.97 266.26 299.1 440.6M270.06 86.41Q267.32 262.91 443.8 250.51M269.85 85.85Q258.94 268.59 427.25 343.45M270.1 85.44Q266.66 264.96 86.12 269M270.01 86.37Q262.11 267.17 434.99 312.12M270.08 85.29Q286.68 268.96 193.74 426.05M270.08 86.96Q271.91 249.65 388.11 131.51M269.93 87.36Q263.13 260.42 94.72 215.99M270.05 89.4Q271.91 249.61 386.29 132.9M270.11 84.27Q269.1 266.92 92.61 297.64M270.14 88.87Q271.13 255.92 419.44 181.42M270.21 86.05Q271 244.55 346.66 106.48M269.91 88.87Q262.12 267.17 438.77 313.09M308.82 93.3Q268.53 262.48 442.93 278.91M308.5 95.05Q268.58 262.45 443.02 278.48M308.94 92.78Q265.71 263.79 95.12 215.93M309.14 91.94Q262.33 266 426.29 343.13M309.29 92.17Q265.5 264.59 436.96 312.85M309.06 93.09Q269.25 268.36 85.92 268.97M309.15 91.88Q267.37 266.29 87.85 242.98M309.55 90.64Q270.71 260.32 445.23 250.38M308.95 91.83Q276.26 272.57 104.85 343.88M309.4 90.94Q265.01 246.49 204.59 99.25M309.93 90Q241.12 259.68 244.54 441.98M309.64 91.11Q275.33 248 394.09 138.03M309.78 90.47Q291.14 271.53 211.83 431.5M314.67 91.06Q245.82 263.41 299.1 440.88M312.94 96.83Q265.95 264.33 439.31 313.43M314.72 91.11Q241.56 259.41 244.48 441.71M313.79 94.04Q274.97 253.07 421.78 180M314.74 91.09Q240.46 257.85 226.49 440.31M314.44 91.24Q262.85 265.72 427.95 343.26M313.26 96.47Q243.39 261.42 269.79 443.41M314.37 92Q265.98 264.31 437.27 312.58M313.54 95.14Q265.99 264.29 95.36 216.24M314.44 92.95Q275.8 247.72 394.36 137.71M346.72 105.91Q274.63 258.54 443.46 250.5M347.17 105.15Q271.04 272.29 87.55 269.1M346.63 106.44Q274.67 258.51 444.17 250.19M346.67 105.44Q266.8 250.37 203.41 95.4M346.51 106.01Q270.98 244.53 270.06 86.5M346.65 105.97Q271.04 272.28 89.44 269.07M347.08 104.96Q266.27 264.21 425.52 342.46M345.37 109.01Q266.12 252.14 188.38 104.5M345.57 107.51Q267.49 267.7 93.83 215.6M346.79 106.03Q281.7 277.38 122.85 374.02M347.61 103.81Q245.45 258.46 251.47 438.13M347.32 104.49Q269.4 262.81 435.49 312.41M347.6 104.28Q273.45 274.22 91.27 297.59M347.35 104.41Q265.46 262.26 115.86 165.74M347.55 104.31Q269.16 270.22 88.6 243.07M347.81 104.38Q275.61 275.51 95.29 320.67M347.46 104.65Q274.66 258.52 441.73 250.42M346.99 105.56Q273.43 274.22 90.95 297.49M344.6 109.68Q275.09 257.96 444.02 243.37M347.83 103.67Q243.89 256.31 226.74 437.9M347.79 103.65Q269.54 246.07 250.31 84.55M369.31 119.31Q275.23 260.01 441.79 278.55M368.94 119.12Q250.66 260.24 283.81 443.36M370.13 117.8Q270.28 263.05 428.27 329.92M369.41 118.51Q248.15 257.77 250.81 442.58M370.38 117.15Q246.6 255.65 226.93 437.18M369.91 117.82Q248.18 257.8 251.24 442.61M370.34 117.52Q274.1 276.93 88.98 297.9M368.1 120.82Q246.65 255.67 226.99 438.16M370.09 117.48Q272.14 262.13 439.42 313.17M369.89 117.9Q245.74 254.12 211.35 432.46M369.27 118.32Q274.13 276.91 92.39 297.6M376.82 129.87Q278.73 257.67 443.58 250.26M377.41 128.77Q279.15 257.13 444.55 243.55M379.7 126.21Q267.65 254.48 206.04 102.93M379.19 127.05Q271.6 262.88 431.91 331.83M376.82 129.88Q271.88 276.35 86.65 268.98M380.06 125.95Q278.89 280.59 107.89 342.15M379.1 127.03Q276.52 259.86 445.2 279.31M375.42 131.93Q268.36 271.85 92.32 215.36M379.82 126.64Q246.32 252.1 195.25 423.22M380.51 125.23Q249.09 257.06 244.44 442.28M380.46 125.14Q276.54 259.84 443.55 278.77M380.8 125.14Q275.25 246.03 309.48 92.12M386.13 133.2Q277.53 259.79 444.17 279.12M387.58 131.69Q248.99 255.4 227.08 436.83M385.99 133.3Q279 281.6 106.92 343.04M387.6 131.35Q279 281.59 107.88 342.63M387.29 132.24Q280.18 257.08 440.22 244.32M388.11 131.39Q271.39 263.28 420.97 340.19M386.14 132.88Q250.06 256.97 244.19 442.67M385.83 133.47Q247.29 252.05 194.61 424.94M387.74 131.32Q247.29 252.05 193.14 428.29M387.79 131.79Q251.95 259 269.82 442.58M387.69 131.53Q266.48 259.14 171.6 112.86M385.23 134.05Q270.46 251.15 250.43 86.49M385.59 134.14Q247.31 252.01 193.83 425.94M385.97 133.55Q250.56 257.53 251.03 443.3M387.08 132.04Q247.28 252.03 193.25 427.53M386.47 132.47Q280.16 257.04 443.41 243.5M394.16 138.05Q270.11 276.3 90.47 243.53M393.11 139.13Q275.31 248.02 309.85 89.61M393.63 138.27Q279 282.55 106.96 342.85M391.41 140.49Q266.39 268.29 116.09 165.6M392.97 139.26Q275.5 261.86 435.65 312.16M393.14 138.9Q281.16 257.02 441.86 243.6M391.24 140.8Q255.32 260.95 298.66 438.95M391.58 140.55Q281.17 257.01 443.86 243.3M391.53 140.55Q251.06 256.95 244.18 443.12M391.34 140.91Q275.49 261.87 432.54 311.46M394.47 138.04Q266.49 260.17 170.38 111.46M394.03 138.18Q278.51 259.77 441.36 278.87M391.35 140.59Q249.93 255.37 226.69 437.76M393.73 138.65Q275.8 247.75 314.88 91.53M391.92 139.55Q281.12 257.02 444.08 243.35M394.27 137.69Q278.51 259.75 444.73 278.95M423.85 179.02Q265.3 267.82 153.48 126M422.58 179.87Q273.57 285.61 90.25 297.66M418.8 181.83Q283.86 260.57 440.06 278.74M424.43 178.94Q278.43 251.59 347.37 104.86M417.87 182.18Q275.72 286.86 97.69 319.71M424.15 178.87Q266.95 261.79 204.35 98M421.87 180.21Q280.81 262.68 438.86 313.45M423.9 179.42Q278.17 287.94 106.44 342.91M423.38 179.23Q271.16 283.66 86.89 268.94M420.83 180.04Q283.79 260.55 444.09 279.11M419.53 181.04Q256.38 257.75 244.24 443.42M420.42 180.64Q265.7 265.45 173.79 116.83M423.82 179.3Q258.25 259.79 269.78 441.35M421.77 180.35Q253.62 252.81 193.11 427.71M432.41 197.37Q254.53 244.15 125.15 371.86M430.97 197.85Q264.96 267.48 170.69 111.49M429.35 198.5Q279.69 264.8 426.16 342.9M429.63 198.61Q280.94 264.34 431.6 331.91M432.65 197.18Q268.56 283.63 88.48 243.02M431.97 197.57Q262.72 262.51 298.72 437.45M432.99 197.09Q275.83 265.69 406.74 374.29M432.09 197.1Q277.68 253.57 347.48 103.76M431.63 198.06Q265.49 265.62 186.82 102.25M425.52 200.07Q268.96 259.48 250.58 86.33M433.27 196.78Q265.52 265.54 187.05 102.06M444.96 243.41Q275.08 257.97 347.67 103.69M444.9 243.72Q277.79 257.33 367.36 121.47M441.44 243.45Q271.17 259.74 309.55 89.22M441.56 243.9Q263.26 261.65 251.1 442.03M439.92 243.77Q265.99 288 92.85 243.69M442.02 243.68Q266.36 263.86 250.36 85.29M442.38 243.68Q280.19 268.29 407.01 374.66M443.69 243.46Q262.92 269.95 189.32 107.35M443.93 243.48Q263.23 261.62 250.78 442.72M444.46 243.25Q275.11 257.95 346.76 105.7M443.29 243.56Q262.92 269.94 187.78 103.84M443.34 243.3Q267.05 265.07 298.94 439.26M445.08 243.12Q259.98 256.14 193.62 427.08M442.14 243.6Q280.19 257.04 384.89 134.54M444.48 243.25Q259.72 243.14 108.12 342.42M443.78 243.34Q262.01 238.53 93.82 297.39M445.22 243.24Q265.72 264.08 283.64 442.99M441.92 243.52Q260.75 240.67 98.54 319.75M440.79 243.99Q262.27 280.09 118.61 167.75M441.56 243.62Q280.17 257.04 386.69 132.21M443.94 243.29Q262.92 269.95 187.76 104.56M439.24 243.95Q262.8 261.09 244.8 440.13M440.94 243.69Q260.8 257.96 212.42 429.09M442.9 243.59Q262.82 261.11 244.84 441.13M442.07 250.29Q278.74 257.66 380.71 125.29M444.54 250.32Q263.14 268.78 203.7 96.97M442.61 250.2Q265.16 263.54 269.61 438.36M443.9 250.06Q262.48 270.47 188.02 104.23M444.21 250.45Q261.39 258.45 210.76 434.45M441.8 250.65Q280.8 268.75 404.25 372.08M441.36 250.63Q265.89 264.44 250.52 86.98M441.41 250.48Q265.52 288.58 87.49 243.14M444.71 250.04Q267.39 290.6 86.53 268.95M441.2 250.45Q260.56 256.6 194.51 424.94M443.58 250.46Q285.93 267.37 433.37 331.87M442.44 250.17Q263.86 286.06 92.47 215.23M445.59 250.42Q284.68 267.86 427.56 343.17M441.08 250.8Q263.41 261.59 244.9 440.54M445.51 250.17Q260.56 256.6 193.32 427.54M444.94 250.25Q262.46 270.5 187.54 103.33M445.5 250.03Q267.35 262.87 270.18 84.11M444.82 250.27Q277.39 257.86 369.61 119M445.49 249.87Q265.91 264.4 250.36 85.64M445.87 250.48Q278.69 257.71 377.32 129.11M440.07 250.4Q261.3 241.16 98.06 320.16M443.36 250.2Q263.86 286.07 93.26 215.56M445.7 250.08Q274.66 258.51 347.7 104.32M443.61 278.88Q268.54 262.48 309.45 90.61M444.56 278.75Q260.99 270.92 203.15 95.34M444.66 279.01Q259.34 276.94 152.62 124.9M444.93 278.87Q276.54 259.84 378.41 127.71M439.68 278.82Q266 264.3 251.26 440.32M442.47 278.7Q268.53 262.48 309.56 89.74M444.34 278.75Q264.41 262.15 226.57 440.07M444.98 278.91Q263.73 266.59 250.43 86.02M444.97 279.01Q282.92 270.92 407.45 374.92M443.46 278.85Q264.42 262.16 227.28 436.68M443.51 278.97Q272.47 260.7 345.94 107.61M442.25 278.86Q282.94 270.92 407.42 374.74M443.18 278.88Q266.71 238.75 88.67 269.03M445.32 278.77Q266.7 238.72 85.99 269.01M444.84 278.79Q265.51 263.7 244.15 443.19M444.22 279.37Q261.65 249.43 125.65 371.68M443.08 278.66Q261.68 288.22 93.7 215.41M444.98 278.86Q260.99 270.92 203.72 96.7M442.15 278.69Q272.51 260.68 347.58 104.88M441.85 278.68Q269.81 267.73 299.23 440.12M440.69 278.4Q272.5 260.67 346.59 106.35M442.82 278.9Q275.19 260.03 369.02 119.35M439.94 278.33Q268.57 262.46 309.46 91.15M445.49 279.12Q266.73 238.74 89.91 268.82M443.9 278.97Q260.98 270.93 203.66 96.46M441.46 278.77Q260.98 270.92 204.26 97.91M439.38 313.39Q272.13 262.14 368.6 119.67M439.65 313.51Q269.39 262.82 347.39 103.97M432.74 311.6Q270.55 269.75 283.25 442.44M436.17 312.5Q256.68 276.72 170.36 111.5M437.84 312.59Q268.07 267.28 251.08 441.69M436.76 312.69Q260.68 268.7 250.55 86.53M438.72 312.93Q265.52 264.58 309.69 90M435.1 312.16Q273.37 238.25 98.76 216.97M439.19 312.9Q266.51 265.16 226.52 439.79M436.87 312.62Q257.94 273.03 203.39 95.6M439.03 313.5Q268.85 241.79 87.19 268.81M436.47 312.43Q266.87 244.2 89.24 298.1M437.55 312.59Q275.5 261.85 393.55 138.62M436.22 312.62Q268.85 241.78 87.76 268.79M439.13 313.33Q266.9 244.17 91.33 297.23M437.41 313.08Q268.1 267.34 251.17 441.15M436.76 312.37Q269.45 268.76 269.78 443.43M438.72 313.22Q267.65 266.79 244.59 442.04M433.99 312.03Q269.47 268.8 269.78 442.26M436.86 312.78Q257.92 273.05 203.95 97.4M437.4 312.65Q257.94 273.04 203.04 95.2M438.68 313.21Q280.84 262.68 424.74 178.87M433.99 311.82Q265.52 264.58 309.68 90.82M439.11 313.31Q275.48 261.87 394.35 137.81M437.23 312.95Q256.28 279.06 152.23 124.45M435.64 312.49Q262.09 267.19 269.82 90.6M439.54 312.83Q269.45 262.78 347.42 103.89M439.08 313.27Q271.91 270.77 299.21 440.58M438.71 313.46Q263.75 252.43 123.68 372.8M436.91 312.58Q262.13 267.16 270.19 84.85M438.77 313.05Q257.24 274.8 187.33 103.66M433 331.95Q280.96 264.31 433.08 196.96M428.56 330.47Q269.01 269.21 250.99 441.16M431.28 331.33Q260.23 268.09 270.09 85.47M430.25 331Q274.29 240.14 97.65 216.69M430.43 331.45Q267.48 263.75 346.98 105.01M429.31 330.91Q272.61 262.82 386.77 132.75M430.96 331.21Q256.05 273.96 204.65 99.26M432.98 332.05Q267.81 246.07 89.41 297.82M431.48 330.92Q274.24 240.1 92.28 215.47M429.78 330.68Q272.83 272.65 299.19 440.64M428.71 330.33Q268.58 268.68 245.28 437.14M430.78 331.28Q256.04 273.97 204.77 99.68M429.99 331.25Q263.57 265.53 308.33 95.16M432.94 332.28Q285.9 267.41 438.21 251.15M431.16 331.44Q272.84 272.66 298.38 436.53M431.06 331.64Q269.03 269.24 251.1 442.18M432.76 332Q267.54 263.73 347.29 104.85M431.6 331.23Q278.98 263.59 419.98 181.42M425.98 342.41Q254.83 274.41 203.68 96.11M427.31 342.97Q271.35 263.28 386.78 131.84M423.13 341.12Q257.56 270.09 250.43 85.4M427.79 343.51Q271.97 272.89 283.57 442.5M425.84 342.21Q266.33 264.19 347.41 104.75M422.08 341.04Q266.26 265.01 194.03 426.44M428.01 343.42Q284.07 267.36 442.88 243.25M427.42 343.46Q266.24 264.96 194.35 425.18M427.11 343.12Q274.79 241.37 94.97 215.72M427.86 343.83Q258.95 268.58 269.94 87.8M407.76 375.26Q265.11 264.43 369.88 117.98M405.6 373.46Q253.67 270.99 250.73 88.34M407.58 374.64Q249.7 279.01 170.99 112.53M407.82 375.12Q281.1 243.23 116.12 166.09M408 375.17Q282.93 270.91 444.16 278.86M407.48 374.79Q272.84 276.75 283.31 441.73M407.88 375.17Q281.13 243.22 115.8 165.56M406.58 374.69Q275.68 245.29 94.9 215.73M405.02 372.85Q280.79 268.76 440.13 250.81M407.62 374.79Q259.01 266.59 313.48 96.64M407.32 374.82Q249.28 281.34 152.69 124.96M403.64 371.96Q282.92 270.92 441.32 278.64M299.41 441.09Q265.97 264.34 89.67 298.07M299.22 439.72Q288.04 256.98 187.73 104.06M299.03 440.26Q269.78 267.71 443.34 278.71M298.75 440.07Q255.27 260.94 393.52 138.12M298.85 440.32Q263.92 281.98 193.05 428.06M298.8 440.31Q269.78 267.71 443.79 278.98M299.08 438.48Q254.4 261 387.37 131.94M298.86 441.38Q263.92 282.02 193.81 426.97M298.85 440.18Q272.48 258.39 94.9 215.58M298.75 440.43Q265.94 264.38 92.4 297.5M298.89 439.06Q245.35 263.69 309.67 89.57M298.89 438.7Q263.93 281.94 193.08 427.7M298.98 441.56Q265.95 264.38 89.74 298M298.99 441.05Q267.03 265.06 443.04 243.33M299.04 441.23Q251.99 261.21 370.27 117.66M299.31 440Q242.02 266.26 270.33 85.87M299.03 441.7Q241.94 266.24 270.01 88.79M298.86 439.71Q263.66 268.98 105.17 343.88M298.07 437.59Q269.74 267.68 442.56 278.68M299.39 441.52Q245.36 263.69 309.42 91.01M298.24 438.93Q264.72 283.86 210.8 434.68M298.7 440.04Q241.93 266.25 269.95 86.96M298.96 440.35Q267.07 265.09 444.99 243.57M299.5 441.45Q241.97 266.29 269.87 86.37M298.9 440.79Q254.34 260.96 384.21 135.28M298.06 436.97Q245.79 263.39 314.12 92.91M298.93 439.63Q263.93 281.96 192.66 428.74M298.29 436.1Q289.77 257.69 203.09 95.33M298.44 438.64Q267.02 265.05 444.2 243.2M298.71 440.13Q267.63 265.55 445.37 250.51M298.85 440Q273.28 273.86 427.55 343.11M298.53 438Q267.04 265.07 444.55 243.23M299.11 440.77Q249.25 261.9 346.6 105.48M298.94 440.44Q269.8 267.73 440.28 278.83M283.04 440.37Q247.89 260.88 345.74 107.38M283.18 441.33Q262.64 270.35 106.97 343.16M282.67 435.84Q239.16 266.79 250.2 84.98M283.49 440.62Q247.92 260.91 346.48 105.62M283.34 440.11Q271.46 259.73 94.48 215.8M283.68 442.68Q254.02 259.96 391.53 140.79M283.44 442.62Q262.91 283.29 192.94 427.71M283.37 443.41Q270.54 269.73 438.87 313.1M284.03 442.77Q268.48 266.73 444.59 278.77M283.37 443.02Q265.7 264.06 441.46 243.65M283.71 443.7Q262.66 270.32 105.83 343.64M283.94 442.51Q288.81 259.01 204.23 97.88M283 438.96Q270.53 269.71 436.87 312.31M283.64 443.49Q240.64 265.25 270.21 84.72M283.65 443.27Q240.61 265.28 269.77 85.47M283.74 443.28Q240.63 265.27 269.99 84.05M283.19 441.34Q244.01 262.65 309.92 89.93M283.43 442.91Q271.96 272.91 427.82 343.81M283.57 441.7Q268.45 266.7 442.81 278.6M269.84 439.43Q258.2 259.77 423.05 179.02M270.07 444.14Q271.77 275.79 406.28 373.74M269.81 440.07Q264.6 263.08 444.61 242.96M270.09 444.01Q270.42 270.72 429.06 330.76M269.61 442.72Q269.46 268.79 439.15 313.51M269.65 442.28Q265.92 264.38 88.22 268.97M269.61 441.99Q242.9 261.68 309.54 90.78M269.75 441.6Q262.71 268.96 96.71 320.39M269.41 436.39Q286.01 259.46 188.43 105.75M269.54 440.89Q260.23 260.49 432.11 197.37M269.8 442.68Q292.14 262.89 250.58 86.19M269.82 443.8Q264.62 263.1 445.06 243.33M269.84 444.55Q292.12 262.87 250.25 85.36M269.95 442.44Q250.91 259.08 380.35 125.26M270.06 443.25Q250.91 259.09 377.65 128.51M251.37 438.75Q274.46 260.18 116.26 166.14M251.19 442.94Q274.48 260.16 120.33 168.69M250.95 441.52Q268.08 267.31 439.1 313.35M251.21 440.49Q286.34 261.52 204.83 99.49M251.16 442.53Q245.46 258.46 345.41 108.3M251.59 439.27Q284.63 260.81 187.7 103.4M251.02 441.65Q245.43 258.45 347.58 103.71M250.86 443.96Q263.24 261.63 440.45 243.76M251.44 437.25Q248.18 257.78 369.45 118.71M250.82 441.27Q269.47 270.43 425.98 342.63M251.14 437.11Q268.06 267.29 438.84 313.2M250.96 443.64Q262.5 268.19 88.99 298.44M250.82 441.48Q260.21 272.78 106.89 342.63M251.13 440.26Q256.85 258.31 419.47 181.43M250.97 439.77Q261.22 270.35 98.73 319.75M250.81 443.91Q269.04 262.2 92.5 214.86M251.52 437.48Q264.47 265.75 86.91 269.09M250.84 443.18Q269.48 270.46 426.04 342.84M251.18 441.44Q274.5 260.17 115.36 165.15M244.23 442.66Q244.97 257.9 345.94 106.58M244.73 443.34Q268.53 262.61 95.53 215.78M244.7 440.09Q265.55 263.75 443.57 279.1M244.83 438.5Q245.03 257.89 347.03 105.74M244.69 440.63Q265.52 263.71 442.87 278.57M244.75 441.68Q241.57 259.44 313.92 93.28M244.42 441.77Q273.91 260.63 122.01 169.87M244.84 441.35Q284.06 261.24 187.65 103.75M244.18 442.75Q268.46 262.66 95.54 215.97M244.72 438.75Q290.1 264.71 250.31 85.05M244.45 442.81Q265.54 263.73 443.52 278.87M244.51 441.41Q291.66 266.15 270.13 85.54M244.51 441.53Q273.93 260.62 119.21 167.83M244.83 443.02Q266 264.3 92.18 243.76M244.27 441.72Q284.02 261.28 187.26 102.9M245.08 437.76Q249.1 257.06 379.63 126.46M244.09 443.01Q291.64 266.16 270.1 87.14M244.6 440.47Q273.93 260.62 117.27 166.53M244.63 441.48Q263.36 261.55 444.04 250.14M244.71 440.09Q259.66 273.27 105.3 344.18M244.96 436.73Q291.64 266.15 269.97 88.38M244.5 441.23Q267.63 266.75 439.1 313.13M244.25 442.1Q285.77 261.98 204.79 99.57M227.44 434.94Q266.52 265.18 435.24 312.15M226.7 439.72Q258.12 274.33 105.46 343.66M227.21 436.84Q257.26 277.95 126.17 371.24M226.13 440.06Q249.89 255.36 392.8 138.66M226.23 439.96Q248.97 255.39 387.37 131.8M227.35 435.8Q249.94 255.39 393.68 138.19M226.65 438.67Q243.9 256.32 347.24 104.82M227.11 436.9Q240.01 258.09 309.42 92.69M226.68 440.12Q240.02 258.12 309.07 93.65M226.67 439.63Q259.15 271.86 97.61 319.86M227.15 435.28Q282.43 262.4 188.4 105.36M227.11 437.73Q264.43 262.17 443.89 278.96M227.08 436.69Q239.97 258.1 308.79 93.49M227.61 435.13Q248.02 255.48 380.07 126.33M227.03 436.63Q266.88 263.77 95 215.85M211.75 430.5Q245.76 254.09 367.57 121.8M210.36 435.15Q262.84 266.32 93.08 243.65M211.45 432.6Q267.08 266.85 426.45 343.39M211.61 432.1Q279.02 262.7 171.7 113.21M210.33 434.93Q262.84 266.32 87.96 243.01M210.61 434.58Q266.57 265.53 432.18 331.69M210.34 435.35Q256.55 275.22 105.48 343.59M210.7 434.13Q280.91 263.26 187.69 103.93M211.12 433.93Q257.62 272.73 97.24 319.93M210.87 434.23Q278.99 262.7 173.36 116.36M211.56 431.62Q256.44 255.37 432.91 197.09M211.46 431.72Q286.97 266.68 250.23 86.49M210.7 433.38Q261.34 258.39 444.73 250.03M210.76 434.19Q243.04 254.78 345.67 108.18M210.43 435Q266.57 265.52 429.5 330.57M210.65 435.29Q288.55 268.12 270.01 87.97M211.13 433.99Q261.39 258.46 445.94 250.15M193.27 427.77Q260.02 256.16 441.44 243.99M194.32 425.58Q258.99 268.99 90.45 268.84M194.37 425.4Q264.85 261.84 438.87 313.3M194.33 425.82Q260.58 256.64 443.11 250.5M193.16 428.1Q260.55 256.6 439.34 250.49M193.45 426.97Q259.97 256.11 441.03 243.47M193.87 425.81Q286.7 268.98 270.27 88.19M193.34 426.85Q286.69 268.97 270.16 89.88M194.23 426.14Q255.77 273.59 95.75 320.96M193.18 427.88Q255.76 273.56 96.84 320.18M192.58 428.97Q247.29 252.03 387.77 131.37M193.49 427.79Q280.89 264.77 203.69 95.8M193.3 427.25Q266.23 264.94 419.98 339.63M193.37 427.34Q279.09 264.07 187.61 103.65M193.53 427.71Q257.05 271.41 90.21 297.94M193.96 426.32Q263.92 282 299.01 441.29M193.03 428.54Q262.74 258.8 445.64 279.22M193.43 427.59Q262.95 283.29 283.83 442.15M193.42 427.5Q289.3 272.34 309.3 92.18M193.65 426.06Q260.56 256.58 444.23 250.35M194 426.53Q285.18 267.49 250.21 84.64M192.84 428.56Q286.69 268.93 269.87 86.49M192.55 429.16Q257.04 271.38 90.69 297.36M194.61 424.96Q286.73 268.96 270.24 85.65M193.77 426.72Q260.59 256.63 445.62 250.48M193.77 425.88Q255.62 253.52 433.39 196.93M193.16 427.39Q255.75 273.56 94.95 320.67M193.48 427.39Q266.24 264.95 426.92 342.95M192.74 427.92Q258.96 268.99 89.77 268.65M192.94 429.28Q263.94 282.02 299.07 441.21M193.85 425.99Q259.97 256.11 441.07 243.55M194.33 425.93Q255.78 273.56 95.53 320.7M192.99 428.48Q242.19 252.97 347.04 104.76M193.4 427.62Q286.69 268.92 269.79 84.03M192.98 428.16Q286.7 268.95 270.05 86.77M125.14 372.05Q282.53 281.44 380.64 125.15M124.55 372.21Q282.32 280.06 369.12 118.91M122.67 373.58Q277.29 270.05 270.06 86.99M125.92 371.2Q261.62 249.36 437.82 278.29M126.21 371.03Q264.66 254.31 433.18 332.23M124.77 372.02Q263.73 252.38 435.83 312.1M106.53 343.14Q265.98 251.97 427.87 343.66M104.99 343.73Q273.67 269.18 269.69 88.27M106.05 343.47Q260.3 243.62 438.29 250.81M106.83 343.06Q254.7 276.05 193.61 426.25M106.86 342.74Q259.74 243.12 442.21 243.59M104.39 343.85Q260.24 272.75 251.13 443.12M108.18 342.45Q250.55 265.72 95.33 215.8M106.35 343.28Q248.02 267.4 92.39 243.75M110.35 341.35Q262.47 245.8 444.55 279.14M106.49 343.28Q258.11 274.35 226.68 439.79M105.92 343.4Q261.68 271.42 269.7 443.83M105.63 344.07Q278.25 287.92 420.07 181M108.24 341.91Q273.66 269.18 269.92 84.31M104.38 344.3Q278.75 279.25 369.79 118.27M105.72 343.49Q273.7 269.2 269.96 87.38M108.23 342.47Q260.21 272.81 250.91 442.75M104.79 343.92Q261.8 263.39 153.63 126.45M99.47 319.19Q263.52 243.31 443.96 279.06M99.21 319.66Q267 249.51 427.43 343.28M96.19 320.33Q271.25 268.19 270.27 87.18M99.02 319.62Q276.47 279.6 380.68 125.62M100.31 319.25Q265.34 263.99 202.87 95.7M95.36 320.82Q259.15 271.87 227.15 437.99M94.65 320.91Q269.72 266.75 250.66 86.47M98.01 319.81Q260.76 240.66 443.72 243.33M95.53 320.84Q259.36 262.37 152.14 124.43M98.72 319.45Q259.15 271.86 227.07 437.67M94.74 321.21Q261.24 270.34 250.99 443.4M97.32 320.02Q261.73 262.75 171.68 112.8M90.47 297.43Q257.04 271.38 193.07 427.95M88.81 297.99Q272.84 287.63 431.23 197.78M96.95 296.38Q274.1 276.92 367.74 120.87M90.99 297.72Q274.12 276.94 370.36 117.33M89.3 298.28Q262.5 268.19 251.36 437.8M88.76 298.07Q271.92 270.75 314.23 92.02M93.84 297.25Q259.56 261.49 171.71 113.4M90.09 298.18Q245.94 263.43 95.61 215.9M88.73 297.75Q263.18 262.71 205 100.27M95.22 297.04Q265.94 264.38 298.3 437.6M93.84 297.24Q259.58 261.49 171.06 111.94M93.19 297.27Q247.65 272.52 125.61 371.88M93.12 297.3Q269.09 266.91 270.09 86.76M93.13 297.09Q265.97 264.34 298.93 440.28M89.57 298.1Q257.01 271.43 193.2 427.7M92.63 297.43Q261.47 262.03 187.14 102.87M89 298.32Q262.53 268.16 251.75 437.13M90.73 297.8Q269.08 266.91 270.02 84.36M91.78 297.66Q264.74 241.15 441.3 278.45M92.21 297.3Q262.53 268.15 250.96 442.86M88.97 297.9Q262.6 238.96 444.45 250.12M86.77 269.01Q266.71 238.74 441.76 278.72M87.53 268.73Q248.89 259.43 116.92 166.76M88.51 268.57Q265.1 263.49 250.71 89.91M86.42 269.04Q271.97 278.35 394.57 137.89M89.73 268.92Q267.92 261.93 299.26 441.38M86.35 268.86Q266.93 263.25 283.75 443.42M88.13 269Q271.04 272.28 346.01 107.49M89.89 268.8Q270.44 285.66 431.8 197.31M89.22 268.94Q260.84 260.8 205.13 99.31M87.28 268.98Q266.67 264.97 270.13 88M87.31 268.92Q271.16 283.65 422.81 179.48M86.95 269.01Q257.13 259.53 173.09 115.67M89.14 269.02Q270.2 244.89 425.36 341.94M87.38 269.22Q269.28 268.39 309.25 92.63M86.51 268.73Q263.94 266.17 244.44 442.39M86.82 269.16Q266.87 263.32 282.91 440.89M89.88 268.94Q260.79 260.78 204.07 97.96M86.81 268.98Q271.95 277.38 387.36 132.27M86.54 269.04Q270.23 244.95 426.61 343.3M85.62 269.13Q271.96 277.37 386.53 132.87M85.77 268.92Q264.47 265.75 251.09 440.29M87.11 268.92Q260.8 260.78 204.55 98.58M85.68 268.81Q260.75 260.75 202.99 95.71M88.24 269.01Q265.15 263.54 250.53 85.44M87.53 269.01Q266.9 263.28 283.43 442.61M92.58 268.75Q254.79 259.14 153.74 126.05M85.69 269.13Q265.13 263.53 250.56 88.4M86.8 269.06Q260.79 268.19 211.67 431.23M89.75 243.42Q265.52 288.59 442.01 250.46M93.03 243.75Q269.17 270.25 347.54 104.67M90.22 243.1Q269.29 281.59 424.03 178.87M90.64 243.46Q266.5 263.89 251.02 441.13M88.67 243.1Q269.29 281.63 423.48 179.41M90.88 243.57Q272.26 243.05 426.34 342.71M87.44 243.16Q269.92 260.12 298.56 440.74M90.92 243.58Q267.97 262.51 269.81 443.96M88.84 243.24Q267.65 266.76 314.21 92.13M88.63 243.54Q261 267.15 193.37 427.61M89.27 243.1Q272.28 243.04 427.83 343.5M90.53 243.25Q251.65 268.22 122.68 373.96M98.27 217.06Q263.14 260.44 270.03 88.76M95.31 215.76Q258.62 290.33 436.43 312.46M94.1 215.55Q264.29 285.51 438.53 244.21M94.25 215.68Q266.9 281.15 432.13 197.55M93.51 215.36Q268.47 262.66 244.58 440.06M92.87 215.28Q266.87 263.78 226.24 439.57M99.29 217.4Q271.45 259.72 283.74 441.65M96.98 216.64Q274.75 241.38 428.03 343.5M93.3 215.45Q261.66 288.25 444.99 279.17M94.19 215.99Q263.87 286.1 442.17 250.38M92.49 214.96Q269.05 262.19 251.2 442.37M96.44 216.4Q261.67 288.25 443.16 278.96M95.26 216.24Q264.33 285.52 442.41 243.47M94.29 215.72Q268.49 262.64 244.78 441.67M94.68 215.99Q261.68 288.25 441.67 278.72M95.79 216.41Q268.18 270.5 368.17 120.94M96.02 216.34Q257.3 256.26 204.21 96.98M94.28 215.53Q261.64 288.24 440.45 278.86M92.71 215.04Q251.25 254.58 152.8 124.88M97.77 216.89Q261.59 258.98 250.35 86.92M94.96 215.9Q261.67 288.24 445.33 279.08M92.65 215.36Q274.77 241.4 423.51 341.58M94.74 215.32Q266.88 281.1 431.05 197.86M93.05 215.23Q258.66 290.32 436.08 312M94.11 215.86Q261.7 288.25 445.04 278.82M94.33 216.04Q268.43 272.84 387.75 131.58M95.68 215.92Q251.25 254.58 153.49 125.86M92.55 214.96Q266.95 263.73 227.04 438.95M94.02 215.69Q266.87 263.78 226.51 438.98M93.97 215.49Q267.48 267.67 345.16 108.15M96.87 216.43Q266.9 281.15 428.2 199.06M93.54 215.67Q263.14 260.43 270.03 85.54M95.14 216.1Q264.33 285.5 442.25 243.4M95.11 215.55Q268.39 272.77 387.34 131.87M97.36 216.66Q266.88 263.78 226.72 438.37M97.83 216.87Q275.65 245.25 406.83 374.14M95 216.21Q245.89 263.45 89.08 298.31M116.28 166Q253.5 262.65 95.37 320.6M118.04 166.96Q274.48 260.18 250.94 443M116.39 166.08Q277.91 256.37 298.62 438.28M118.33 167.33Q261.1 254.96 270.11 84.85M118.2 166.81Q261.09 254.92 270.08 84.74M117.35 166.78Q276.91 257.7 283.6 443.18M117.85 166.84Q261.07 254.93 269.78 87.94M115.65 165.64Q268.94 263.44 192.95 427.67M117.15 166.46Q253.51 262.65 94.95 320.7M115.8 165.84Q281.1 243.22 408.09 375.21M117.01 166.06Q262.24 280.05 443.89 243.86M116.9 166.21Q265.46 262.27 348.01 103.64M118.9 167.71Q265.61 273.62 424.1 178.38M154.63 127.7Q279.75 260.32 244.43 442.59M154.1 126.35Q265.15 256.36 346.2 106.12M152.33 124.27Q256.31 279.03 437 312.57M153.23 125.56Q276.64 262.32 210.06 435.82M153.2 125.19Q279.78 260.34 244.28 441.6M153.13 125.47Q261.96 274.22 443.12 243.74M154.85 127.51Q278.2 261.44 226.49 439.68M154.73 126.79Q266.02 260.48 375.67 131.58" fill="none" stroke="#FF6600" stroke-opacity="0.42" stroke-width="0.55"/>
<path d="M171.75 113.51Q267.76 264.62 124.96 372.04M170.36 111.56Q280.51 261.83 226.29 439.93M170.25 111.48Q264.04 250.66 314.61 91.79M172.14 113.7Q256.69 276.68 438.53 313.14M171.63 113.07Q261.21 246.78 270.33 85.86M170.8 111.86Q259.53 261.47 89.06 297.87M171.68 113.03Q261.71 262.75 98.12 319.69M171.67 112.7Q264.2 263.79 106.54 343.11M170.54 111.46Q257.13 259.53 86.29 269M170.5 111.52Q266.49 260.13 391.72 140.37M173.59 115.93Q265.57 254.07 346.67 106.41M170.95 112.37Q266.22 256.8 367.61 121.12M170.51 111.79Q262.38 271.85 440.75 243.5M171.16 113.49Q261.19 246.83 270.21 86.52M170.27 111.32Q256.67 276.72 438.62 313.26M171.15 112.34Q264.15 263.77 104.69 343.7M170.52 111.58Q253.54 278.11 426.64 343.02M171.89 113.44Q280.53 261.84 227.62 433.79M172.25 114.12Q256.71 276.69 433.96 311.6M170.38 111.35Q266.4 258.16 380.43 125.52M172.86 115.16Q259.64 245.31 250.51 89.11M174.52 118.27Q253.6 278.11 428.05 343M187.46 102.95Q266.78 254.88 367.65 121.62M187.41 102.79Q250.24 277.05 406.91 374.37M187.44 103.57Q286.99 258.38 282.8 439.45M188.23 105.75Q284.53 260.82 251.06 439.99M187.45 103.4Q286.02 259.47 269.47 444.61M189.08 106.98Q279.07 264.07 193.73 426.54M187 102.33Q257.19 258.04 87.16 243.02M188.03 103.96Q266.96 256.23 378.21 128.42M188.01 104.84Q260.3 272.67 442.67 278.56M188.1 104.03Q263.63 263.3 94.73 320.71M187.96 103.64Q259.08 260.09 87.41 268.88M186.55 102.25Q261.41 262 91.16 297.35M203.44 96.56Q263.63 268.19 445.01 242.98M204.55 98.26Q257.94 273.02 437.51 312.94M203.17 95.62Q257.91 273.06 438.23 313.2M203.44 95.72Q286.35 261.51 251.08 443.62M204.46 98.17Q288.78 259.06 283.49 443.51M203.32 95.17Q250.95 275.31 406.99 374.29M204 97.45Q257.27 256.25 92.5 215.38M203.39 96.43Q271.44 265.86 126.1 371.48M204.49 98.58Q285.8 261.96 244.81 439.93M202.79 95.58Q267.7 255.54 386.79 132.52M203.22 95.98Q265.02 246.53 309.23 92.7M203.73 96.8Q266.94 261.79 421.85 179.91M203.35 96.18Q285.75 261.97 244.24 441.84M202.91 95.2Q257.91 273.07 437.07 312.92M203.41 96.01Q263.6 268.22 445.23 243.53M203.41 96.04Q271.46 265.87 129.64 368.79M205.3 100.05Q263.15 268.75 442.48 250.68M203.6 96.98Q286.32 261.5 251.04 443.6M203.87 97.03Q266.21 263.83 431.86 197.62M204.3 99.09Q285.74 261.96 244.25 442.01M203.72 96.64Q266.8 250.41 347.05 105.25M204.14 97.79Q266.81 250.43 347.55 104.65M204.33 98.74Q263.14 268.78 445.16 250.33M203.04 95.21Q263.14 268.78 445.71 250.23M204.09 98.01Q267.47 253.14 369.44 118.7M203.89 96.73Q284.19 263.1 226.43 438.61M203.81 97.47Q280.79 264.77 197.15 418.21M202.96 95.24Q287.75 260.16 269.45 440.82M205 99.4Q263.16 268.74 441.25 250.52M204.34 98.8Q285.76 261.97 244.28 442.09M250.08 85.68Q257.52 270.13 424.69 341.95M251.01 92.48Q240.52 267.79 298.94 440.43M250.6 85.93Q263.74 266.57 442.55 278.7M250.31 84.71Q269.68 257.48 424.18 178.95M250.76 85Q265.97 264.33 443.22 249.61M250.54 87.25Q267.52 265.45 89.44 297.61M250.4 86.25Q265.13 263.52 85.6 269.05M250.55 86.34Q263.28 261.49 89.79 243.36M250.48 86.61Q267.54 265.46 91.38 297.52M250.69 88.42Q275.74 268.61 124.2 372.28M250.57 89.93Q265.9 264.42 439.8 250.41M250.71 90.51Q261.59 258.98 95.72 216.2M250.73 89Q270.4 250.16 378.29 128.12M250.28 85.86Q260.68 268.71 437.93 312.81M250.22 86.76Q286.99 266.67 211.17 433.57M250.7 88.48Q290.65 264.27 251.04 440.34M250.31 84.93Q290.69 264.24 251.34 442M250.52 85.7Q290.15 264.69 244.61 443.08M250.57 89.42Q240.51 267.8 298.68 438.93M250.09 86.22Q275.79 268.59 125.97 371.89M250.82 87.36Q290.67 264.29 250.88 442.11M250.4 85.62Q269.55 246.08 347.95 103.66M250.63 86.85Q267.56 265.48 90.66 297.79M250.7 87.85Q290.15 264.7 244.8 441.16M250.76 89.72Q270.46 251.16 387.64 131.55M250.58 89.37Q263.69 266.62 441.37 279M250.5 89.52Q261.58 258.97 94.07 215.73M269.87 86.86Q267.32 262.9 445.13 250.21M270.07 84.84Q269.07 266.9 92.35 297.29M269.95 86.54Q292.18 265.7 250.84 443.51M270.02 87.65Q271.65 247.27 369.44 118.89M270.02 86.83Q271.22 268.16 96.81 320.01M269.85 88.9Q292.16 265.71 251.18 437.29M270.02 84.31Q290.07 267.25 226.51 439.65M270 91.18Q292.23 265.68 251.3 443.26M269.89 84.03Q286.67 268.94 192.54 428.78M270.11 86.12Q269.11 266.93 91.57 297.85M270.21 86.44Q267.34 262.88 444.72 250.29M270.31 84.08Q271 244.54 347.68 104.34M270.43 84.48Q241.98 266.23 298.52 438.46M270.04 85.3Q260.23 268.09 432.59 331.84M269.86 88.61Q239.52 264.29 269.83 443.89M270.4 84.35Q260.82 249.17 154.57 127.74M269.96 86.27Q241.93 266.25 298.37 438.55M269.86 87.35Q271.64 247.27 370.35 117.37M269.58 86.3Q271.08 255.97 424.07 178.96M269.76 85.97Q270.96 244.56 347.49 104.34M269.9 85.68Q290.07 267.24 226.38 440.35M270.42 86.9Q273.77 269.25 106.2 343.7M269.97 86.73Q271.89 249.62 386.26 133.01M270.05 86.5Q277.34 270.06 124.03 373.25M270.09 85.47Q258.97 268.57 423.3 341.39M270.16 86.08Q271.12 255.93 423.4 179.36M270.15 84.91Q263.14 260.43 93.01 215.47M269.71 86.16Q261.16 246.74 172.25 114.23M269.99 84.36Q267.32 262.91 445.5 250.27M309.09 91.79Q270.7 260.33 444.08 250.39M310.23 89.45Q265.51 264.58 436.17 312.72M309.29 91.65Q245.32 263.66 297.97 436.52M308.4 95.43Q265.7 263.78 92.69 214.95M309.31 92.59Q245.37 263.66 298.86 439.8M309.95 89.44Q270.73 260.31 444.15 250.33M309.7 89.93Q242.89 261.68 269.4 437.62M309.54 89.57Q239.97 258.14 226.57 440.36M309.71 89.39Q265.72 263.81 94.69 216.05M313.31 96.11Q271.65 259.47 442.9 243.59M314.26 91.51Q271.6 259.53 445.2 243.74M314.37 91.99Q242.01 259.98 251.45 439.27M314.23 91.95Q262.82 265.73 425.8 342.52M314.7 91.52Q258.96 266.6 405.73 373.64M313.86 95.14Q240.5 257.86 226.95 439.45M314.68 91.14Q245.8 263.39 298.09 436.54M314.73 90.88Q269.51 268.81 88.35 268.89M314.45 92.28Q267.66 266.79 88.78 243.26M314.26 91.56Q265.92 264.35 437.13 313.04M314.98 91.54Q291.44 272.01 211.43 433.2M312.9 97.21Q265.99 264.29 92.29 215.44M313.49 95.63Q240.46 257.84 227.64 435.23M313.98 91.78Q265.92 264.35 439.17 313.37M314.49 91.81Q262.83 265.72 427.6 343.52M314.17 93.81Q271.22 260.02 443.86 250.22M346.63 105.92Q272.45 260.71 439.11 278.69M347.53 104.17Q267.49 267.7 93.85 215.43M347.73 103.98Q267.56 263.72 433.09 331.87M345.3 106.95Q269.15 270.16 88.8 243.35M345.19 108.87Q243.04 254.81 210.65 435.41M346.55 106.19Q245.46 258.44 250.93 442.8M347.58 104Q273.43 274.2 90 297.71M347.66 104.71Q265.46 262.27 115.38 165.03M346.96 105.28Q270.98 244.53 270.12 84.58M347.67 103.92Q246.82 259.9 269.6 442.52M344.96 109.65Q249.26 261.87 298.87 441.12M345.61 108.24Q274.63 258.54 444.65 250.49M347.68 104.24Q266.1 252.18 187.58 103.9M347.87 103.44Q275.12 257.94 443.66 243.16M346.74 105.33Q265.55 254.05 171.84 113.52M346.3 106.95Q266.29 264.2 423.31 341.4M346.53 105.96Q267.5 267.73 96.42 216.52M348.04 104.11Q275.62 275.53 96.35 320.43M347.6 104.12Q267.5 267.73 94.35 215.79M347.32 104.37Q269.54 246.06 250.28 84.84M347.18 105.28Q247.95 260.88 283.24 439.77M348.16 103.96Q278.08 276.56 104.75 343.95M346.22 107.14Q275.13 257.95 444.13 243.28M347.02 105.47Q266.81 250.41 203.75 96.65M347.09 105.34Q275.59 275.49 98.52 319.5M345.59 108.5Q262.44 265.09 406.82 374.31M347.14 105.89Q269.45 262.8 435.15 312.34M346.72 106.34Q272.48 260.69 445.55 279.13M347.6 104.87Q267.56 263.72 432.26 331.9M346.74 105.56Q266.29 264.2 426.75 342.8M346.6 107.07Q269.54 246.14 250.26 87.08M346.6 106.22Q262.45 265.09 406.66 373.92M367.58 121.2Q280.41 252.92 430.26 198.09M370.06 117.92Q270.2 248.82 250.22 86.12M370.05 118.1Q271.68 274.99 85.8 268.76M369.63 119.1Q270.2 248.86 250.09 85.27M369.72 117.9Q244.91 252.31 195.41 423.29M367.81 120.61Q270.2 248.79 250.33 86.89M368.74 119.31Q265.83 259.1 153.12 125.16M365.51 124.15Q272.13 262.14 439.17 313.38M369.24 119.02Q244.93 252.27 192.57 428.8M369.25 119.44Q265.18 264.42 404.9 372.7M369.8 119Q278.75 279.29 108.71 342.03M368.36 120.3Q265.16 264.42 405.38 373M369.56 118.92Q275.23 260.01 444.28 278.75M368.9 118.94Q275.14 260.05 445.56 279.3M378.92 127.7Q266.01 260.54 155.99 129.19M379.38 127.49Q276.59 259.85 445.74 279.16M379.16 126.97Q253.34 261.04 298.91 440.3M379.72 126.37Q266.51 264.24 407 374.3M376.94 129.45Q271.82 248.62 269.88 85.91M377.66 128.58Q247.97 255.48 226.56 439.43M379.21 126.73Q276.45 279.55 98.36 319.69M379.23 127.09Q271.89 276.37 89.06 269.02M379.36 126.33Q276.51 259.85 444.51 279.01M379.09 127.12Q249.11 257.07 245.21 437.2M379.59 125.74Q279.14 257.12 441.86 243.67M385.43 134.24Q280.21 257.03 441.29 243.64M387.1 132.59Q282.8 252.7 432.32 197.62M387.71 131.37Q267.52 264.17 405.29 372.83M386.87 132.8Q249.01 255.41 226.54 439.64M386.89 132.42Q248.99 255.41 226.4 440.22M383.96 135.12Q277.51 259.78 441.81 278.79M386 133.23Q271.87 249.64 269.7 84.24M387.62 131.53Q275.28 247.04 309.26 91.37M387.24 132.16Q249.01 255.42 226.59 439.99M387.9 131.45Q270.46 251.18 250.49 87.87M386.2 132.92Q278.98 281.58 104.25 344.17M387.43 131.6Q277.55 259.76 445.87 278.89M384.08 135.58Q271.96 277.37 87.64 269.11M386.96 131.73Q274.38 279.27 90.02 298.03M385.46 133.97Q267.47 264.18 407.57 375.31M387.12 132.44Q282.8 252.68 431.42 197.71M392.31 139.06Q255.28 260.96 298.61 437.46M391.34 140.45Q249.06 253.86 210.89 434.45M393 139.15Q272.36 263.26 427.36 343.09M393.68 138.1Q252.87 258.98 269.81 440.8M391.46 140.91Q268.48 264.16 404.7 372.8M391.39 140.37Q271.92 250.57 270.08 84.02M391.42 140.08Q273.55 262.79 433.08 332.02M424.59 178.41Q256.38 257.75 244.61 440.07M423.6 179.06Q271.14 255.9 270.32 87.29M423.77 179.01Q273.59 285.61 90.22 297.84M421.8 180.24Q278.41 251.58 345.44 107.99M423.41 179.08Q253.6 252.84 194.53 425.46M433.42 196.86Q262.68 262.48 298.95 440.78M429.39 198.77Q273.78 255.4 310 89.29M430.3 198.33Q257.35 256.95 227.42 436.87M433.32 197.5Q285.94 261.31 444.15 278.89M432.31 197.32Q255.63 253.55 194.44 425.17M431.04 197.85Q280.42 252.92 367.73 121.2M430.83 198.42Q256.49 255.39 211.09 433.22M429.51 198.53Q272.84 287.64 93.64 297.09M431.19 197.62Q260.24 260.5 269.73 442.6M433.06 196.76Q280.45 252.9 369.53 118.84M432.43 197.28Q270.4 257.95 270.21 85.45M430.95 197.77Q280.94 264.32 432.3 331.8M432.6 197.42Q262.72 262.5 299.14 440.62M431.83 197.28Q270.45 285.67 86.18 269.09M441.02 243.9Q279.21 257.12 379.14 127.45M442.79 243.12Q262.77 261.06 244.45 442.61M444.07 243.27Q265.7 264.06 282.93 437.51M438.57 244Q263.63 268.18 203.68 96.29M443.7 243.32Q267.8 262.32 270.01 86.72M443.13 243.86Q261.71 259.53 227.37 435.51M442.66 243.74Q271.2 259.74 309.43 92.08M442.55 243.47Q262.38 271.85 171.34 112.85M442.99 243.3Q265.71 264.07 283.66 442.22M444.38 243.61Q266.33 263.89 250.78 91.48M444.81 243.4Q267.04 265.07 298.57 439.32M444.29 243.42Q279.19 257.11 379.44 126.7M443.91 243.03Q259.97 256.14 193.22 428.36M440.29 243.71Q258.88 246.7 123.68 372.73M443.88 243.73Q275.09 257.98 346.07 107.27M443.94 243.5Q260 256.14 194.08 425.72M444.81 243.56Q259.74 243.19 106.16 343.73M443.07 243.65Q263.63 268.17 203.94 96.27M443.93 243.19Q267.84 262.28 270.34 87.68M440.77 243.5Q262.78 261.08 244.53 442.34M441.76 243.78Q260.82 257.98 211.28 432.93M443.88 243.54Q275.09 257.97 346.77 105.49M440.54 243.85Q263.26 261.65 251.35 440.57M442.18 243.5Q277.82 257.28 368.77 119.42M444.9 250.01Q261.31 241.13 97.68 320.03M445.13 250.41Q285.9 267.39 431.17 331.42M445.87 250.49Q271.16 260.07 314.67 91.13M442.46 250.35Q265.17 263.55 269.6 443.13M444.36 250.24Q260.56 256.6 192.77 428.66M445.37 250.03Q274.67 258.51 346.67 106.27M442.08 250.45Q263.13 268.8 203.79 98.15M442.76 250.82Q263.4 261.58 244.86 438.23M439.46 250.84Q274.66 258.53 346.27 107.35M441.01 250.45Q262.58 238.99 93.64 297.33M444.74 250.45Q267.62 265.54 298.59 439.57M445.03 250.41Q262.61 239 91.55 297.59M444.67 250Q265.94 264.37 250.94 86.45M444.57 249.98Q262.24 259.97 226.77 439.26M444.19 249.69Q267.58 265.5 298.47 437.43M441.05 250.63Q261.81 280.64 115.87 165.9M443.64 250.13Q274.64 258.51 346.78 105.49M445.26 249.94Q263.17 268.75 203.6 96.65M441.16 250.36Q280.76 268.73 407.27 374.64M444.22 250.17Q266.29 264.54 283.48 441.12M444.57 250.46Q267.36 290.63 86.93 268.86M445.51 249.92Q267.35 262.87 270.1 84.82M441.19 250.63Q265.88 264.44 250.35 86.51M445.59 249.96Q267.62 265.54 299.01 439.37M440.74 250.47Q262.47 270.47 188.62 105.15M443.01 250.39Q279.78 257.61 385.74 134.41M441.58 250.5Q263.39 261.58 245.17 438.79M439.31 250.31Q265.91 264.41 250.63 90.14M439.74 250.75Q279.74 257.62 385.07 134.74M441.69 250.35Q262.46 270.49 187.8 103.97M443.76 250.52Q263.82 286.07 98.57 216.74M443.59 250.32Q265.17 263.55 269.67 444.25M443.26 250.11Q267.33 262.89 269.76 87.4M445.42 279.3Q265.55 263.75 245.01 437.22M442.64 278.68Q264.41 262.14 227.07 437.32M445.91 278.75Q261.7 288.23 92.75 215.36M445.11 279.18Q261.64 249.35 125.53 371.14M442.64 278.62Q269.76 267.69 298.48 438.64M440.6 278.75Q264.78 241.16 89.22 297.94M443.45 279.23Q259.7 274.64 171.53 113.44M445.04 278.67Q265.18 265.04 270 85.57M445.42 278.98Q264.42 262.15 226.75 439.08M445.21 279.01Q259.34 276.95 152.1 124.43M445.87 279.01Q259.65 282.82 115.03 165.59M445.34 279.15Q265.55 263.75 244.84 440.59M443.99 279.26Q259.71 274.59 174.24 116.91M445.7 279.32Q267.36 265.75 269.72 443.57M444.2 279.01Q263.73 266.58 250.71 86.82M444.37 278.59Q268.45 266.7 283.83 442.85M442.13 278.79Q272.46 260.7 346.13 106.84M442.27 278.98Q265.15 265.06 270.24 85.34M440.84 278.89Q265.15 265.06 270.12 90.25M443.79 279.11Q265.55 263.75 244.41 443.23M439.32 278.86Q261.65 249.4 125 372M441.29 278.67Q263.73 266.58 250.57 86.7M444.99 279.07Q269.77 267.71 298.36 438.36M444.15 278.93Q272.46 260.69 345.92 107.32M443.82 278.81Q267.34 265.72 269.73 444.61M445.59 279.19Q269 262.21 313.14 96.56M445.63 279.07Q285.89 261.29 428.27 199.04M441.79 278.64Q269.77 267.7 298.87 440.36M443.54 279.11Q276.52 259.86 379.54 126.44M443.39 278.63Q263.74 266.57 250.39 84.83M439.42 313Q269.46 262.79 347.74 103.85M436.11 312.36Q269.44 262.8 344.82 109.81M437.79 313.07Q262.09 267.19 269.86 89.96M439.25 313.34Q273.49 261.96 379.68 126.23M438.15 313.27Q272.11 262.15 369.8 117.97M437.81 313.23Q265.94 264.33 314.69 91.02M435.84 312.34Q268.1 267.33 251.21 443.05M439.02 313.59Q257.91 273.04 203.55 95.75M436.97 312.78Q273.38 238.26 95.23 215.98M437.07 312.76Q271.88 270.75 298.94 441.33M439.55 313.63Q275.47 261.88 394.5 137.75M436.01 312.47Q274.49 261.89 383.8 135.68M435.6 312.11Q262.15 267.14 270.29 85.32M434.25 311.56Q269.43 268.74 269.59 440.98M438.18 312.64Q256.63 284.89 117.91 167.15M438.37 313.36Q256.66 276.73 171.94 114.03M432.63 311.4Q270.9 239.89 89.88 242.97M439.53 313.66Q266.53 265.2 226.69 438.05M439.19 313.26Q267.66 266.79 244.7 442.62M438.41 312.92Q271.87 270.73 298.04 436.28M436.77 312.86Q269.41 262.81 345.78 107.97M437.92 313.21Q268.1 267.34 251.34 439.2M437 312.72Q266.88 244.2 90.09 297.79M438.59 313.42Q264.59 248.84 107.53 342.58M439.67 313.39Q282.87 263.41 431.71 197.83M437.39 312.74Q275.48 261.86 391.8 140.26M437.86 312.63Q268.05 267.27 250.72 442.81M436.82 312.64Q272.16 262.13 368.9 119.69M438.48 313.23Q273.36 238.27 97.37 216.76M429.87 330.89Q285.31 266.91 439.83 243.9M430.98 331.45Q264.66 254.34 126.65 370.98M431.95 331.62Q272.79 272.62 298.75 441.1M433.23 331.97Q267.44 267.05 227.53 434.65M427.22 329.69Q274.3 240.13 93.94 215.52M432.08 331.37Q267.44 267.05 227.56 434.83M432.43 332.22Q264.06 265.25 314.6 91.69M432.06 331.49Q263.63 265.5 309.54 90.61M432.57 332Q268.56 268.66 244.4 441.66M433.13 332.08Q285.33 266.91 443.32 243.53M429.2 330.76Q263.59 265.52 309.66 89.96M427.56 343.39Q254.8 274.43 203.66 96.43M426.27 343.01Q266.25 264.99 195.02 424.03M426.91 343.11Q272.27 243.05 88.43 243.12M423.22 341.33Q254.81 274.42 204.04 96.94M427.64 343.71Q279.68 264.8 430.06 198.22M426.83 343.13Q257.53 270.12 250.55 88.66M426.81 342.91Q284.08 267.38 445.07 243.25M422.68 341.29Q270.37 263.36 379.86 126.56M426.93 343.15Q253.55 278.1 170.78 111.8M426.89 343.3Q284.6 267.84 440.41 250.32M424.77 342.38Q272.28 263.28 391.45 140.27M425.88 342.67Q270.2 244.95 86.18 269.34M425.42 342.45Q258.96 268.58 269.93 86.76M422.68 341.34Q274.78 241.41 93.3 215.44M426.23 342.76Q269.49 270.45 251 442.45M405.08 372.96Q266.87 255.83 105.55 343.63M405.1 372.97Q266.51 264.24 379.15 127.2M407.17 374.74Q275.64 245.28 94.9 216.13M405.43 373.22Q272.87 276.77 283.69 442.32M406.44 374.42Q258.45 266.89 309.19 91.71M408.09 375.42Q267.94 270.66 210.28 435.45M407.5 375.41Q269.16 251.28 89.38 298.28M404.95 372.92Q273.81 264.96 423.31 179.41M407.9 375.5Q270.38 274.35 251.33 438.84M406.3 374.04Q280.77 268.76 444.62 250.38M407.61 375.12Q275.84 265.7 430.71 198.22M405.89 373.67Q275.67 245.26 95.84 216.1M404.52 372.54Q250.93 275.32 204.2 97.7M406.68 374.47Q267.91 253.38 96.06 320.42M405.28 373Q253.68 270.99 250.52 87.19M405.02 372.63Q258.99 266.6 314.12 93.02M407.95 375.29Q267.9 253.37 98.36 319.72M299.17 440.32Q267.91 261.93 85.86 269.15M298.84 439.5Q289.78 257.71 204.41 98.53M298.69 437.8Q265.99 264.31 91.45 297.28M298.55 441.26Q267.9 261.97 89.39 268.66M298.65 439.86Q260.64 261.74 419.45 181.34M298.71 439.38Q265.96 264.36 89.04 298.05M298.76 440.57Q241.95 266.23 270.19 84.21M298.67 440.35Q273.28 273.91 425.59 342.79M298.47 438.37Q267.63 265.56 440.1 250.92M298.98 439.86Q273.31 273.9 425.91 342.67M298.92 440.49Q267.87 261.98 86.87 269.43M298.76 438.4Q251.98 261.24 370.17 117.29M297.46 431.83Q272.46 258.4 94.23 215.78M298.79 440.05Q267.58 265.51 441.95 250.09M298.16 439.08Q267.01 265.04 439.36 243.99M298.15 434.85Q263.65 269.03 108.25 343.01M298.5 438.9Q267.89 261.96 90.33 268.99M298.7 437.31Q241.98 266.28 270.03 84.28M298.25 436.57Q263.94 282.01 193.49 427.97M299.28 440.41Q267.07 265.09 444.86 243.24M299.09 440.42Q254.37 260.98 387.45 131.95M298.75 438.23Q240.54 267.8 250.67 88.55M299.16 440.99Q267.92 261.92 90.92 268.83M298.03 436.46Q272.44 258.42 93.07 215.41M298.55 440.93Q251.96 261.19 368.12 120.75M299.27 441.2Q272.47 258.39 93.14 215.37M299.08 441.55Q272.42 258.43 96.46 216.65M298.54 437.28Q267.06 265.08 444.13 243.31M299.18 441.14Q271.9 270.76 438.32 313.08M298.84 440.36Q245.81 263.39 314.53 91.84M298.68 440.53Q240.49 267.77 250.67 89.24M298.99 440.83Q249.24 261.89 346.81 105.29M283.29 442.33Q268.45 266.72 443.62 279.14M283.27 441.76Q244.02 262.65 308.87 94.33M283.41 443.38Q252.04 260.02 381.08 125.3M283.06 438.62Q272.85 276.77 407.64 375.08M283.54 441.43Q252.06 260.05 380.42 125.95M283.49 440.99Q271.43 259.75 94.27 216.12M283.27 439.72Q268.48 266.75 443.14 279.22M283.57 443.92Q250.64 260.22 368.69 119.68M283.27 438.58Q264.97 265.69 92.76 297.46M283.24 440.79Q268.45 266.71 444.05 279.01M283.36 441.52Q266.3 264.55 445.39 250.38M283.58 441.24Q264.96 265.7 94.12 297.36M283.09 440.1Q250.67 260.2 368.93 119.9M283.79 443.69Q253.99 259.96 393.18 138.74M283.66 441.66Q261.41 261.51 432.77 197.57M269.7 441.47Q287.8 260.15 204.38 98.21M269.36 441.75Q243.34 261.4 313.53 94.79M269.9 441.11Q264.62 263.1 442.36 243.43M269.77 444.56Q292.11 262.88 250.62 89.86M269.72 440.99Q264.59 263.07 440.67 243.45M269.83 442.19Q239.54 264.27 270.18 87.08M269.55 441.66Q275.92 258.82 118.26 167.27M269.7 443.17Q292.12 262.89 250.33 84.71M269.83 443.93Q265.95 264.35 88.75 268.78M269.66 441.53Q239.49 264.3 269.76 85.12M269.76 440.08Q252.9 258.98 393.98 138.2M269.46 444.26Q261.66 271.43 104.33 344.1M269.45 440.47Q261.67 271.43 107.96 342.42M250.91 442.73Q265.97 264.26 439.26 278.46M251.21 441.54Q266.53 263.87 91.02 243.4M251.37 439.29Q268.1 267.33 434.57 312.11M250.87 443.94Q266.51 263.88 88.87 243.2M251.1 439.47Q284.55 260.82 186.98 102.92M250.99 443.66Q258.87 259.04 433.37 196.79M251.18 442.65Q290.69 264.26 250.49 85.16M250.85 442.51Q263.78 262.07 444.99 250M251.16 442.09Q284.63 260.83 187.29 102.22M251.24 439.71Q251.52 257.51 393.95 138.23M250.53 443.3Q245.43 258.41 345.72 107.83M250.64 443.32Q262.5 268.18 90.08 297.78M251.02 437.88Q251.44 257.48 390.65 140.78M251.65 437.71Q284.62 260.81 187.79 103.76M250.82 443.12Q269.47 270.42 428.01 343.38M251.52 436.33Q270.38 274.33 406.15 373.88M251.45 441.76Q284.6 260.79 188.79 106.48M250.76 442.53Q265.97 264.26 443.61 279M251 444.02Q269.51 270.49 425.78 342.88M250.93 442.19Q248.15 257.77 368.39 119.78M244.66 440.35Q261.98 268.59 90.46 297.63M245.27 436.37Q269.94 273.8 405.68 373.53M244.55 441.47Q268.46 262.66 96.12 216.38M245.19 436.94Q291.63 266.1 269.59 86.81M244.76 441.69Q268.49 262.64 93.25 215.45M244.52 442.64Q265.57 263.77 442.36 279.18M244.58 441.47Q268.47 262.65 92.81 215.32M244.29 442.99Q284.02 261.26 188.54 105.85M244.4 441.79Q263.34 261.53 443.06 250.16M244.15 441.85Q265.53 263.72 443.86 279.15M244.74 440.97Q258.46 258.51 433.18 197.12M244.13 441.62Q263.34 261.52 442.52 250.42M244.26 442.52Q263.37 261.55 443.02 250.48M244.11 441.61Q290.08 264.73 250.46 86.45M244.89 438.98Q261.98 268.6 90.25 297.78M244.66 442.21Q285.82 261.96 203.45 95.34M244.12 442.35Q291.63 266.16 270.06 86.58M244.24 442.08Q291.63 266.16 270.06 85.9M245.23 438.61Q251.1 257 393.26 138.9M244.47 441.67Q269.93 273.78 406.39 374.04M244.85 442.38Q267.67 266.81 435.39 312.23M244.81 441.5Q245.03 257.93 346.93 105.43M244.7 441.31Q265.55 263.75 445.24 279.14M244.81 439.54Q269.05 269.92 426.5 343.05M244.24 443.2Q269.93 273.81 405.47 373.69M245.35 437.94Q291.65 266.08 269.62 83.95M244.62 440.75Q279.77 260.32 152.24 124.42M244.7 441.28Q249.12 257.07 379.41 126.89M244.78 440.32Q241.58 259.42 314.12 93.36M244.38 439.78Q267.63 266.76 436.97 312.88M244.67 441.25Q262.81 261.1 444.55 243.39M244.89 440.09Q256.42 257.78 424.07 178.92M244.43 443.25Q251.08 256.98 394.42 137.73M227.41 436.46Q261.67 259.51 442 243.36M226.59 438.49Q262.23 259.95 443.49 250.21M226.95 437.1Q243.89 256.32 346.7 105.71M226.28 440.18Q247.95 255.47 380.51 124.99M227.25 437.6Q266.55 265.21 436.3 312.46M226.73 438.69Q266.89 263.77 94.17 215.74M227.43 435.89Q262.35 267.3 90.93 268.9M226.78 437.74Q260.38 269.73 89.87 297.95M226.32 439.3Q290.05 267.27 270.06 86.56M226.9 438.47Q240.01 258.11 308.56 95.46M227.82 434.17Q284.21 263.07 204.16 98.06M226.69 438.01Q261.69 259.51 443.06 243.75M226.39 439.21Q284.19 263.09 203.23 95.42M226.29 440.17Q258.08 274.36 104.44 344.29M226.2 439.75Q259.1 271.9 95.35 320.81M226.74 437.51Q239.94 258.1 308.42 94.12M227.69 434.5Q267.46 267.09 433.05 332.21M227.04 437.9Q243.9 256.34 347.33 104.49M226.74 438.11Q266.87 263.78 92.32 215.31M227.44 435.6Q243.89 256.33 347.78 103.39M226.64 437.82Q266.51 265.17 439.28 313.32M226.38 439.32Q259.11 271.89 98.07 319.83M227.27 435.55Q290.06 267.27 270.14 84.52M226.76 440.07Q290.1 267.23 269.99 85.85M226.81 437.44Q248.99 255.39 387.09 132.46M226.47 439.81Q267.93 268.32 428.1 343.63M226.07 439.4Q264.35 265.47 87.71 243.08M226.48 439.77Q249.96 255.39 389.92 142.13M226.04 440.19Q255.24 256.15 423.77 178.72M226.66 439.66Q258.12 274.31 107.7 342.31M210.89 433.44Q260.8 268.18 89.27 268.86M210.08 435.11Q291.34 271.99 314.61 90.48M210.89 434.22Q282.68 263.95 203.88 96.89M211.61 431.68Q270.83 262.61 116.83 166.06M210.67 435.51Q264.76 283.83 299.18 441.36M210.78 435.08Q265.67 263.68 439.36 313.43M210.79 433.12Q276.63 262.33 153.75 126.07M210.83 433.5Q263.53 260.59 443.78 278.92M211.01 433.3Q291.1 271.51 309.03 92.09M211.17 433.16Q261.38 258.44 444.17 250.32M210.64 435.04Q245.77 254.12 368.36 120.47M210.45 436.02Q265.66 263.67 438.51 313.03M212.05 430.34Q260.83 268.15 88.61 268.57M210.46 435.47Q261.39 258.45 444.75 250.36M193.83 425.46Q254.69 276.03 106.56 342.88M193.57 426.58Q257 271.43 89.17 298.15M193.09 428.21Q285.18 267.51 250.52 86.52M192.9 429.21Q244.93 252.32 366.51 122.65M193.33 427.04Q255.75 273.56 97.4 319.84M193.21 427.41Q289.54 272.81 314.35 92.14M194.42 424.31Q259.98 256.1 441.32 243.71M194.24 425.78Q289.58 272.83 314.26 93.71M193.02 427.79Q258.97 268.99 90.04 268.77M194.22 424.5Q258.93 269.01 85.72 268.97M193.49 427.42Q289.56 272.79 312.42 98.71M192.46 429.08Q279.06 264.07 190.08 108.99M194.81 424.03Q268.97 263.43 116.76 166.23M193.1 427.76Q280.81 264.76 202.95 95.19M194.98 423.45Q258.94 269.02 89.94 269.13M193.08 428.51Q289.57 272.8 313.49 95.27M192.7 429.09Q289.29 272.33 309.43 90.88M192.56 429.12Q260.55 256.59 444.01 250.24M192.89 428.82Q286.72 268.95 269.99 91.44M193.45 427.34Q263.55 265.44 93.91 215.31M193.4 426.98Q262.73 258.77 443.32 278.95M194.94 423.73Q263.92 281.97 298.82 439.81M193.5 427.52Q242.22 252.97 347.64 104.1M193.15 427.78Q257 271.44 89.86 298.2M192.67 428.69Q255.64 253.54 432.8 197.37M193.64 426.74Q265.77 263.73 429.49 330.87M192.97 428.09Q263.9 281.99 298.68 440.36M193.95 426.12Q260.01 256.15 444.77 243.53M194.6 424.96Q253.63 252.84 424.76 178.81M192.55 429.05Q258.97 268.99 85.99 268.97M193.1 427.71Q286.7 268.97 270.17 88.25M192.65 428.94Q242.2 252.95 345.38 108.27M193.44 427.35Q260.52 256.57 443.45 249.86M194.02 425.67Q264.83 261.8 436.68 312.47M126.03 371.44Q261.63 249.41 443.09 279M123.01 373.6Q282.52 281.46 380.33 125.92M122.92 373.7Q254.11 266.57 94.59 215.99M124.09 372.82Q247.63 272.52 90.52 297.88M123.83 373.06Q258.81 276.86 244.55 439.2M124.22 372.53Q252.49 243.41 418.78 181.66M123.05 373.65Q263.75 252.46 437.48 313.12M105.26 344.22Q258.09 274.38 226.45 440.4M107.12 342.55Q250.49 265.72 94.65 215.86M108.03 342.35Q272.18 267.78 250.56 85.91M105.59 343.82Q264.21 263.79 171.73 113.09M106.38 343.49Q262.45 245.79 443.21 278.69M108.64 342.09Q278.74 279.24 370.21 117.67M105.39 343.77Q266.86 255.81 404.54 372.25M106.66 343.45Q272.19 267.77 250.27 86.62M105.25 343.99Q260.29 243.63 444.98 250.22M104.36 344.41Q260.3 243.63 439.82 250.75M105.92 343.24Q278.05 276.5 347.61 103.8M104.57 344.18Q278.08 276.53 347.31 105.02M105.07 343.91Q262.65 270.33 283.28 441.53M96.42 320.13Q276.5 280.58 387.12 132.37M94.69 320.99Q263.5 243.33 445.31 279.13M95.25 320.57Q265.63 246.35 435.33 312.38M100.5 319.18Q269.72 266.75 250.47 86.55M97.15 320.13Q264.7 266.5 299.31 441.52M96.19 320.58Q255.76 273.58 194.99 423.95M95.24 320.9Q260.75 240.68 442.28 243.48M94.8 321.03Q269.72 266.75 250.6 87.22M97.95 319.91Q273.84 271.6 309.12 93.75M97.7 319.75Q267.02 249.47 425.85 342.53M95.68 320.7Q245.55 266.37 89.63 243.45M98.5 319.97Q259.41 262.37 155.66 128.28M96.41 320.09Q259.14 271.85 226.93 437.72M95.03 320.99Q259.11 271.9 226.92 437.18M93.24 297.54Q262.57 239 443.1 250.21M93.49 297.27Q263.22 262.73 204.46 98.62M89.48 297.85Q274.28 278.29 377.71 128.72M92.85 297.16Q264.79 241.16 444.84 279.18M91.86 297.8Q274.39 279.35 387.34 132.35M89.58 297.91Q257.02 271.41 193.29 427.52M90.95 297.24Q264.96 265.68 282.89 440.24M89.07 297.75Q268.31 247.35 426.88 343.5M93.07 297.37Q266.87 244.2 439.58 313.32M94.3 297.04Q269.09 266.92 270.26 85.84M89.4 298Q269.09 266.91 270.11 86.94M90.4 297.6Q274.11 276.97 370.78 117.53M88.74 298.33Q271.69 270.33 308.58 95.26M91.57 297.88Q261.95 268.64 244.84 438.05M90.41 297.72Q264.76 241.14 443.57 278.74M90.16 297.47Q262.01 268.57 244.81 440.15M89.63 298.26Q258.84 270.62 210.62 434.78M90.59 297.71Q273.59 285.58 424.32 178.46M91.01 297.75Q273.59 285.61 424.4 178.63M94.51 297.17Q266.87 244.22 436.21 312.51M91.72 297.24Q260.42 269.69 226.68 439.15M89.57 297.82Q268.29 247.33 425.63 342.56M93.17 297.24Q265.95 264.37 298.39 438.22M94.04 297.4Q259.57 261.5 171.12 112.47M89.4 298.14Q261.99 268.6 244.65 443.06M89.43 298.05Q257.02 271.42 192.69 428.79M91.59 297.51Q257.05 271.4 196.79 420.26M92.76 297.29Q259.57 261.48 171.06 111.88M89.24 297.86Q274.1 276.92 369.46 118.49M90.91 298.03Q263.22 262.74 203.19 95.84M92.71 297.24Q258.82 270.61 209.96 435.21M93.57 297.24Q264.77 241.17 443.22 278.99M93.08 297.13Q274.37 280.31 390.83 141.87M89.88 297.96Q263.22 262.73 204.31 98.31M90.99 297.92Q259.56 261.49 170.6 111.71M92.99 268.7Q267.39 290.59 444.85 249.96M87.1 268.69Q268.83 241.73 439.43 313.1M91.04 268.97Q260.76 260.77 203.44 97.12M86.82 269.11Q271.88 276.34 380.01 125.65M87 268.86Q269.75 243.65 430.68 331.04M88.53 269.17Q257.18 259.56 173.24 115.32M88.6 269.03Q266.9 263.28 283.58 443.29M88.02 268.83Q271.13 248.81 405.32 373.55M88.63 268.97Q271.97 278.29 392.85 138.78M85.89 269.07Q264.49 265.73 251.28 442.58M86.34 269.11Q271.7 274.98 369.33 118.52M85.85 268.79Q262.32 267.31 226.15 439.22M89.45 269.15Q271.1 248.81 407.98 375.26M86.41 269.1Q271.96 277.38 387.37 132.09M87.4 269.06Q254.77 259.15 153.59 126.37M86.91 268.62Q259.02 268.96 193.81 426.92M85.61 269.17Q269.73 243.66 430.93 331.03M85.71 269.46Q267.89 261.95 298.12 434.47M85.76 269.09Q248.94 259.45 117.45 166.75M86.67 268.62Q262.38 267.27 226.99 437.94M91.26 268.67Q248.94 259.42 117.03 166.27M87.82 242.96Q263.32 290.74 445.19 279.12M86.92 242.88Q264.8 262.91 270.08 87.26M88.71 243.72Q272.22 243.06 426.4 342.53M91.41 243.25Q269.81 272.91 368.23 120.17M88.03 243.2Q273.16 246.96 405.51 373.66M87.56 242.9Q266.5 263.9 250.84 440.35M88.68 243.67Q270.83 239.95 439.57 313.44M89.31 243.56Q255.3 257.52 171.3 112.36M92.12 243.51Q264.78 262.89 269.87 85.02M90.9 243.23Q268.55 283.63 433.09 197.11M87.27 243.03Q263.35 290.74 445.84 278.99M87.01 242.62Q267.64 266.76 314.89 91.17M90.96 243.51Q267.36 266.27 309.41 89.37M92.87 243.65Q265.98 264.32 244.77 439.91M89.57 242.98Q265.99 264.31 244.65 440.04M88.44 243.29Q266.49 263.9 251.14 439.6M89.76 243.5Q269.85 272.97 367.16 122.06M92.57 215.06Q264.31 285.48 442.76 243.41M93.68 215.35Q257.24 256.21 203.03 95.18M93.54 215.43Q245.92 263.43 92.02 297.66M93.49 215.35Q265.71 263.8 309.57 90.87M94.04 215.54Q245.89 263.41 92.86 297.15M97.35 216.36Q267.62 279.1 424.68 178.62M95.19 216.13Q273.36 238.26 435.73 312.32M92.66 215.22Q258.66 290.33 439.55 313.09M95.83 216.09Q270.47 260.85 269.56 440.79M93.59 215.42Q267.49 267.72 347.05 105.3M93.12 215.48Q261.66 288.27 444.57 279.22M94.73 215.96Q263.13 260.42 269.96 87.86M93.78 215.62Q263.48 265.48 193.78 425.74M96.03 216.39Q261.68 288.26 445.35 279.08M92.88 215.49Q268.44 273.79 392.88 139.25M92.44 215.02Q248.05 264.67 96.41 320.12M94.87 215.84Q263.14 260.42 270.13 89M97.28 216.58Q268.48 262.65 244.85 440M94.63 216.07Q266.85 263.8 227.05 436.17M95.54 216.39Q266.88 263.78 226.74 439.28M93.16 215.32Q267.5 267.75 347.39 105.24M94.51 216.02Q261.62 259 250.41 84.65M95.81 216Q269.03 262.21 251.07 441.77M97.16 216.68Q255.54 255.56 187.59 103.22M93.84 215.34Q272.46 258.43 297.81 436.28M94.49 215.91Q267.5 267.73 347.65 103.93M93.15 215.27Q265.38 264.63 210.45 435.89M97.86 216.7Q268.49 262.64 244.77 440.91M96.68 216.47Q271.43 259.76 283.02 440.13M97.65 216.73Q268.34 271.75 379.27 126M93.52 215.72Q272.43 258.42 298.28 437.02M96.82 216.43Q267.5 267.73 347.73 104.04M94.83 215.95Q263.12 260.41 269.95 84.19M92.84 215.32Q268.42 272.84 387.71 131.95M115.9 165.89Q251.34 261.39 90.12 297.8M118.44 167.52Q273.91 260.63 244.39 442.3M116.32 166.34Q276.9 257.68 283.4 438M115.33 165.42Q248.96 259.47 85.83 269.34M120.16 168.49Q277.91 256.38 298.95 440.81M117.96 167.13Q266.13 264.97 366.99 121.77M116.35 165.93Q253.46 286.29 427.02 343.12M119.34 168.35Q274.46 260.17 251.34 441.56M115.42 165.43Q265.6 273.66 424.28 178.73M155.49 128.03Q263.38 252.47 308.64 93.99M152.15 124.24Q263.38 252.49 309.3 91.47M156.31 129.54Q261.79 263.38 106.59 342.85M152.71 124.78Q261.84 263.39 105.13 343.88M152.53 124.8Q280.29 259.9 250.62 443.98M155.35 128.47Q261.99 274.2 445.1 243.05" fill="none" stroke="#FF6600" stroke-opacity="0.42" stroke-width="0.55"/>
<defs><radialGradient id="lite"><stop offset="0" stop-color="#fff" stop-opacity="0.24"/><stop offset="0.6" stop-color="#fff" stop-opacity="0.16"/><stop offset="1" stop-color="#fff" stop-opacity="0"/></radialGradient></defs>
<circle cx="263" cy="262.3" r="105" fill="url(#lite)"/>
<path d="M468.77 286.69A204 204 0 0 1 463.5 315.38L445.59 310.75A185.5 185.5 0 0 0 450.38 284.66Z" fill="#FFD400" stroke="none"/>
<path d="M470 264.3A204 204 0 0 1 456.58 337.07L439.29 330.47A185.5 185.5 0 0 0 451.5 264.3Z" fill="none" stroke="#444" stroke-width="1.25"/>
<path d="M447.11 358.18A204 204 0 0 1 431.46 383.63L416.45 372.81A185.5 185.5 0 0 0 430.69 349.67Z" fill="#FFD400" stroke="none"/>
<path d="M454.33 342.7A204 204 0 0 1 420.89 397.06L406.84 385.02A185.5 185.5 0 0 0 437.26 335.59Z" fill="none" stroke="#444" stroke-width="1.25"/>
<path d="M389.9 426.36A204 204 0 0 1 387.63 428.07L376.6 413.22A185.5 185.5 0 0 0 378.67 411.66Z" fill="#FFD400" stroke="none"/>
<path d="M416.88 401.59A204 204 0 0 1 339.44 454.62L332.78 437.36A185.5 185.5 0 0 0 403.2 389.14Z" fill="none" stroke="#444" stroke-width="1.25"/>
<path d="M292.63 466.55A204 204 0 0 1 289.8 466.91L287.64 448.53A185.5 185.5 0 0 0 290.21 448.21Z" fill="#FFD400" stroke="none"/>
<path d="M335.77 456A204 204 0 0 1 263.51 468.28L263.73 449.79A185.5 185.5 0 0 0 329.44 438.61Z" fill="none" stroke="#444" stroke-width="1.25"/>
<path d="M233.03 465.62A204 204 0 0 1 230.23 465.14L233.47 446.93A185.5 185.5 0 0 0 236.02 447.36Z" fill="#FFD400" stroke="none"/>
<path d="M258.88 468.18A204 204 0 0 1 214.58 461.71L219.24 443.81A185.5 185.5 0 0 0 259.53 449.69Z" fill="none" stroke="#444" stroke-width="1.25"/>
<path d="M194.89 455.51A204 204 0 0 1 186.29 452.08L193.52 435.05A185.5 185.5 0 0 0 201.34 438.17Z" fill="#FFD400" stroke="none"/>
<path d="M209.77 460.4A204 204 0 0 1 168.66 443.58L177.49 427.32A185.5 185.5 0 0 0 214.87 442.61Z" fill="none" stroke="#444" stroke-width="1.25"/>
<path d="M148.7 431.2A204 204 0 0 1 140.12 424.83L151.54 410.28A185.5 185.5 0 0 0 159.34 416.07Z" fill="#FFD400" stroke="none"/>
<path d="M164.31 441.15A204 204 0 0 1 133.24 419.19L145.28 405.14A185.5 185.5 0 0 0 173.53 425.11Z" fill="none" stroke="#444" stroke-width="1.25"/>
<path d="M120 406.78A204 204 0 0 1 106.57 391.57L121.03 380.03A185.5 185.5 0 0 0 133.24 393.86Z" fill="#FFD400" stroke="none"/>
<path d="M129.23 415.66A204 204 0 0 1 97.28 378.97L112.58 368.57A185.5 185.5 0 0 0 141.64 401.94Z" fill="none" stroke="#444" stroke-width="1.25"/>
<path d="M79.35 346.62A204 204 0 0 1 75.04 336.08L92.36 329.57A185.5 185.5 0 0 0 96.27 339.16Z" fill="#FFD400" stroke="none"/>
<path d="M93.57 373.31A204 204 0 0 1 71.98 327.34L89.58 321.62A185.5 185.5 0 0 0 109.2 363.42Z" fill="none" stroke="#444" stroke-width="1.25"/>
<path d="M64.86 298.32A204 204 0 0 1 62.45 277.82L80.91 276.59A185.5 185.5 0 0 0 83.1 295.24Z" fill="#FFD400" stroke="none"/>
<path d="M70.3 321.9A204 204 0 0 1 62.01 266.44L80.51 266.24A185.5 185.5 0 0 0 88.05 316.67Z" fill="none" stroke="#444" stroke-width="1.25"/>
<path d="M64.14 234.85A204 204 0 0 1 69.32 210.13L87.16 215.04A185.5 185.5 0 0 0 82.44 237.52Z" fill="#FFD400" stroke="none"/>
<path d="M62.02 261.45A204 204 0 0 1 75.55 191.19L92.82 197.82A185.5 185.5 0 0 0 80.52 261.71Z" fill="none" stroke="#444" stroke-width="1.25"/>
<path d="M86.89 166.65A204 204 0 0 1 92.81 156.5L108.52 166.27A185.5 185.5 0 0 0 103.13 175.5Z" fill="#FFD400" stroke="none"/>
<path d="M77.67 185.9A204 204 0 0 1 105.47 138.42L120.02 149.84A185.5 185.5 0 0 0 94.74 193.01Z" fill="none" stroke="#444" stroke-width="1.25"/>
<path d="M116.8 125.17A204 204 0 0 1 136.79 106.44L148.51 120.75A185.5 185.5 0 0 0 130.33 137.79Z" fill="#FFD400" stroke="none"/>
<path d="M109.27 133.72A204 204 0 0 1 149.28 96.99L159.87 112.16A185.5 185.5 0 0 0 123.48 145.56Z" fill="none" stroke="#444" stroke-width="1.25"/>
<path d="M181.73 78.52A204 204 0 0 1 193.56 73.6L200.13 90.89A185.5 185.5 0 0 0 189.37 95.37Z" fill="#FFD400" stroke="none"/>
<path d="M154 93.8A204 204 0 0 1 222.19 65.06L226.17 83.13A185.5 185.5 0 0 0 164.16 109.26Z" fill="none" stroke="#444" stroke-width="1.25"/>
<path d="M247.51 61.14A204 204 0 0 1 266.71 60.3L266.65 78.8A185.5 185.5 0 0 0 249.19 79.56Z" fill="#FFD400" stroke="none"/>
<path d="M227.95 63.88A204 204 0 0 1 279.16 60.73L277.97 79.19A185.5 185.5 0 0 0 231.4 82.06Z" fill="none" stroke="#444" stroke-width="1.25"/>
<path d="M300.72 63.28A204 204 0 0 1 310.15 65.14L306.15 83.2A185.5 185.5 0 0 0 297.57 81.51Z" fill="#FFD400" stroke="none"/>
<path d="M283.07 61.02A204 204 0 0 1 321.2 67.91L316.2 85.72A185.5 185.5 0 0 0 281.52 79.45Z" fill="none" stroke="#444" stroke-width="1.25"/>
<path d="M344.72 76.1A204 204 0 0 1 356.07 81.26L347.9 97.86A185.5 185.5 0 0 0 337.59 93.17Z" fill="#FFD400" stroke="none"/>
<path d="M325.98 69.32A204 204 0 0 1 372.89 90.55L363.2 106.3A185.5 185.5 0 0 0 320.54 87Z" fill="none" stroke="#444" stroke-width="1.25"/>
<path d="M397.67 108.49A204 204 0 0 1 402.77 112.94L390.36 126.66A185.5 185.5 0 0 0 385.73 122.62Z" fill="#FFD400" stroke="none"/>
<path d="M377.7 93.6A204 204 0 0 1 428.06 140.4L413.36 151.63A185.5 185.5 0 0 0 367.57 109.08Z" fill="none" stroke="#444" stroke-width="1.25"/>
<path d="M439.94 157.71A204 204 0 0 1 441.95 161.07L426 170.43A185.5 185.5 0 0 0 424.16 167.38Z" fill="#FFD400" stroke="none"/>
<path d="M431.87 145.55A204 204 0 0 1 452.22 181L435.33 188.55A185.5 185.5 0 0 0 416.83 156.32Z" fill="none" stroke="#444" stroke-width="1.25"/>
<path d="M463.94 214.95A204 204 0 0 1 464.61 217.72L446.6 221.94A185.5 185.5 0 0 0 445.99 219.42Z" fill="#FFD400" stroke="none"/>
<path d="M453.78 184.59A204 204 0 0 1 469.96 260.03L451.46 260.42A185.5 185.5 0 0 0 436.75 191.82Z" fill="none" stroke="#444" stroke-width="1.25"/>
<text x="480.3" y="264.3" font-size="7.6" text-anchor="middle" fill="#222" stroke="#222" stroke-width="0.35" transform="rotate(90 480.3 264.3)" dominant-baseline="central">0</text>
<text x="477.45" y="299.12" font-size="7.6" text-anchor="middle" fill="#222" stroke="#222" stroke-width="0.35" transform="rotate(-80.65 477.45 299.12)" dominant-baseline="central">10</text>
<text x="468.99" y="333.01" font-size="7.6" text-anchor="middle" fill="#222" stroke="#222" stroke-width="0.35" transform="rotate(-71.3 468.99 333.01)" dominant-baseline="central">20</text>
<text x="463.84" y="346.65" font-size="7.6" text-anchor="middle" fill="#222" stroke="#222" stroke-width="0.35" transform="rotate(-67.4 463.84 346.65)" dominant-baseline="central">0</text>
<text x="447.84" y="377.7" font-size="7.6" text-anchor="middle" fill="#222" stroke="#222" stroke-width="0.35" transform="rotate(-58.05 447.84 377.7)" dominant-baseline="central">10</text>
<text x="424.5" y="408.53" font-size="7.6" text-anchor="middle" fill="#222" stroke="#222" stroke-width="0.35" transform="rotate(-47.7 424.5 408.53)" dominant-baseline="central">0</text>
<text x="398.97" y="432.36" font-size="7.6" text-anchor="middle" fill="#222" stroke="#222" stroke-width="0.35" transform="rotate(-38.35 398.97 432.36)" dominant-baseline="central">10</text>
<text x="369.89" y="451.73" font-size="7.6" text-anchor="middle" fill="#222" stroke="#222" stroke-width="0.35" transform="rotate(-29 369.89 451.73)" dominant-baseline="central">20</text>
<text x="339.29" y="465.68" font-size="7.6" text-anchor="middle" fill="#222" stroke="#222" stroke-width="0.35" transform="rotate(-20 339.29 465.68)" dominant-baseline="central">0</text>
<text x="305.6" y="474.91" font-size="7.6" text-anchor="middle" fill="#222" stroke="#222" stroke-width="0.35" transform="rotate(-10.65 305.6 474.91)" dominant-baseline="central">10</text>
<text x="270.86" y="478.54" font-size="7.6" text-anchor="middle" fill="#222" stroke="#222" stroke-width="0.35" transform="rotate(-1.3 270.86 478.54)" dominant-baseline="central">20</text>
<text x="258.52" y="478.47" font-size="7.6" text-anchor="middle" fill="#222" stroke="#222" stroke-width="0.35" transform="rotate(2 258.52 478.47)" dominant-baseline="central">0</text>
<text x="223.83" y="474.41" font-size="7.6" text-anchor="middle" fill="#222" stroke="#222" stroke-width="0.35" transform="rotate(11.35 223.83 474.41)" dominant-baseline="central">10</text>
<text x="206.93" y="470.3" font-size="7.6" text-anchor="middle" fill="#222" stroke="#222" stroke-width="0.35" transform="rotate(16 206.93 470.3)" dominant-baseline="central">0</text>
<text x="174.25" y="457.96" font-size="7.6" text-anchor="middle" fill="#222" stroke="#222" stroke-width="0.35" transform="rotate(25.35 174.25 457.96)" dominant-baseline="central">10</text>
<text x="159.17" y="450.08" font-size="7.6" text-anchor="middle" fill="#222" stroke="#222" stroke-width="0.35" transform="rotate(29.9 159.17 450.08)" dominant-baseline="central">0</text>
<text x="130.41" y="430.25" font-size="7.6" text-anchor="middle" fill="#222" stroke="#222" stroke-width="0.35" transform="rotate(39.25 130.41 430.25)" dominant-baseline="central">10</text>
<text x="122.33" y="423.31" font-size="7.6" text-anchor="middle" fill="#222" stroke="#222" stroke-width="0.35" transform="rotate(42.1 122.33 423.31)" dominant-baseline="central">0</text>
<text x="98.4" y="397.85" font-size="7.6" text-anchor="middle" fill="#222" stroke="#222" stroke-width="0.35" transform="rotate(51.45 98.4 397.85)" dominant-baseline="central">10</text>
<text x="84.86" y="378.81" font-size="7.6" text-anchor="middle" fill="#222" stroke="#222" stroke-width="0.35" transform="rotate(57.7 84.86 378.81)" dominant-baseline="central">0</text>
<text x="68.66" y="347.86" font-size="7.6" text-anchor="middle" fill="#222" stroke="#222" stroke-width="0.35" transform="rotate(67.05 68.66 347.86)" dominant-baseline="central">10</text>
<text x="60.42" y="324.81" font-size="7.6" text-anchor="middle" fill="#222" stroke="#222" stroke-width="0.35" transform="rotate(73.6 60.42 324.81)" dominant-baseline="central">0</text>
<text x="53.32" y="290.6" font-size="7.6" text-anchor="middle" fill="#222" stroke="#222" stroke-width="0.35" transform="rotate(82.95 53.32 290.6)" dominant-baseline="central">10</text>
<text x="51.72" y="261.31" font-size="7.6" text-anchor="middle" fill="#222" stroke="#222" stroke-width="0.35" transform="rotate(-89.2 51.72 261.31)" dominant-baseline="central">0</text>
<text x="55.05" y="226.53" font-size="7.6" text-anchor="middle" fill="#222" stroke="#222" stroke-width="0.35" transform="rotate(-79.85 55.05 226.53)" dominant-baseline="central">10</text>
<text x="63.99" y="192.77" font-size="7.6" text-anchor="middle" fill="#222" stroke="#222" stroke-width="0.35" transform="rotate(-70.5 63.99 192.77)" dominant-baseline="central">20</text>
<text x="68.16" y="181.95" font-size="7.6" text-anchor="middle" fill="#222" stroke="#222" stroke-width="0.35" transform="rotate(-67.4 68.16 181.95)" dominant-baseline="central">0</text>
<text x="84.16" y="150.9" font-size="7.6" text-anchor="middle" fill="#222" stroke="#222" stroke-width="0.35" transform="rotate(-58.05 84.16 150.9)" dominant-baseline="central">10</text>
<text x="101.36" y="127.12" font-size="7.6" text-anchor="middle" fill="#222" stroke="#222" stroke-width="0.35" transform="rotate(-50.2 101.36 127.12)" dominant-baseline="central">0</text>
<text x="125.83" y="102.2" font-size="7.6" text-anchor="middle" fill="#222" stroke="#222" stroke-width="0.35" transform="rotate(-40.85 125.83 102.2)" dominant-baseline="central">10</text>
<text x="148.34" y="85.19" font-size="7.6" text-anchor="middle" fill="#222" stroke="#222" stroke-width="0.35" transform="rotate(-33.3 148.34 85.19)" dominant-baseline="central">0</text>
<text x="179.01" y="68.45" font-size="7.6" text-anchor="middle" fill="#222" stroke="#222" stroke-width="0.35" transform="rotate(-23.95 179.01 68.45)" dominant-baseline="central">10</text>
<text x="211.98" y="56.92" font-size="7.6" text-anchor="middle" fill="#222" stroke="#222" stroke-width="0.35" transform="rotate(-14.6 211.98 56.92)" dominant-baseline="central">20</text>
<text x="226.03" y="53.76" font-size="7.6" text-anchor="middle" fill="#222" stroke="#222" stroke-width="0.35" transform="rotate(-10.75 226.03 53.76)" dominant-baseline="central">0</text>
<text x="260.76" y="50.06" font-size="7.6" text-anchor="middle" fill="#222" stroke="#222" stroke-width="0.35" transform="rotate(-1.4 260.76 50.06)" dominant-baseline="central">10</text>
<text x="283.93" y="50.75" font-size="7.6" text-anchor="middle" fill="#222" stroke="#222" stroke-width="0.35" transform="rotate(4.8 283.93 50.75)" dominant-baseline="central">0</text>
<text x="318.39" y="56.5" font-size="7.6" text-anchor="middle" fill="#222" stroke="#222" stroke-width="0.35" transform="rotate(14.15 318.39 56.5)" dominant-baseline="central">10</text>
<text x="329.01" y="59.47" font-size="7.6" text-anchor="middle" fill="#222" stroke="#222" stroke-width="0.35" transform="rotate(17.1 329.01 59.47)" dominant-baseline="central">0</text>
<text x="361.45" y="72.43" font-size="7.6" text-anchor="middle" fill="#222" stroke="#222" stroke-width="0.35" transform="rotate(26.45 361.45 72.43)" dominant-baseline="central">10</text>
<text x="383.34" y="84.98" font-size="7.6" text-anchor="middle" fill="#222" stroke="#222" stroke-width="0.35" transform="rotate(33.2 383.34 84.98)" dominant-baseline="central">0</text>
<text x="410.92" y="106.43" font-size="7.6" text-anchor="middle" fill="#222" stroke="#222" stroke-width="0.35" transform="rotate(42.55 410.92 106.43)" dominant-baseline="central">10</text>
<text x="434.64" y="132.07" font-size="7.6" text-anchor="middle" fill="#222" stroke="#222" stroke-width="0.35" transform="rotate(51.9 434.64 132.07)" dominant-baseline="central">20</text>
<text x="440.25" y="139.55" font-size="7.6" text-anchor="middle" fill="#222" stroke="#222" stroke-width="0.35" transform="rotate(54.4 440.25 139.55)" dominant-baseline="central">0</text>
<text x="458.2" y="169.52" font-size="7.6" text-anchor="middle" fill="#222" stroke="#222" stroke-width="0.35" transform="rotate(63.75 458.2 169.52)" dominant-baseline="central">10</text>
<text x="463.26" y="180.57" font-size="7.6" text-anchor="middle" fill="#222" stroke="#222" stroke-width="0.35" transform="rotate(67 463.26 180.57)" dominant-baseline="central">0</text>
<text x="474.25" y="213.73" font-size="7.6" text-anchor="middle" fill="#222" stroke="#222" stroke-width="0.35" transform="rotate(76.35 474.25 213.73)" dominant-baseline="central">10</text>
<text x="479.7" y="248.23" font-size="7.6" text-anchor="middle" fill="#222" stroke="#222" stroke-width="0.35" transform="rotate(85.7 479.7 248.23)" dominant-baseline="central">20</text>
<path d="M470 264.3L475.8 264.3M469.89 270.96L472.59 271.05M469.57 277.61L472.26 277.78M469.02 284.24L471.71 284.51M468.26 290.86L470.94 291.21M467.29 297.44L473.01 298.39M466.1 303.99L468.75 304.52M464.7 310.5L467.33 311.11M463.09 316.96L465.69 317.66M461.26 323.36L463.85 324.15M459.23 329.71L464.72 331.56M456.99 335.98L459.52 336.92M454.33 342.7L459.69 344.93M451.68 348.8L454.13 349.92M448.82 354.81L451.24 356.01M445.77 360.73L448.15 362.01M442.53 366.55L444.86 367.9M439.1 372.25L444.02 375.32M435.48 377.84L437.72 379.35M431.69 383.31L433.88 384.89M427.71 388.66L429.85 390.3M423.57 393.87L425.66 395.58M416.88 401.59L421.17 405.5M412.32 406.45L414.26 408.33M407.61 411.14L409.48 413.09M402.74 415.69L404.55 417.69M397.73 420.07L399.47 422.13M392.57 424.28L396.17 428.83M387.29 428.33L388.89 430.5M381.87 432.2L383.4 434.42M376.33 435.89L377.79 438.16M370.67 439.4L372.06 441.72M364.9 442.72L367.71 447.8M359.03 445.85L360.26 448.26M353.05 448.79L354.2 451.24M346.99 451.54L348.06 454.01M340.83 454.08L341.82 456.59M335.77 456L337.76 461.45M329.48 458.17L330.32 460.74M323.12 460.14L323.88 462.73M316.7 461.9L317.37 464.52M310.22 463.45L310.81 466.08M303.7 464.79L304.77 470.49M297.14 465.91L297.55 468.58M290.54 466.82L290.87 469.5M283.92 467.51L284.16 470.2M277.28 467.99L277.43 470.68M270.63 468.25L270.76 474.05M263.97 468.29L263.94 470.99M258.88 468.18L258.68 473.97M252.23 467.83L252.05 470.53M245.6 467.28L245.33 469.96M238.98 466.5L238.63 469.18M232.4 465.51L231.96 468.18M225.85 464.31L224.71 470M219.35 462.89L218.73 465.52M209.77 460.4L208.17 465.97M203.4 458.46L202.57 461.03M197.1 456.31L196.19 458.85M190.87 453.96L189.88 456.47M184.72 451.41L183.64 453.89M178.66 448.66L176.17 453.9M172.69 445.71L171.45 448.11M164.31 441.15L161.42 446.17M158.59 437.73L157.17 440.03M152.99 434.14L151.49 436.38M147.51 430.36L145.94 432.56M142.15 426.4L140.51 428.55M136.93 422.28L133.26 426.77M129.23 415.66L125.34 419.97M124.37 411.12L122.49 413.06M119.65 406.42L117.71 408.3M115.09 401.57L113.09 403.39M110.69 396.57L108.64 398.32M106.46 391.43L101.92 395.05M102.4 386.16L100.23 387.77M98.51 380.75L96.29 382.3M93.57 373.31L88.66 376.41M90.1 367.62L87.77 368.99M86.82 361.83L84.45 363.12M83.74 355.93L81.32 357.14M80.84 349.93L78.39 351.07M78.15 343.85L72.81 346.11M75.65 337.67L73.13 338.64M73.36 331.42L70.81 332.31M70.3 321.9L64.74 323.54M68.52 315.48L65.91 316.16M66.96 309.01L64.33 309.6M65.61 302.49L62.95 303M64.47 295.93L61.8 296.35M63.54 289.34L57.79 290.05M62.83 282.72L60.14 282.96M62.34 276.08L59.64 276.23M62.06 269.43L59.37 269.49M62.02 261.45L56.22 261.37M62.22 254.8L59.52 254.67M62.64 248.15L59.95 247.94M63.28 241.52L60.59 241.22M64.13 234.92L61.45 234.53M65.19 228.35L59.48 227.33M66.47 221.82L63.83 221.25M67.97 215.33L65.34 214.68M69.67 208.89L67.07 208.16M71.58 202.51L69.01 201.7M73.7 196.2L68.23 194.27M77.67 185.9L72.31 183.67M80.32 179.8L77.87 178.68M83.18 173.79L80.76 172.59M86.23 167.87L83.85 166.59M89.47 162.05L87.14 160.7M92.9 156.35L87.98 153.28M96.52 150.76L94.28 149.25M100.31 145.29L98.12 143.71M104.29 139.94L102.15 138.3M109.27 133.72L104.81 130M113.61 128.67L111.6 126.88M118.12 123.77L116.16 121.91M122.79 119.02L120.89 117.1M127.6 114.43L125.77 112.44M132.57 109.99L128.77 105.6M137.67 105.72L135.98 103.62M142.92 101.61L141.29 99.46M148.29 97.68L146.73 95.48M154 93.8L150.82 88.95M159.62 90.23L158.21 87.93M165.36 86.85L164.03 84.5M171.2 83.66L169.95 81.27M177.15 80.67L175.97 78.24M183.19 77.86L180.83 72.56M189.32 75.26L188.3 72.76M195.53 72.86L194.59 70.33M201.81 70.66L200.96 68.1M208.16 68.67L207.4 66.08M214.58 66.89L213.12 61.27M221.05 65.31L220.45 62.68M227.95 63.88L226.87 58.18M234.51 62.75L234.09 60.08M241.1 61.82L240.77 59.15M247.72 61.12L247.48 58.43M254.36 60.63L254.21 57.94M261.02 60.36L260.87 54.56M267.67 60.31L267.7 57.61M274.33 60.47L274.44 57.77M283.07 61.02L283.56 55.24M289.69 61.68L290.01 59M296.29 62.56L296.69 59.89M302.86 63.66L303.35 61M309.39 64.97L309.96 62.33M315.87 66.49L317.29 60.87M325.98 69.32L327.69 63.77M332.31 71.38L333.19 68.83M338.57 73.65L339.54 71.12M344.76 76.12L345.8 73.63M350.86 78.79L351.98 76.33M356.86 81.65L359.45 76.46M362.78 84.72L364.06 82.34M368.59 87.97L369.94 85.64M377.7 93.6L380.88 88.75M383.21 97.34L384.77 95.13M388.6 101.25L390.22 99.09M393.85 105.34L395.55 103.23M398.97 109.59L400.73 107.55M403.95 114.02L407.87 109.74M408.78 118.6L410.67 116.67M413.46 123.33L415.41 121.47M417.98 128.22L419.99 126.42M422.34 133.25L424.41 131.52M426.53 138.42L431.1 134.85M431.87 145.55L436.59 142.17M435.66 151.02L437.9 149.52M439.27 156.62L441.56 155.19M442.69 162.33L445.03 160.98M445.92 168.15L448.3 166.88M448.96 174.07L454.16 171.51M451.81 180.09L454.27 178.98M453.78 184.59L459.12 182.32M456.28 190.76L458.8 189.79M458.58 197.01L461.13 196.12M460.68 203.33L463.25 202.52M462.56 209.71L465.16 208.99M464.24 216.16L469.87 214.79M465.7 222.65L468.35 222.1M466.96 229.19L469.62 228.73M467.99 235.77L470.67 235.39M468.82 242.37L471.5 242.08M469.43 249L475.21 248.57M469.82 255.65L472.51 255.54" stroke="#4a4a4a" stroke-width="0.9" fill="none"/>
<text x="493.32" y="301.75" font-size="17.5" font-weight="bold" text-anchor="middle" stroke="#000" stroke-width="0.35" transform="rotate(-79.55 493.32 301.75)" dominant-baseline="central">Chr01</text>
<text x="464.79" y="382.47" font-size="17.5" font-weight="bold" text-anchor="middle" stroke="#000" stroke-width="0.35" transform="rotate(-58.4 464.79 382.47)" dominant-baseline="central">Chr02</text>
<text x="401.81" y="452.43" font-size="17.5" font-weight="bold" text-anchor="middle" stroke="#000" stroke-width="0.35" transform="rotate(-34.4 401.81 452.43)" dominant-baseline="central">Chr03</text>
<text x="305.02" y="492.37" font-size="17.5" font-weight="bold" text-anchor="middle" stroke="#000" stroke-width="0.35" transform="rotate(-9.65 305.02 492.37)" dominant-baseline="central">Chr04</text>
<text x="233.89" y="493.81" font-size="17.5" font-weight="bold" text-anchor="middle" stroke="#000" stroke-width="0.35" transform="rotate(8.3 233.89 493.81)" dominant-baseline="central">Chr05</text>
<text x="180.17" y="478.72" font-size="17.5" font-weight="bold" text-anchor="middle" stroke="#000" stroke-width="0.35" transform="rotate(22.25 180.17 478.72)" dominant-baseline="central">Chr06</text>
<text x="133.61" y="453.09" font-size="17.5" font-weight="bold" text-anchor="middle" stroke="#000" stroke-width="0.35" transform="rotate(35.25 133.61 453.09)" dominant-baseline="central">Chr07</text>
<text x="90.96" y="414.03" font-size="17.5" font-weight="bold" text-anchor="middle" stroke="#000" stroke-width="0.35" transform="rotate(48.95 90.96 414.03)" dominant-baseline="central">Chr08</text>
<text x="57.01" y="363.3" font-size="17.5" font-weight="bold" text-anchor="middle" stroke="#000" stroke-width="0.35" transform="rotate(64.85 57.01 363.3)" dominant-baseline="central">Chr09</text>
<text x="41.8" y="300.6" font-size="17.5" font-weight="bold" text-anchor="middle" stroke="#000" stroke-width="0.35" transform="rotate(81.5 41.8 300.6)" dominant-baseline="central">Chr10</text>
<text x="42.11" y="214.99" font-size="17.5" font-weight="bold" text-anchor="middle" stroke="#000" stroke-width="0.35" transform="rotate(-79.1 42.11 214.99)" dominant-baseline="central">Chr11</text>
<text x="71.75" y="143.9" font-size="17.5" font-weight="bold" text-anchor="middle" stroke="#000" stroke-width="0.35" transform="rotate(-59.65 71.75 143.9)" dominant-baseline="central">Chr12</text>
<text x="114.42" y="92.44" font-size="17.5" font-weight="bold" text-anchor="middle" stroke="#000" stroke-width="0.35" transform="rotate(-42.55 114.42 92.44)" dominant-baseline="central">Chr13</text>
<text x="178.76" y="52.89" font-size="17.5" font-weight="bold" text-anchor="middle" stroke="#000" stroke-width="0.35" transform="rotate(-22.85 178.76 52.89)" dominant-baseline="central">Chr14</text>
<text x="251.98" y="36.73" font-size="17.5" font-weight="bold" text-anchor="middle" stroke="#000" stroke-width="0.35" transform="rotate(-3.52 251.98 36.73)" dominant-baseline="central">Chr15</text>
<text x="310.47" y="40.74" font-size="17.5" font-weight="bold" text-anchor="middle" stroke="#000" stroke-width="0.35" transform="rotate(10.25 310.47 40.74)" dominant-baseline="central">Chr16</text>
<text x="365.11" y="56.58" font-size="17.5" font-weight="bold" text-anchor="middle" stroke="#000" stroke-width="0.35" transform="rotate(24.35 365.11 56.58)" dominant-baseline="central">Chr17</text>
<text x="425.6" y="97.28" font-size="17.5" font-weight="bold" text-anchor="middle" stroke="#000" stroke-width="0.35" transform="rotate(42.9 425.6 97.28)" dominant-baseline="central">Chr18</text>
<text x="468.85" y="150.82" font-size="17.5" font-weight="bold" text-anchor="middle" stroke="#000" stroke-width="0.35" transform="rotate(60.15 468.85 150.82)" dominant-baseline="central">Chr19</text>
<text x="491.43" y="221.21" font-size="17.5" font-weight="bold" text-anchor="middle" stroke="#000" stroke-width="0.35" transform="rotate(77.9 491.43 221.21)" dominant-baseline="central">Chr20</text>
</g>
<g transform="translate(767.1 261.2) scale(0.99 1)">
<path d="M0 20.62A20.62 20.62 0 0 1 -0 -20.62M0 41.24A41.24 41.24 0 0 1 -0 -41.24M0 61.86A61.86 61.86 0 0 1 -0 -61.86M0 82.48A82.48 82.48 0 0 1 -0 -82.48M0 103.1A103.1 103.1 0 0 1 -0 -103.1M0 123.72A123.72 123.72 0 0 1 -0 -123.72M0 144.34A144.34 144.34 0 0 1 -0 -144.34M0 164.96A164.96 164.96 0 0 1 -0 -164.96M0 185.58A185.58 185.58 0 0 1 -0 -185.58M0 206.2A206.2 206.2 0 0 1 -0 -206.2M0 0L-121.2 166.82M0 0L-196.11 63.72M0 0L-196.11 -63.72M0 0L-121.2 -166.82" fill="none" stroke="#a0a0a0" stroke-width="0.9"/>
<path d="M0 17.31A17.31 17.31 0 0 1 -5.23 16.5L-1 3.16A3.31 3.31 0 0 0 0 3.31Z" fill="#D2404E"/>
<path d="M0 37.93A37.93 37.93 0 0 1 -0.93 37.92L-0.58 23.92A23.93 23.93 0 0 0 0 23.93Z" fill="#9A9A9A"/>
<path d="M0 58.55A58.55 58.55 0 0 1 -2.04 58.51L-1.55 44.52A44.55 44.55 0 0 0 0 44.55Z" fill="#555555"/>
<path d="M0 79.17A79.17 79.17 0 0 1 -7.31 78.83L-6.02 64.89A65.17 65.17 0 0 0 0 65.17Z" fill="#F57A6E"/>
<path d="M0 99.79A99.79 99.79 0 0 1 -15.61 98.56L-13.42 84.73A85.79 85.79 0 0 0 0 85.79Z" fill="#7FC97F"/>
<path d="M0 120.41A120.41 120.41 0 0 1 -43.15 112.41L-38.13 99.34A106.41 106.41 0 0 0 0 106.41Z" fill="#BEAED4"/>
<path d="M0 141.03A141.03 141.03 0 0 1 -83.49 -113.66L-75.2 -102.38A127.03 127.03 0 0 0 0 127.03Z" fill="#F9B87C"/>
<path d="M0 161.65A161.65 161.65 0 0 1 -133.06 91.79L-121.54 83.84A147.65 147.65 0 0 0 0 147.65Z" fill="#386CB0"/>
<path d="M0 182.27A182.27 182.27 0 0 1 -178.42 37.27L-164.71 34.41A168.27 168.27 0 0 0 0 168.27Z" fill="#FFB6C1"/>
<path d="M0 202.89A202.89 202.89 0 0 1 -60.33 193.71L-56.17 180.34A188.89 188.89 0 0 0 0 188.89Z" fill="#BF5B17"/>
</g>
<g transform="translate(786.2 261.2) scale(0.99 1)">
<path d="M0 -20.62A20.62 20.62 0 0 1 0 20.62M0 -41.24A41.24 41.24 0 0 1 0 41.24M0 -61.86A61.86 61.86 0 0 1 0 61.86M0 -82.48A82.48 82.48 0 0 1 0 82.48M0 -103.1A103.1 103.1 0 0 1 0 103.1M0 -123.72A123.72 123.72 0 0 1 0 123.72M0 -144.34A144.34 144.34 0 0 1 0 144.34M0 -164.96A164.96 164.96 0 0 1 0 164.96M0 -185.58A185.58 185.58 0 0 1 0 185.58M0 -206.2A206.2 206.2 0 0 1 0 206.2M0 0L121.2 -166.82M0 0L196.11 -63.72M0 0L196.11 63.72M0 0L121.2 166.82" fill="none" stroke="#a0a0a0" stroke-width="0.9"/>
<path d="M0 -202.89A202.89 202.89 0 0 1 195.98 52.51L182.45 48.89A188.89 188.89 0 0 0 0 -188.89Z" fill="#FF6600"/>
<path d="M0 -182.27A182.27 182.27 0 0 1 180.08 28.2L166.24 26.03A168.27 168.27 0 0 0 0 -168.27Z" fill="#FFD700"/>
<path d="M0 -161.65A161.65 161.65 0 0 1 50.49 153.56L46.12 140.26A147.65 147.65 0 0 0 0 -147.65Z" fill="#009966"/>
<path d="M0 -141.03A141.03 141.03 0 0 1 139.52 -20.6L125.67 -18.56A127.03 127.03 0 0 0 0 -127.03Z" fill="#FF6666"/>
<path d="M0 -120.41A120.41 120.41 0 0 1 73.8 -95.14L65.22 -84.08A106.41 106.41 0 0 0 0 -106.41Z" fill="#666600"/>
<path d="M0 -99.79A99.79 99.79 0 0 1 41.54 -90.73L35.71 -78A85.79 85.79 0 0 0 0 -85.79Z" fill="#CCFFCC"/>
<path d="M0 -79.17A79.17 79.17 0 0 1 38.02 -69.44L31.3 -57.16A65.17 65.17 0 0 0 0 -65.17Z" fill="#669933"/>
<path d="M0 -58.55A58.55 58.55 0 0 1 11.37 -57.43L8.65 -43.7A44.55 44.55 0 0 0 0 -44.55Z" fill="#339966"/>
<path d="M0 -37.93A37.93 37.93 0 0 1 10.77 -36.37L6.8 -22.94A23.93 23.93 0 0 0 0 -23.93Z" fill="#FFAA33"/>
<path d="M0 -17.31A17.31 17.31 0 0 1 8.65 -14.99L1.66 -2.87A3.31 3.31 0 0 0 0 -3.31Z" fill="#99CC66"/>
</g>
<text x="785.4" y="256.09" font-size="14.7" text-anchor="end" fill="#62923A" stroke="#62923A" stroke-width="0.35">99</text>
<text x="785.4" y="235.47" font-size="14.7" text-anchor="end" fill="#62923A" stroke="#62923A" stroke-width="0.35">98</text>
<text x="785.4" y="214.85" font-size="14.7" text-anchor="end" fill="#62923A" stroke="#62923A" stroke-width="0.35">97</text>
<text x="785.4" y="194.23" font-size="14.7" text-anchor="end" fill="#62923A" stroke="#62923A" stroke-width="0.35">96</text>
<text x="785.4" y="173.61" font-size="14.7" text-anchor="end" fill="#62923A" stroke="#62923A" stroke-width="0.35">95</text>
<text x="785.4" y="152.99" font-size="14.7" text-anchor="end" fill="#62923A" stroke="#62923A" stroke-width="0.35">94</text>
<text x="785.4" y="132.37" font-size="14.7" text-anchor="end" fill="#62923A" stroke="#62923A" stroke-width="0.35">93</text>
<text x="785.4" y="111.75" font-size="14.7" text-anchor="end" fill="#62923A" stroke="#62923A" stroke-width="0.35">92</text>
<text x="785.4" y="91.13" font-size="14.7" text-anchor="end" fill="#62923A" stroke="#62923A" stroke-width="0.35">91</text>
<text x="785.4" y="70.51" font-size="14.7" text-anchor="end" fill="#62923A" stroke="#62923A" stroke-width="0.35">90</text>
<text x="769.3" y="276.71" font-size="14.7" stroke="#000" stroke-width="0.35">1</text>
<text x="769.3" y="297.33" font-size="14.7" stroke="#000" stroke-width="0.35">2</text>
<text x="769.3" y="317.95" font-size="14.7" stroke="#000" stroke-width="0.35">3</text>
<text x="769.3" y="338.57" font-size="14.7" stroke="#000" stroke-width="0.35">4</text>
<text x="769.3" y="359.19" font-size="14.7" stroke="#000" stroke-width="0.35">5</text>
<text x="769.3" y="379.81" font-size="14.7" stroke="#000" stroke-width="0.35">6</text>
<text x="769.3" y="400.43" font-size="14.7" stroke="#000" stroke-width="0.35">7</text>
<text x="769.3" y="421.05" font-size="14.7" stroke="#000" stroke-width="0.35">8</text>
<text x="769.3" y="441.67" font-size="14.7" stroke="#000" stroke-width="0.35">9</text>
<text x="769.3" y="462.29" font-size="14.7" stroke="#000" stroke-width="0.35">10</text>
<text x="745.7" y="51.49" font-size="17" font-weight="bold" text-anchor="middle" stroke="#000" stroke-width="0.35">2000</text>
<text x="629.6" y="92.49" font-size="17" font-weight="bold" text-anchor="middle" stroke="#000" stroke-width="0.35">1600</text>
<text x="552.3" y="200.29" font-size="17" font-weight="bold" text-anchor="middle" stroke="#000" stroke-width="0.35">1200</text>
<text x="552.9" y="334.89" font-size="17" font-weight="bold" text-anchor="middle" stroke="#000" stroke-width="0.35">800</text>
<text x="632" y="442.09" font-size="17" font-weight="bold" text-anchor="middle" stroke="#000" stroke-width="0.35">400</text>
<text x="759.8" y="484.49" font-size="17" font-weight="bold" text-anchor="middle" stroke="#000" stroke-width="0.35">0</text>
<text x="791" y="52.09" font-size="17" font-weight="bold" text-anchor="middle" fill="#62923A" stroke="#62923A" stroke-width="0.35">0</text>
<text x="915.6" y="90.89" font-size="17" font-weight="bold" text-anchor="middle" fill="#62923A" stroke="#62923A" stroke-width="0.35">120</text>
<text x="999.8" y="202.29" font-size="17" font-weight="bold" text-anchor="middle" fill="#62923A" stroke="#62923A" stroke-width="0.35">240</text>
<text x="997.9" y="333.49" font-size="17" font-weight="bold" text-anchor="middle" fill="#62923A" stroke="#62923A" stroke-width="0.35">360</text>
<text x="920.7" y="441.49" font-size="17" font-weight="bold" text-anchor="middle" fill="#62923A" stroke="#62923A" stroke-width="0.35">480</text>
<text x="800.8" y="484.19" font-size="17" font-weight="bold" text-anchor="middle" fill="#62923A" stroke="#62923A" stroke-width="0.35">600</text>
<text x="777.4" y="55.6" font-size="15" text-anchor="middle" fill="#62923A" stroke="#62923A" stroke-width="0.35">%</text>
<text x="776.5" y="482" font-size="14.7" text-anchor="middle" stroke="#000" stroke-width="0.35">kb</text>
<rect x="259.2" y="540.2" width="60.5" height="14.9" fill="#FF6600"/>
<rect x="259.2" y="565.88" width="157" height="14.9" fill="#FFD700"/>
<rect x="259.2" y="591.56" width="192.9" height="14.9" fill="#009966"/>
<rect x="259.2" y="617.24" width="69.8" height="14.9" fill="#FF6666"/>
<rect x="259.2" y="642.92" width="69.8" height="14.9" fill="#666600"/>
<rect x="259.2" y="668.6" width="78.1" height="14.9" fill="#CCFFCC"/>
<rect x="256.9" y="532.4" width="214.6" height="158.9" fill="none" stroke="#555555" stroke-width="1.1"/>
<path d="M253.9 547.65H256.9M253.9 573.33H256.9M253.9 599.01H256.9M253.9 624.69H256.9M253.9 650.37H256.9M253.9 676.05H256.9M259.2 691.3V694.3M302.8 691.3V694.3M346.4 691.3V694.3M390 691.3V694.3M433.6 691.3V694.3" stroke="#555555" stroke-width="1" fill="none"/>
<text x="0" y="0" font-size="17.28" text-anchor="middle" fill="#1a1a1a" stroke="#1a1a1a" stroke-width="0.35" transform="translate(259.2 707.8) scale(0.9434 1)">0</text>
<text x="0" y="0" font-size="17.28" text-anchor="middle" fill="#1a1a1a" stroke="#1a1a1a" stroke-width="0.35" transform="translate(302.8 707.8) scale(0.9434 1)">10</text>
<text x="0" y="0" font-size="17.28" text-anchor="middle" fill="#1a1a1a" stroke="#1a1a1a" stroke-width="0.35" transform="translate(346.4 707.8) scale(0.9434 1)">20</text>
<text x="0" y="0" font-size="17.28" text-anchor="middle" fill="#1a1a1a" stroke="#1a1a1a" stroke-width="0.35" transform="translate(390 707.8) scale(0.9434 1)">30</text>
<text x="0" y="0" font-size="17.28" text-anchor="middle" fill="#1a1a1a" stroke="#1a1a1a" stroke-width="0.35" transform="translate(433.6 707.8) scale(0.9434 1)">40</text>
<text x="0" y="0" font-size="17.28" text-anchor="end" fill="#1a1a1a" stroke="#1a1a1a" stroke-width="0.35" transform="translate(251.6 550.75) scale(0.9434 1)">Selenocompound metabolism</text>
<text x="0" y="0" font-size="17.28" text-anchor="end" fill="#1a1a1a" stroke="#1a1a1a" stroke-width="0.35" transform="translate(251.6 576.43) scale(0.9434 1)">Phenylalanine metabolism</text>
<text x="0" y="0" font-size="17.28" text-anchor="end" fill="#1a1a1a" stroke="#1a1a1a" stroke-width="0.35" transform="translate(251.6 602.11) scale(0.9434 1)">Porphyrin metabolism</text>
<text x="0" y="0" font-size="17.28" text-anchor="end" fill="#1a1a1a" stroke="#1a1a1a" stroke-width="0.35" transform="translate(251.6 627.79) scale(0.9434 1)">MAPK signaling pathway-plant</text>
<text x="0" y="0" font-size="17.28" text-anchor="end" fill="#1a1a1a" stroke="#1a1a1a" stroke-width="0.35" transform="translate(251.6 653.47) scale(0.9434 1)">Plant hormone signal transduction</text>
<text x="0" y="0" font-size="17.28" text-anchor="end" fill="#1a1a1a" stroke="#1a1a1a" stroke-width="0.35" transform="translate(251.6 679.15) scale(0.9434 1)">Plant-pathogen interaction</text>
<text x="356.7" y="529.4" font-size="19" font-weight="bold" text-anchor="middle" stroke="#000" stroke-width="0.35">HZAU</text>
<rect x="260.2" y="738.8" width="16" height="16.8" fill="#FF6600"/>
<rect x="260.2" y="767.18" width="31.1" height="16.8" fill="#FFD700"/>
<rect x="260.2" y="795.56" width="192.1" height="16.8" fill="#009966"/>
<rect x="260.2" y="823.94" width="24.8" height="16.8" fill="#FF6666"/>
<rect x="260.2" y="852.32" width="9.8" height="16.8" fill="#CCFFCC"/>
<rect x="260.2" y="880.7" width="12.4" height="16.8" fill="#669933"/>
<rect x="258.1" y="729.8" width="214.1" height="176.5" fill="none" stroke="#555555" stroke-width="1.1"/>
<path d="M255.1 747.2H258.1M255.1 775.58H258.1M255.1 803.96H258.1M255.1 832.34H258.1M255.1 860.72H258.1M255.1 889.1H258.1M260.1 906.3V909.3M312.4 906.3V909.3M365 906.3V909.3M417.3 906.3V909.3M462.3 906.3V909.3" stroke="#555555" stroke-width="1" fill="none"/>
<text x="0" y="0" font-size="17.28" text-anchor="middle" fill="#1a1a1a" stroke="#1a1a1a" stroke-width="0.35" transform="translate(259.9 925.6) scale(0.9434 1)">0</text>
<text x="0" y="0" font-size="17.28" text-anchor="middle" fill="#1a1a1a" stroke="#1a1a1a" stroke-width="0.35" transform="translate(314.9 925.6) scale(0.9434 1)">200</text>
<text x="0" y="0" font-size="17.28" text-anchor="middle" fill="#1a1a1a" stroke="#1a1a1a" stroke-width="0.35" transform="translate(363.7 925.6) scale(0.9434 1)">400</text>
<text x="0" y="0" font-size="17.28" text-anchor="middle" fill="#1a1a1a" stroke="#1a1a1a" stroke-width="0.35" transform="translate(417.3 925.6) scale(0.9434 1)">600</text>
<text x="0" y="0" font-size="17.28" text-anchor="middle" fill="#1a1a1a" stroke="#1a1a1a" stroke-width="0.35" transform="translate(463.4 925.6) scale(0.9434 1)">800</text>
<text x="0" y="0" font-size="17.28" text-anchor="end" fill="#1a1a1a" stroke="#1a1a1a" stroke-width="0.35" transform="translate(251 751.2) scale(0.9434 1)">Starch and sucrose metabolism</text>
<text x="0" y="0" font-size="17.28" text-anchor="end" fill="#1a1a1a" stroke="#1a1a1a" stroke-width="0.35" transform="translate(251 779.58) scale(0.9434 1)">Diterpenoid biosynthesis</text>
<text x="0" y="0" font-size="17.28" text-anchor="end" fill="#1a1a1a" stroke="#1a1a1a" stroke-width="0.35" transform="translate(251 808.36) scale(0.9434 1)">Exosome</text>
<text x="0" y="0" font-size="17.28" text-anchor="end" fill="#1a1a1a" stroke="#1a1a1a" stroke-width="0.35" transform="translate(251 836.3) scale(0.9434 1)">Glycolysis / Gluconeogenesis</text>
<text x="0" y="0" font-size="17.28" fill="#1a1a1a" stroke="#1a1a1a" stroke-width="0.35" transform="translate(35.6 863.9) scale(0.9434 1)">DNA repair and recombination</text>
<text x="0" y="0" font-size="17.28" fill="#1a1a1a" stroke="#1a1a1a" stroke-width="0.35" transform="translate(35.6 879) scale(0.9434 1)">proteins</text>
<text x="0" y="0" font-size="17.28" text-anchor="end" fill="#1a1a1a" stroke="#1a1a1a" stroke-width="0.35" transform="translate(251 897.3) scale(0.9434 1)">Cell cycle</text>
<text x="355.9" y="727.3" font-size="19" font-weight="bold" font-style="italic" text-anchor="middle" stroke="#000" stroke-width="0.35">Cucumis melo</text>
<text x="362.4" y="946.2" font-size="16.6" font-weight="bold" text-anchor="middle" stroke="#000" stroke-width="0.35">Gene count</text>
<rect x="796.8" y="542.7" width="55.1" height="16.5" fill="#FF6600"/>
<rect x="794.8" y="531" width="211.5" height="40.6" fill="none" stroke="#555555" stroke-width="1.1"/>
<path d="M791.8 550.95H794.8M796.8 571.6V574.6M851.9 571.6V574.6M906.8 571.6V574.6M962.6 571.6V574.6" stroke="#555555" stroke-width="1" fill="none"/>
<text x="0" y="0" font-size="18.23" text-anchor="middle" fill="#1a1a1a" stroke="#1a1a1a" stroke-width="0.35" transform="translate(797.1 590.3) scale(0.9434 1)">0</text>
<text x="0" y="0" font-size="18.23" text-anchor="middle" fill="#1a1a1a" stroke="#1a1a1a" stroke-width="0.35" transform="translate(852.4 590.3) scale(0.9434 1)">3</text>
<text x="0" y="0" font-size="18.23" text-anchor="middle" fill="#1a1a1a" stroke="#1a1a1a" stroke-width="0.35" transform="translate(907.3 590.3) scale(0.9434 1)">6</text>
<text x="0" y="0" font-size="18.23" text-anchor="middle" fill="#1a1a1a" stroke="#1a1a1a" stroke-width="0.35" transform="translate(962.9 590.3) scale(0.9434 1)">9</text>
<text x="0" y="0" font-size="17.91" text-anchor="end" fill="#1a1a1a" stroke="#1a1a1a" stroke-width="0.35" transform="translate(789 556.2) scale(0.9434 1)">Galactose metabolism</text>
<text x="895.4" y="524.2" font-size="19" font-weight="bold" font-style="italic" text-anchor="middle" stroke="#000" stroke-width="0.35">Citrullus lanatus</text>
<rect x="797.9" y="646" width="19.9" height="16.8" fill="#FF6600"/>
<rect x="797.9" y="674.7" width="38.8" height="16.8" fill="#FFD700"/>
<rect x="797.9" y="703.4" width="13.9" height="16.8" fill="#009966"/>
<rect x="797.9" y="732.1" width="188.8" height="16.8" fill="#FF6666"/>
<rect x="797.9" y="760.8" width="16.4" height="16.8" fill="#666600"/>
<rect x="797.9" y="789.5" width="45.7" height="16.8" fill="#CCFFCC"/>
<rect x="796.2" y="631.1" width="209.9" height="182.1" fill="none" stroke="#555555" stroke-width="1.1"/>
<path d="M793.2 654.4H796.2M793.2 683.1H796.2M793.2 711.8H796.2M793.2 740.5H796.2M793.2 769.2H796.2M793.2 797.9H796.2M797.9 813.2V816.2M867.2 813.2V816.2M936.5 813.2V816.2" stroke="#555555" stroke-width="1" fill="none"/>
<text x="0" y="0" font-size="18.23" text-anchor="middle" fill="#1a1a1a" stroke="#1a1a1a" stroke-width="0.35" transform="translate(798.1 831.3) scale(0.9434 1)">0</text>
<text x="0" y="0" font-size="18.23" text-anchor="middle" fill="#1a1a1a" stroke="#1a1a1a" stroke-width="0.35" transform="translate(871.9 831.3) scale(0.9434 1)">100</text>
<text x="0" y="0" font-size="18.23" text-anchor="middle" fill="#1a1a1a" stroke="#1a1a1a" stroke-width="0.35" transform="translate(942 831.3) scale(0.9434 1)">200</text>
<text x="0" y="0" font-size="17.91" text-anchor="end" fill="#1a1a1a" stroke="#1a1a1a" stroke-width="0.35" transform="translate(790.1 660.4) scale(0.9434 1)">Pentose phosphate pathway</text>
<text x="0" y="0" font-size="18.02" text-anchor="end" fill="#1a1a1a" stroke="#1a1a1a" stroke-width="0.35" transform="translate(791.1 688.6) scale(0.9434 1)">Methane metabolism</text>
<text x="0" y="0" font-size="17.86" text-anchor="end" fill="#1a1a1a" stroke="#1a1a1a" stroke-width="0.35" transform="translate(790.3 715.6) scale(0.9434 1)">Translation factor</text>
<text x="0" y="0" font-size="17.91" text-anchor="end" fill="#1a1a1a" stroke="#1a1a1a" stroke-width="0.35" transform="translate(790.3 745) scale(0.9434 1)">MAPK signaling pathway-plant</text>
<text x="0" y="0" font-size="17.28" fill="#1a1a1a" stroke="#1a1a1a" stroke-width="0.35" transform="translate(586.8 768) scale(0.9434 1)">Domain-containing proteins</text>
<text x="0" y="0" font-size="17.13" fill="#1a1a1a" stroke="#1a1a1a" stroke-width="0.35" transform="translate(587 785.5) scale(0.9434 1)">not else where classified</text>
<text x="0" y="0" font-size="17.91" text-anchor="end" fill="#1a1a1a" stroke="#1a1a1a" stroke-width="0.35" transform="translate(793.1 806.2) scale(0.9434 1)">Plant-pathogen interaction</text>
<text x="896" y="624.9" font-size="19" font-weight="bold" font-style="italic" text-anchor="middle" stroke="#000" stroke-width="0.35">Cucurbita pepo</text>
<rect x="798.6" y="882" width="192" height="17.1" fill="#FF6600"/>
<rect x="796.2" y="866.9" width="210.2" height="40.5" fill="none" stroke="#555555" stroke-width="1.1"/>
<path d="M793.2 890.55H796.2M796.2 907.4V910.4M867.4 907.4V910.4M937.3 907.4V910.4M1007.5 907.4V910.4" stroke="#555555" stroke-width="1" fill="none"/>
<text x="0" y="0" font-size="18.23" text-anchor="middle" fill="#1a1a1a" stroke="#1a1a1a" stroke-width="0.35" transform="translate(796.2 925.4) scale(0.9434 1)">0</text>
<text x="0" y="0" font-size="18.23" text-anchor="middle" fill="#1a1a1a" stroke="#1a1a1a" stroke-width="0.35" transform="translate(867.4 925.4) scale(0.9434 1)">5</text>
<text x="0" y="0" font-size="18.23" text-anchor="middle" fill="#1a1a1a" stroke="#1a1a1a" stroke-width="0.35" transform="translate(937.3 925.4) scale(0.9434 1)">10</text>
<text x="0" y="0" font-size="18.23" text-anchor="middle" fill="#1a1a1a" stroke="#1a1a1a" stroke-width="0.35" transform="translate(1007.5 925.4) scale(0.9434 1)">15</text>
<text x="0" y="0" font-size="17.79" text-anchor="end" fill="#1a1a1a" stroke="#1a1a1a" stroke-width="0.35" transform="translate(789.8 898.6) scale(0.9434 1)">Cysteine and methionine metabolism</text>
<text x="902" y="859.9" font-size="19" font-weight="bold" font-style="italic" text-anchor="middle" stroke="#000" stroke-width="0.35">Cucumis sativus</text>
<text x="906" y="945.7" font-size="16.6" font-weight="bold" text-anchor="middle" stroke="#000" stroke-width="0.35">Gene count</text>
</svg>
</body></html>
